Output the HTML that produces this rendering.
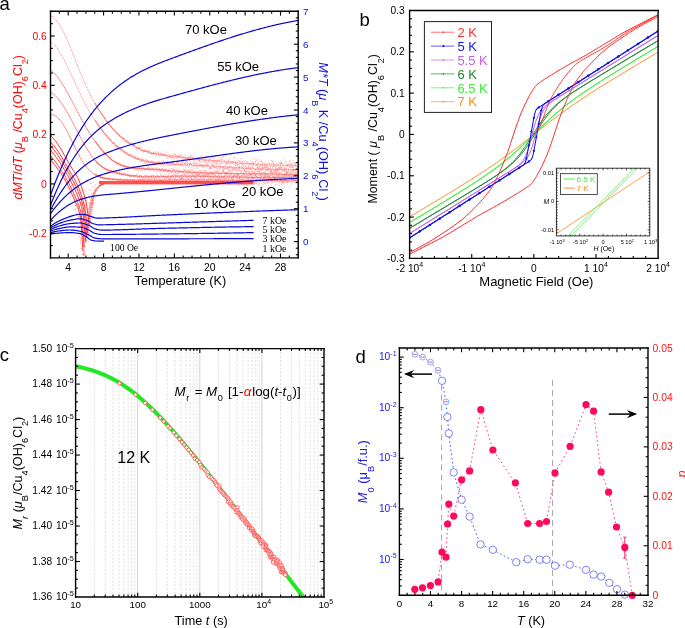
<!DOCTYPE html><html><head><meta charset="utf-8"><style>html,body{margin:0;padding:0;background:#fff;overflow:hidden}svg{display:block}</style></head><body>
<svg style="will-change:transform" width="685" height="628" viewBox="0 0 685 628">
<rect width="685" height="628" fill="#fff"/>
<defs><clipPath id="ca"><rect x="50.5" y="11.3" width="247.7" height="246.55"/></clipPath></defs>
<g clip-path="url(#ca)">
<path d="M50.5 15.89 L51.1 16.05 L51.7 16.27 L52.3 16.56 L52.9 16.91 L53.5 17.33 L54.1 17.8 L54.7 18.34 L55.3 18.93 L55.9 19.57 L56.5 20.27 L57.1 21.02 L57.7 21.83 L58.3 22.68 L58.9 23.58 L59.5 24.52 L60.1 25.51 L60.7 26.53 L61.3 27.6 L61.9 28.71 L62.5 29.86 L63.1 31.04 L63.7 32.25 L64.3 33.49 L64.9 34.77 L65.5 36.07 L66.1 37.4 L66.7 38.76 L67.3 40.14 L67.9 41.54 L68.5 42.96 L69.1 44.41 L69.7 45.86 L70.3 47.34 L70.9 48.82 L71.5 50.32 L72.1 51.83 L72.7 53.34 L73.3 54.87 L73.9 56.4 L74.5 57.93 L75.1 59.46 L75.7 60.99 L76.3 62.53 L76.9 64.06 L77.5 65.58 L78.1 67.1 L78.7 68.61 L79.3 70.1 L79.9 71.59 L80.5 73.07 L81.1 74.53 L81.7 75.97 L82.3 77.39 L82.9 78.8 L83.5 80.19 L84.1 81.56 L84.7 82.91 L85.3 84.25 L85.9 85.57 L86.5 86.87 L87.1 88.16 L87.7 89.43 L88.3 90.68 L88.9 91.91 L89.5 93.13 L90.1 94.34 L90.7 95.52 L91.3 96.69 L91.9 97.85 L92.5 98.98 L93.1 100.11 L93.7 101.21 L94.3 102.3 L94.9 103.38 L95.5 104.44 L96.1 105.49 L96.7 106.52 L97.3 107.53 L97.9 108.53 L98.5 109.52 L99.1 110.49 L99.7 111.45 L100.3 112.39 L100.9 113.32 L101.5 114.23 L102.1 115.13 L102.7 116.02 L103.3 116.89 L103.9 117.75 L104.5 118.6 L105.1 119.43 L105.7 120.25 L106.3 121.06 L106.9 121.85 L107.5 122.63 L108.1 123.4 L108.7 124.15 L109.3 124.9 L109.9 125.63 L110.5 126.34 L111.1 127.05 L111.7 127.74 L112.3 128.43 L112.9 129.1 L113.5 129.76 L114.1 130.4 L114.7 131.04 L115.3 131.67 L115.9 132.28 L116.5 132.88 L117.1 133.47 L117.7 134.05 L118.3 134.62 L118.9 135.18 L119.5 135.73 L120.1 136.27 L120.7 136.8 L121.3 137.32 L121.9 137.83 L122.5 138.32 L123.1 138.81 L123.7 139.29 L124.3 139.76 L124.9 140.22 L125.5 140.67 L126.1 141.11 L126.7 141.54 L127.3 141.97 L127.9 142.38 L128.5 142.79 L129.1 143.18 L129.7 143.57 L130.3 143.95 L130.9 144.32 L131.5 144.68 L132.1 145.04 L132.7 145.39 L133.3 145.72 L133.9 146.06 L134.5 146.38 L135.1 146.69 L135.7 147 L136.3 147.3 L136.9 147.6 L137.5 147.88 L138.1 148.16 L138.7 148.44 L139.3 148.7 L139.9 148.96 L140.5 149.21 L141.1 149.46 L141.7 149.7 L142.3 149.94 L142.9 150.16 L143.5 150.38 L144.1 150.6 L144.7 150.81 L145.3 151.02 L145.9 151.21 L146.5 151.41 L147.1 151.6 L147.7 151.78 L148.3 151.96 L148.9 152.13 L149.5 152.3 L150.1 152.46 L150.7 152.62 L151.3 152.77 L151.9 152.92 L152.5 153.07 L153.1 153.21 L153.7 153.35 L154.3 153.48 L154.9 153.61 L155.5 153.74 L156.1 153.86 L156.7 153.98 L157.3 154.09 L157.9 154.2 L158.5 154.31 L159.1 154.42 L159.7 154.52 L160.3 154.62 L160.9 154.72 L161.5 154.81 L162.1 154.9 L162.7 154.99 L163.3 155.08 L163.9 155.17 L164.5 155.25 L165.1 155.33 L165.7 155.41 L166.3 155.49 L166.9 155.56 L167.5 155.64 L168.1 155.71 L168.7 155.78 L169.3 155.85 L169.9 155.92 L170.5 155.99 L171.1 156.06 L171.7 156.13 L172.3 156.19 L172.9 156.26 L173.5 156.33 L174.1 156.39 L174.7 156.46 L175.3 156.52 L175.9 156.59 L176.5 156.65 L177.1 156.72 L177.7 156.78 L178.3 156.85 L178.9 156.91 L179.5 156.98 L180.1 157.05 L180.7 157.11 L181.3 157.18 L181.9 157.24 L182.5 157.31 L183.1 157.37 L183.7 157.44 L184.3 157.5 L184.9 157.57 L185.5 157.63 L186.1 157.7 L186.7 157.76 L187.3 157.83 L187.9 157.89 L188.5 157.96 L189.1 158.02 L189.7 158.09 L190.3 158.15 L190.9 158.21 L191.5 158.28 L192.1 158.34 L192.7 158.41 L193.3 158.47 L193.9 158.54 L194.5 158.6 L195.1 158.66 L195.7 158.73 L196.3 158.79 L196.9 158.85 L197.5 158.92 L198.1 158.98 L198.7 159.04 L199.3 159.11 L199.9 159.17 L200.5 159.23 L201.1 159.3 L201.7 159.36 L202.3 159.42 L202.9 159.48 L203.5 159.54 L204.1 159.61 L204.7 159.67 L205.3 159.73 L205.9 159.79 L206.5 159.85 L207.1 159.91 L207.7 159.97 L208.3 160.04 L208.9 160.1 L209.5 160.16 L210.1 160.22 L210.7 160.28 L211.3 160.34 L211.9 160.4 L212.5 160.46 L213.1 160.52 L213.7 160.58 L214.3 160.63 L214.9 160.69 L215.5 160.75 L216.1 160.81 L216.7 160.87 L217.3 160.93 L217.9 160.99 L218.5 161.04 L219.1 161.1 L219.7 161.16 L220.3 161.21 L220.9 161.27 L221.5 161.33 L222.1 161.38 L222.7 161.44 L223.3 161.5 L223.9 161.55 L224.5 161.61 L225.1 161.66 L225.7 161.72 L226.3 161.77 L226.9 161.83 L227.5 161.88 L228.1 161.93 L228.7 161.99 L229.3 162.04 L229.9 162.09 L230.5 162.15 L231.1 162.2 L231.7 162.25 L232.3 162.3 L232.9 162.35 L233.5 162.41 L234.1 162.46 L234.7 162.51 L235.3 162.56 L235.9 162.61 L236.5 162.66 L237.1 162.71 L237.7 162.76 L238.3 162.81 L238.9 162.85 L239.5 162.9 L240.1 162.95 L240.7 163 L241.3 163.05 L241.9 163.09 L242.5 163.14 L243.1 163.19 L243.7 163.23 L244.3 163.28 L244.9 163.32 L245.5 163.37 L246.1 163.41 L246.7 163.46 L247.3 163.5 L247.9 163.54 L248.5 163.59 L249.1 163.63 L249.7 163.67 L250.3 163.71 L250.9 163.76 L251.5 163.8 L252.1 163.84 L252.7 163.88 L253.3 163.92 L253.9 163.96 L254.5 164 L255.1 164.04 L255.7 164.07 L256.3 164.11 L256.9 164.15 L257.5 164.19 L258.1 164.22 L258.7 164.26 L259.3 164.3 L259.9 164.33 L260.5 164.37 L261.1 164.4 L261.7 164.44 L262.3 164.47 L262.9 164.51 L263.5 164.54 L264.1 164.57 L264.7 164.6 L265.3 164.64 L265.9 164.67 L266.5 164.7 L267.1 164.73 L267.7 164.76 L268.3 164.79 L268.9 164.82 L269.5 164.85 L270.1 164.87 L270.7 164.9 L271.3 164.93 L271.9 164.95 L272.5 164.98 L273.1 165.01 L273.7 165.03 L274.3 165.06 L274.9 165.08 L275.5 165.1 L276.1 165.13 L276.7 165.15 L277.3 165.17 L277.9 165.19 L278.5 165.22 L279.1 165.24 L279.7 165.26 L280.3 165.28 L280.9 165.3 L281.5 165.31 L282.1 165.33 L282.7 165.35 L283.3 165.37 L283.9 165.38 L284.5 165.4 L285.1 165.41 L285.7 165.43 L286.3 165.44 L286.9 165.46 L287.5 165.47 L288.1 165.48 L288.7 165.5 L289.3 165.51 L289.9 165.52 L290.5 165.53 L291.1 165.54 L291.7 165.55 L292.3 165.56 L292.9 165.56 L293.5 165.57 L294.1 165.58 L294.7 165.59 L295.3 165.59 L295.9 165.6 L296.5 165.6 L297.1 165.6 L297.7 165.61 L298.3 165.61" fill="none" stroke="#ff2a2a" stroke-width="0.8" stroke-dasharray="0.9 0.9" opacity="0.8"/>
<path d="M50.5 41.33 L51.1 41.77 L51.7 42.25 L52.3 42.78 L52.9 43.35 L53.5 43.96 L54.1 44.6 L54.7 45.28 L55.3 46 L55.9 46.76 L56.5 47.55 L57.1 48.37 L57.7 49.22 L58.3 50.1 L58.9 51.02 L59.5 51.96 L60.1 52.93 L60.7 53.93 L61.3 54.95 L61.9 55.99 L62.5 57.06 L63.1 58.15 L63.7 59.26 L64.3 60.39 L64.9 61.54 L65.5 62.71 L66.1 63.89 L66.7 65.09 L67.3 66.3 L67.9 67.53 L68.5 68.77 L69.1 70.02 L69.7 71.27 L70.3 72.54 L70.9 73.82 L71.5 75.1 L72.1 76.38 L72.7 77.67 L73.3 78.97 L73.9 80.26 L74.5 81.56 L75.1 82.86 L75.7 84.15 L76.3 85.44 L76.9 86.73 L77.5 88.02 L78.1 89.3 L78.7 90.57 L79.3 91.83 L79.9 93.09 L80.5 94.33 L81.1 95.57 L81.7 96.79 L82.3 98 L82.9 99.19 L83.5 100.38 L84.1 101.55 L84.7 102.7 L85.3 103.85 L85.9 104.98 L86.5 106.09 L87.1 107.2 L87.7 108.29 L88.3 109.37 L88.9 110.43 L89.5 111.49 L90.1 112.53 L90.7 113.56 L91.3 114.57 L91.9 115.57 L92.5 116.56 L93.1 117.54 L93.7 118.51 L94.3 119.46 L94.9 120.4 L95.5 121.33 L96.1 122.24 L96.7 123.15 L97.3 124.04 L97.9 124.92 L98.5 125.78 L99.1 126.64 L99.7 127.48 L100.3 128.31 L100.9 129.13 L101.5 129.94 L102.1 130.73 L102.7 131.51 L103.3 132.29 L103.9 133.04 L104.5 133.79 L105.1 134.53 L105.7 135.25 L106.3 135.96 L106.9 136.66 L107.5 137.35 L108.1 138.03 L108.7 138.7 L109.3 139.35 L109.9 139.99 L110.5 140.63 L111.1 141.25 L111.7 141.86 L112.3 142.45 L112.9 143.04 L113.5 143.62 L114.1 144.18 L114.7 144.73 L115.3 145.28 L115.9 145.81 L116.5 146.33 L117.1 146.84 L117.7 147.34 L118.3 147.83 L118.9 148.31 L119.5 148.78 L120.1 149.24 L120.7 149.69 L121.3 150.13 L121.9 150.56 L122.5 150.98 L123.1 151.39 L123.7 151.8 L124.3 152.19 L124.9 152.57 L125.5 152.95 L126.1 153.32 L126.7 153.67 L127.3 154.02 L127.9 154.37 L128.5 154.7 L129.1 155.02 L129.7 155.34 L130.3 155.65 L130.9 155.95 L131.5 156.24 L132.1 156.52 L132.7 156.8 L133.3 157.07 L133.9 157.33 L134.5 157.59 L135.1 157.84 L135.7 158.08 L136.3 158.31 L136.9 158.54 L137.5 158.76 L138.1 158.98 L138.7 159.18 L139.3 159.38 L139.9 159.58 L140.5 159.77 L141.1 159.95 L141.7 160.13 L142.3 160.3 L142.9 160.47 L143.5 160.63 L144.1 160.78 L144.7 160.93 L145.3 161.07 L145.9 161.21 L146.5 161.35 L147.1 161.48 L147.7 161.6 L148.3 161.72 L148.9 161.84 L149.5 161.95 L150.1 162.05 L150.7 162.16 L151.3 162.25 L151.9 162.35 L152.5 162.44 L153.1 162.53 L153.7 162.61 L154.3 162.69 L154.9 162.76 L155.5 162.84 L156.1 162.91 L156.7 162.97 L157.3 163.04 L157.9 163.1 L158.5 163.16 L159.1 163.21 L159.7 163.26 L160.3 163.32 L160.9 163.36 L161.5 163.41 L162.1 163.45 L162.7 163.5 L163.3 163.54 L163.9 163.57 L164.5 163.61 L165.1 163.65 L165.7 163.68 L166.3 163.71 L166.9 163.74 L167.5 163.77 L168.1 163.8 L168.7 163.83 L169.3 163.86 L169.9 163.89 L170.5 163.91 L171.1 163.94 L171.7 163.97 L172.3 163.99 L172.9 164.02 L173.5 164.05 L174.1 164.07 L174.7 164.1 L175.3 164.13 L175.9 164.15 L176.5 164.18 L177.1 164.21 L177.7 164.24 L178.3 164.27 L178.9 164.3 L179.5 164.33 L180.1 164.36 L180.7 164.39 L181.3 164.42 L181.9 164.45 L182.5 164.48 L183.1 164.51 L183.7 164.55 L184.3 164.58 L184.9 164.61 L185.5 164.64 L186.1 164.68 L186.7 164.71 L187.3 164.75 L187.9 164.78 L188.5 164.82 L189.1 164.85 L189.7 164.89 L190.3 164.92 L190.9 164.96 L191.5 164.99 L192.1 165.03 L192.7 165.07 L193.3 165.1 L193.9 165.14 L194.5 165.18 L195.1 165.22 L195.7 165.25 L196.3 165.29 L196.9 165.33 L197.5 165.37 L198.1 165.41 L198.7 165.45 L199.3 165.49 L199.9 165.53 L200.5 165.56 L201.1 165.6 L201.7 165.64 L202.3 165.68 L202.9 165.72 L203.5 165.76 L204.1 165.8 L204.7 165.84 L205.3 165.88 L205.9 165.92 L206.5 165.97 L207.1 166.01 L207.7 166.05 L208.3 166.09 L208.9 166.13 L209.5 166.17 L210.1 166.21 L210.7 166.25 L211.3 166.29 L211.9 166.33 L212.5 166.38 L213.1 166.42 L213.7 166.46 L214.3 166.5 L214.9 166.54 L215.5 166.58 L216.1 166.62 L216.7 166.66 L217.3 166.71 L217.9 166.75 L218.5 166.79 L219.1 166.83 L219.7 166.87 L220.3 166.91 L220.9 166.95 L221.5 166.99 L222.1 167.03 L222.7 167.07 L223.3 167.12 L223.9 167.16 L224.5 167.2 L225.1 167.24 L225.7 167.28 L226.3 167.32 L226.9 167.36 L227.5 167.4 L228.1 167.44 L228.7 167.48 L229.3 167.52 L229.9 167.56 L230.5 167.6 L231.1 167.63 L231.7 167.67 L232.3 167.71 L232.9 167.75 L233.5 167.79 L234.1 167.83 L234.7 167.87 L235.3 167.9 L235.9 167.94 L236.5 167.98 L237.1 168.02 L237.7 168.05 L238.3 168.09 L238.9 168.12 L239.5 168.16 L240.1 168.2 L240.7 168.23 L241.3 168.27 L241.9 168.3 L242.5 168.34 L243.1 168.37 L243.7 168.41 L244.3 168.44 L244.9 168.47 L245.5 168.51 L246.1 168.54 L246.7 168.57 L247.3 168.6 L247.9 168.64 L248.5 168.67 L249.1 168.7 L249.7 168.73 L250.3 168.76 L250.9 168.79 L251.5 168.82 L252.1 168.85 L252.7 168.88 L253.3 168.91 L253.9 168.93 L254.5 168.96 L255.1 168.99 L255.7 169.01 L256.3 169.04 L256.9 169.07 L257.5 169.09 L258.1 169.12 L258.7 169.14 L259.3 169.17 L259.9 169.19 L260.5 169.21 L261.1 169.24 L261.7 169.26 L262.3 169.28 L262.9 169.3 L263.5 169.32 L264.1 169.34 L264.7 169.36 L265.3 169.38 L265.9 169.4 L266.5 169.42 L267.1 169.43 L267.7 169.45 L268.3 169.47 L268.9 169.48 L269.5 169.5 L270.1 169.51 L270.7 169.52 L271.3 169.54 L271.9 169.55 L272.5 169.56 L273.1 169.57 L273.7 169.59 L274.3 169.6 L274.9 169.61 L275.5 169.61 L276.1 169.62 L276.7 169.63 L277.3 169.64 L277.9 169.64 L278.5 169.65 L279.1 169.65 L279.7 169.66 L280.3 169.66 L280.9 169.66 L281.5 169.67 L282.1 169.67 L282.7 169.67 L283.3 169.67 L283.9 169.67 L284.5 169.67 L285.1 169.66 L285.7 169.66 L286.3 169.66 L286.9 169.65 L287.5 169.65 L288.1 169.64 L288.7 169.64 L289.3 169.63 L289.9 169.62 L290.5 169.61 L291.1 169.6 L291.7 169.59 L292.3 169.58 L292.9 169.57 L293.5 169.55 L294.1 169.54 L294.7 169.52 L295.3 169.51 L295.9 169.49 L296.5 169.47 L297.1 169.45 L297.7 169.44 L298.3 169.42" fill="none" stroke="#ff2a2a" stroke-width="0.8" stroke-dasharray="0.9 0.9" opacity="0.8"/>
<path d="M50.5 69.84 L51.1 70.28 L51.7 70.75 L52.3 71.26 L52.9 71.81 L53.5 72.38 L54.1 72.99 L54.7 73.63 L55.3 74.3 L55.9 74.99 L56.5 75.72 L57.1 76.47 L57.7 77.25 L58.3 78.05 L58.9 78.88 L59.5 79.73 L60.1 80.61 L60.7 81.5 L61.3 82.42 L61.9 83.36 L62.5 84.31 L63.1 85.28 L63.7 86.27 L64.3 87.28 L64.9 88.3 L65.5 89.33 L66.1 90.38 L66.7 91.44 L67.3 92.51 L67.9 93.59 L68.5 94.68 L69.1 95.78 L69.7 96.89 L70.3 98.01 L70.9 99.13 L71.5 100.26 L72.1 101.39 L72.7 102.53 L73.3 103.67 L73.9 104.81 L74.5 105.96 L75.1 107.1 L75.7 108.25 L76.3 109.39 L76.9 110.53 L77.5 111.67 L78.1 112.81 L78.7 113.94 L79.3 115.07 L79.9 116.19 L80.5 117.3 L81.1 118.41 L81.7 119.51 L82.3 120.6 L82.9 121.68 L83.5 122.75 L84.1 123.81 L84.7 124.86 L85.3 125.9 L85.9 126.93 L86.5 127.95 L87.1 128.96 L87.7 129.97 L88.3 130.96 L88.9 131.94 L89.5 132.91 L90.1 133.86 L90.7 134.81 L91.3 135.75 L91.9 136.67 L92.5 137.58 L93.1 138.48 L93.7 139.37 L94.3 140.25 L94.9 141.12 L95.5 141.97 L96.1 142.81 L96.7 143.64 L97.3 144.46 L97.9 145.26 L98.5 146.05 L99.1 146.82 L99.7 147.59 L100.3 148.34 L100.9 149.07 L101.5 149.8 L102.1 150.51 L102.7 151.2 L103.3 151.88 L103.9 152.55 L104.5 153.2 L105.1 153.84 L105.7 154.46 L106.3 155.07 L106.9 155.66 L107.5 156.24 L108.1 156.8 L108.7 157.35 L109.3 157.88 L109.9 158.4 L110.5 158.9 L111.1 159.38 L111.7 159.85 L112.3 160.3 L112.9 160.74 L113.5 161.16 L114.1 161.56 L114.7 161.95 L115.3 162.32 L115.9 162.68 L116.5 163.02 L117.1 163.35 L117.7 163.66 L118.3 163.96 L118.9 164.25 L119.5 164.52 L120.1 164.78 L120.7 165.03 L121.3 165.27 L121.9 165.5 L122.5 165.71 L123.1 165.91 L123.7 166.11 L124.3 166.29 L124.9 166.46 L125.5 166.62 L126.1 166.78 L126.7 166.92 L127.3 167.06 L127.9 167.18 L128.5 167.3 L129.1 167.42 L129.7 167.52 L130.3 167.62 L130.9 167.71 L131.5 167.8 L132.1 167.88 L132.7 167.95 L133.3 168.02 L133.9 168.08 L134.5 168.14 L135.1 168.2 L135.7 168.25 L136.3 168.3 L136.9 168.34 L137.5 168.39 L138.1 168.43 L138.7 168.46 L139.3 168.5 L139.9 168.53 L140.5 168.57 L141.1 168.6 L141.7 168.63 L142.3 168.66 L142.9 168.69 L143.5 168.73 L144.1 168.76 L144.7 168.79 L145.3 168.83 L145.9 168.86 L146.5 168.9 L147.1 168.94 L147.7 168.98 L148.3 169.02 L148.9 169.06 L149.5 169.1 L150.1 169.14 L150.7 169.19 L151.3 169.23 L151.9 169.27 L152.5 169.32 L153.1 169.36 L153.7 169.41 L154.3 169.46 L154.9 169.5 L155.5 169.55 L156.1 169.6 L156.7 169.65 L157.3 169.7 L157.9 169.74 L158.5 169.79 L159.1 169.84 L159.7 169.89 L160.3 169.94 L160.9 169.99 L161.5 170.04 L162.1 170.09 L162.7 170.14 L163.3 170.2 L163.9 170.25 L164.5 170.3 L165.1 170.35 L165.7 170.4 L166.3 170.45 L166.9 170.5 L167.5 170.55 L168.1 170.6 L168.7 170.65 L169.3 170.7 L169.9 170.75 L170.5 170.8 L171.1 170.84 L171.7 170.89 L172.3 170.94 L172.9 170.99 L173.5 171.03 L174.1 171.08 L174.7 171.13 L175.3 171.17 L175.9 171.22 L176.5 171.26 L177.1 171.3 L177.7 171.35 L178.3 171.39 L178.9 171.43 L179.5 171.47 L180.1 171.51 L180.7 171.55 L181.3 171.59 L181.9 171.63 L182.5 171.67 L183.1 171.71 L183.7 171.75 L184.3 171.78 L184.9 171.82 L185.5 171.86 L186.1 171.89 L186.7 171.93 L187.3 171.96 L187.9 172 L188.5 172.03 L189.1 172.06 L189.7 172.1 L190.3 172.13 L190.9 172.16 L191.5 172.19 L192.1 172.22 L192.7 172.25 L193.3 172.28 L193.9 172.31 L194.5 172.34 L195.1 172.37 L195.7 172.4 L196.3 172.43 L196.9 172.46 L197.5 172.48 L198.1 172.51 L198.7 172.54 L199.3 172.56 L199.9 172.59 L200.5 172.61 L201.1 172.64 L201.7 172.66 L202.3 172.69 L202.9 172.71 L203.5 172.73 L204.1 172.76 L204.7 172.78 L205.3 172.8 L205.9 172.82 L206.5 172.84 L207.1 172.87 L207.7 172.89 L208.3 172.91 L208.9 172.93 L209.5 172.95 L210.1 172.97 L210.7 172.99 L211.3 173 L211.9 173.02 L212.5 173.04 L213.1 173.06 L213.7 173.08 L214.3 173.09 L214.9 173.11 L215.5 173.13 L216.1 173.14 L216.7 173.16 L217.3 173.18 L217.9 173.19 L218.5 173.21 L219.1 173.22 L219.7 173.24 L220.3 173.25 L220.9 173.27 L221.5 173.28 L222.1 173.3 L222.7 173.31 L223.3 173.32 L223.9 173.34 L224.5 173.35 L225.1 173.36 L225.7 173.38 L226.3 173.39 L226.9 173.4 L227.5 173.41 L228.1 173.42 L228.7 173.44 L229.3 173.45 L229.9 173.46 L230.5 173.47 L231.1 173.48 L231.7 173.49 L232.3 173.5 L232.9 173.51 L233.5 173.52 L234.1 173.53 L234.7 173.54 L235.3 173.55 L235.9 173.56 L236.5 173.57 L237.1 173.58 L237.7 173.59 L238.3 173.6 L238.9 173.61 L239.5 173.62 L240.1 173.63 L240.7 173.64 L241.3 173.65 L241.9 173.66 L242.5 173.67 L243.1 173.67 L243.7 173.68 L244.3 173.69 L244.9 173.7 L245.5 173.71 L246.1 173.72 L246.7 173.72 L247.3 173.73 L247.9 173.74 L248.5 173.75 L249.1 173.76 L249.7 173.76 L250.3 173.77 L250.9 173.78 L251.5 173.79 L252.1 173.8 L252.7 173.8 L253.3 173.81 L253.9 173.82 L254.5 173.83 L255.1 173.84 L255.7 173.84 L256.3 173.85 L256.9 173.86 L257.5 173.87 L258.1 173.88 L258.7 173.88 L259.3 173.89 L259.9 173.9 L260.5 173.91 L261.1 173.92 L261.7 173.92 L262.3 173.93 L262.9 173.94 L263.5 173.95 L264.1 173.96 L264.7 173.97 L265.3 173.97 L265.9 173.98 L266.5 173.99 L267.1 174 L267.7 174.01 L268.3 174.02 L268.9 174.03 L269.5 174.04 L270.1 174.05 L270.7 174.06 L271.3 174.07 L271.9 174.08 L272.5 174.09 L273.1 174.1 L273.7 174.11 L274.3 174.12 L274.9 174.13 L275.5 174.14 L276.1 174.15 L276.7 174.16 L277.3 174.17 L277.9 174.18 L278.5 174.19 L279.1 174.2 L279.7 174.22 L280.3 174.23 L280.9 174.24 L281.5 174.25 L282.1 174.27 L282.7 174.28 L283.3 174.29 L283.9 174.3 L284.5 174.32 L285.1 174.33 L285.7 174.35 L286.3 174.36 L286.9 174.37 L287.5 174.39 L288.1 174.4 L288.7 174.42 L289.3 174.43 L289.9 174.45 L290.5 174.46 L291.1 174.48 L291.7 174.5 L292.3 174.51 L292.9 174.53 L293.5 174.55 L294.1 174.57 L294.7 174.58 L295.3 174.6 L295.9 174.62 L296.5 174.64 L297.1 174.66 L297.7 174.68 L298.3 174.7" fill="none" stroke="#ff2a2a" stroke-width="0.8" stroke-dasharray="1.6 0.4" opacity="0.9"/>
<path d="M50.5 92.25 L51.1 92.55 L51.7 92.89 L52.3 93.27 L52.9 93.68 L53.5 94.14 L54.1 94.62 L54.7 95.15 L55.3 95.71 L55.9 96.3 L56.5 96.93 L57.1 97.58 L57.7 98.27 L58.3 98.98 L58.9 99.73 L59.5 100.5 L60.1 101.3 L60.7 102.12 L61.3 102.97 L61.9 103.85 L62.5 104.74 L63.1 105.66 L63.7 106.59 L64.3 107.55 L64.9 108.53 L65.5 109.52 L66.1 110.53 L66.7 111.56 L67.3 112.6 L67.9 113.65 L68.5 114.72 L69.1 115.8 L69.7 116.89 L70.3 117.99 L70.9 119.1 L71.5 120.22 L72.1 121.35 L72.7 122.48 L73.3 123.62 L73.9 124.76 L74.5 125.9 L75.1 127.05 L75.7 128.2 L76.3 129.34 L76.9 130.49 L77.5 131.64 L78.1 132.78 L78.7 133.92 L79.3 135.06 L79.9 136.19 L80.5 137.32 L81.1 138.44 L81.7 139.54 L82.3 140.65 L82.9 141.74 L83.5 142.82 L84.1 143.88 L84.7 144.94 L85.3 145.98 L85.9 147.01 L86.5 148.03 L87.1 149.03 L87.7 150.01 L88.3 150.98 L88.9 151.93 L89.5 152.86 L90.1 153.77 L90.7 154.67 L91.3 155.54 L91.9 156.39 L92.5 157.22 L93.1 158.02 L93.7 158.8 L94.3 159.56 L94.9 160.29 L95.5 161 L96.1 161.68 L96.7 162.33 L97.3 162.95 L97.9 163.55 L98.5 164.11 L99.1 164.65 L99.7 165.17 L100.3 165.66 L100.9 166.12 L101.5 166.57 L102.1 166.99 L102.7 167.39 L103.3 167.77 L103.9 168.13 L104.5 168.47 L105.1 168.8 L105.7 169.11 L106.3 169.4 L106.9 169.68 L107.5 169.95 L108.1 170.2 L108.7 170.44 L109.3 170.67 L109.9 170.89 L110.5 171.1 L111.1 171.31 L111.7 171.51 L112.3 171.7 L112.9 171.88 L113.5 172.07 L114.1 172.24 L114.7 172.42 L115.3 172.59 L115.9 172.75 L116.5 172.91 L117.1 173.07 L117.7 173.22 L118.3 173.37 L118.9 173.51 L119.5 173.65 L120.1 173.79 L120.7 173.92 L121.3 174.05 L121.9 174.18 L122.5 174.3 L123.1 174.42 L123.7 174.53 L124.3 174.64 L124.9 174.75 L125.5 174.85 L126.1 174.95 L126.7 175.05 L127.3 175.14 L127.9 175.23 L128.5 175.32 L129.1 175.4 L129.7 175.48 L130.3 175.56 L130.9 175.63 L131.5 175.71 L132.1 175.77 L132.7 175.84 L133.3 175.9 L133.9 175.96 L134.5 176.02 L135.1 176.08 L135.7 176.13 L136.3 176.18 L136.9 176.22 L137.5 176.27 L138.1 176.31 L138.7 176.35 L139.3 176.39 L139.9 176.42 L140.5 176.46 L141.1 176.49 L141.7 176.52 L142.3 176.54 L142.9 176.57 L143.5 176.59 L144.1 176.61 L144.7 176.63 L145.3 176.65 L145.9 176.66 L146.5 176.68 L147.1 176.69 L147.7 176.7 L148.3 176.71 L148.9 176.71 L149.5 176.72 L150.1 176.72 L150.7 176.73 L151.3 176.73 L151.9 176.73 L152.5 176.73 L153.1 176.72 L153.7 176.72 L154.3 176.72 L154.9 176.71 L155.5 176.71 L156.1 176.7 L156.7 176.69 L157.3 176.68 L157.9 176.67 L158.5 176.66 L159.1 176.65 L159.7 176.64 L160.3 176.62 L160.9 176.61 L161.5 176.6 L162.1 176.58 L162.7 176.57 L163.3 176.55 L163.9 176.54 L164.5 176.52 L165.1 176.51 L165.7 176.49 L166.3 176.48 L166.9 176.46 L167.5 176.44 L168.1 176.43 L168.7 176.41 L169.3 176.4 L169.9 176.38 L170.5 176.37 L171.1 176.35 L171.7 176.34 L172.3 176.32 L172.9 176.31 L173.5 176.3 L174.1 176.29 L174.7 176.27 L175.3 176.26 L175.9 176.25 L176.5 176.24 L177.1 176.23 L177.7 176.22 L178.3 176.22 L178.9 176.21 L179.5 176.2 L180.1 176.19 L180.7 176.19 L181.3 176.18 L181.9 176.18 L182.5 176.18 L183.1 176.17 L183.7 176.17 L184.3 176.17 L184.9 176.16 L185.5 176.16 L186.1 176.16 L186.7 176.16 L187.3 176.16 L187.9 176.16 L188.5 176.17 L189.1 176.17 L189.7 176.17 L190.3 176.17 L190.9 176.17 L191.5 176.18 L192.1 176.18 L192.7 176.19 L193.3 176.19 L193.9 176.2 L194.5 176.2 L195.1 176.21 L195.7 176.22 L196.3 176.22 L196.9 176.23 L197.5 176.24 L198.1 176.25 L198.7 176.25 L199.3 176.26 L199.9 176.27 L200.5 176.28 L201.1 176.29 L201.7 176.3 L202.3 176.31 L202.9 176.32 L203.5 176.34 L204.1 176.35 L204.7 176.36 L205.3 176.37 L205.9 176.38 L206.5 176.4 L207.1 176.41 L207.7 176.42 L208.3 176.43 L208.9 176.45 L209.5 176.46 L210.1 176.48 L210.7 176.49 L211.3 176.5 L211.9 176.52 L212.5 176.53 L213.1 176.55 L213.7 176.56 L214.3 176.58 L214.9 176.59 L215.5 176.61 L216.1 176.63 L216.7 176.64 L217.3 176.66 L217.9 176.67 L218.5 176.69 L219.1 176.71 L219.7 176.72 L220.3 176.74 L220.9 176.76 L221.5 176.77 L222.1 176.79 L222.7 176.81 L223.3 176.82 L223.9 176.84 L224.5 176.86 L225.1 176.88 L225.7 176.89 L226.3 176.91 L226.9 176.93 L227.5 176.94 L228.1 176.96 L228.7 176.98 L229.3 177 L229.9 177.01 L230.5 177.03 L231.1 177.05 L231.7 177.06 L232.3 177.08 L232.9 177.1 L233.5 177.11 L234.1 177.13 L234.7 177.15 L235.3 177.16 L235.9 177.18 L236.5 177.2 L237.1 177.21 L237.7 177.23 L238.3 177.24 L238.9 177.26 L239.5 177.28 L240.1 177.29 L240.7 177.31 L241.3 177.32 L241.9 177.34 L242.5 177.35 L243.1 177.37 L243.7 177.38 L244.3 177.4 L244.9 177.41 L245.5 177.42 L246.1 177.44 L246.7 177.45 L247.3 177.46 L247.9 177.48 L248.5 177.49 L249.1 177.5 L249.7 177.51 L250.3 177.52 L250.9 177.54 L251.5 177.55 L252.1 177.56 L252.7 177.57 L253.3 177.58 L253.9 177.59 L254.5 177.6 L255.1 177.61 L255.7 177.62 L256.3 177.62 L256.9 177.63 L257.5 177.64 L258.1 177.65 L258.7 177.65 L259.3 177.66 L259.9 177.67 L260.5 177.67 L261.1 177.68 L261.7 177.68 L262.3 177.69 L262.9 177.69 L263.5 177.7 L264.1 177.7 L264.7 177.7 L265.3 177.7 L265.9 177.71 L266.5 177.71 L267.1 177.71 L267.7 177.71 L268.3 177.71 L268.9 177.71 L269.5 177.71 L270.1 177.7 L270.7 177.7 L271.3 177.7 L271.9 177.7 L272.5 177.69 L273.1 177.69 L273.7 177.68 L274.3 177.68 L274.9 177.67 L275.5 177.66 L276.1 177.66 L276.7 177.65 L277.3 177.64 L277.9 177.63 L278.5 177.62 L279.1 177.61 L279.7 177.6 L280.3 177.59 L280.9 177.57 L281.5 177.56 L282.1 177.55 L282.7 177.53 L283.3 177.52 L283.9 177.5 L284.5 177.48 L285.1 177.47 L285.7 177.45 L286.3 177.43 L286.9 177.41 L287.5 177.39 L288.1 177.37 L288.7 177.35 L289.3 177.32 L289.9 177.3 L290.5 177.28 L291.1 177.25 L291.7 177.23 L292.3 177.2 L292.9 177.17 L293.5 177.14 L294.1 177.11 L294.7 177.08 L295.3 177.05 L295.9 177.02 L296.5 176.99 L297.1 176.96 L297.7 176.92 L298.3 176.89" fill="none" stroke="#ff2a2a" stroke-width="0.8" stroke-dasharray="1.6 0.4" opacity="0.9"/>
<path d="M50.5 114.83 L51.1 114.74 L51.7 114.71 L52.3 114.75 L52.9 114.85 L53.5 115 L54.1 115.21 L54.7 115.48 L55.3 115.81 L55.9 116.19 L56.5 116.62 L57.1 117.1 L57.7 117.63 L58.3 118.21 L58.9 118.83 L59.5 119.51 L60.1 120.22 L60.7 120.98 L61.3 121.78 L61.9 122.61 L62.5 123.49 L63.1 124.4 L63.7 125.35 L64.3 126.34 L64.9 127.35 L65.5 128.4 L66.1 129.48 L66.7 130.58 L67.3 131.71 L67.9 132.87 L68.5 134.04 L69.1 135.24 L69.7 136.45 L70.3 137.67 L70.9 138.91 L71.5 140.15 L72.1 141.4 L72.7 142.65 L73.3 143.9 L73.9 145.16 L74.5 146.41 L75.1 147.65 L75.7 148.88 L76.3 150.1 L76.9 151.31 L77.5 152.5 L78.1 153.68 L78.7 154.83 L79.3 155.96 L79.9 157.06 L80.5 158.13 L81.1 159.18 L81.7 160.19 L82.3 161.16 L82.9 162.1 L83.5 163 L84.1 163.87 L84.7 164.71 L85.3 165.52 L85.9 166.29 L86.5 167.04 L87.1 167.75 L87.7 168.44 L88.3 169.09 L88.9 169.72 L89.5 170.32 L90.1 170.89 L90.7 171.44 L91.3 171.96 L91.9 172.45 L92.5 172.93 L93.1 173.38 L93.7 173.8 L94.3 174.2 L94.9 174.59 L95.5 174.95 L96.1 175.29 L96.7 175.61 L97.3 175.91 L97.9 176.2 L98.5 176.46 L99.1 176.71 L99.7 176.95 L100.3 177.17 L100.9 177.37 L101.5 177.56 L102.1 177.73 L102.7 177.9 L103.3 178.05 L103.9 178.18 L104.5 178.31 L105.1 178.43 L105.7 178.54 L106.3 178.64 L106.9 178.73 L107.5 178.81 L108.1 178.89 L108.7 178.96 L109.3 179.02 L109.9 179.08 L110.5 179.14 L111.1 179.19 L111.7 179.24 L112.3 179.28 L112.9 179.33 L113.5 179.37 L114.1 179.42 L114.7 179.46 L115.3 179.5 L115.9 179.54 L116.5 179.57 L117.1 179.61 L117.7 179.65 L118.3 179.68 L118.9 179.71 L119.5 179.75 L120.1 179.78 L120.7 179.81 L121.3 179.84 L121.9 179.87 L122.5 179.89 L123.1 179.92 L123.7 179.94 L124.3 179.97 L124.9 179.99 L125.5 180.01 L126.1 180.04 L126.7 180.06 L127.3 180.08 L127.9 180.1 L128.5 180.11 L129.1 180.13 L129.7 180.15 L130.3 180.16 L130.9 180.18 L131.5 180.19 L132.1 180.21 L132.7 180.22 L133.3 180.23 L133.9 180.24 L134.5 180.25 L135.1 180.26 L135.7 180.27 L136.3 180.28 L136.9 180.29 L137.5 180.29 L138.1 180.3 L138.7 180.31 L139.3 180.31 L139.9 180.32 L140.5 180.32 L141.1 180.32 L141.7 180.33 L142.3 180.33 L142.9 180.33 L143.5 180.33 L144.1 180.33 L144.7 180.33 L145.3 180.33 L145.9 180.33 L146.5 180.33 L147.1 180.33 L147.7 180.33 L148.3 180.33 L148.9 180.32 L149.5 180.32 L150.1 180.32 L150.7 180.32 L151.3 180.31 L151.9 180.31 L152.5 180.3 L153.1 180.3 L153.7 180.29 L154.3 180.29 L154.9 180.28 L155.5 180.28 L156.1 180.27 L156.7 180.27 L157.3 180.26 L157.9 180.25 L158.5 180.25 L159.1 180.24 L159.7 180.24 L160.3 180.23 L160.9 180.22 L161.5 180.22 L162.1 180.21 L162.7 180.2 L163.3 180.19 L163.9 180.19 L164.5 180.18 L165.1 180.17 L165.7 180.17 L166.3 180.16 L166.9 180.15 L167.5 180.15 L168.1 180.14 L168.7 180.13 L169.3 180.13 L169.9 180.12 L170.5 180.11 L171.1 180.11 L171.7 180.1 L172.3 180.1 L172.9 180.09 L173.5 180.09 L174.1 180.08 L174.7 180.08 L175.3 180.07 L175.9 180.07 L176.5 180.06 L177.1 180.06 L177.7 180.06 L178.3 180.05 L178.9 180.05 L179.5 180.05 L180.1 180.04 L180.7 180.04 L181.3 180.04 L181.9 180.04 L182.5 180.04 L183.1 180.04 L183.7 180.03 L184.3 180.03 L184.9 180.03 L185.5 180.03 L186.1 180.03 L186.7 180.03 L187.3 180.03 L187.9 180.03 L188.5 180.03 L189.1 180.03 L189.7 180.03 L190.3 180.03 L190.9 180.04 L191.5 180.04 L192.1 180.04 L192.7 180.04 L193.3 180.04 L193.9 180.04 L194.5 180.05 L195.1 180.05 L195.7 180.05 L196.3 180.05 L196.9 180.06 L197.5 180.06 L198.1 180.06 L198.7 180.07 L199.3 180.07 L199.9 180.07 L200.5 180.08 L201.1 180.08 L201.7 180.09 L202.3 180.09 L202.9 180.09 L203.5 180.1 L204.1 180.1 L204.7 180.11 L205.3 180.11 L205.9 180.12 L206.5 180.12 L207.1 180.13 L207.7 180.13 L208.3 180.14 L208.9 180.14 L209.5 180.15 L210.1 180.15 L210.7 180.16 L211.3 180.16 L211.9 180.17 L212.5 180.18 L213.1 180.18 L213.7 180.19 L214.3 180.19 L214.9 180.2 L215.5 180.21 L216.1 180.21 L216.7 180.22 L217.3 180.22 L217.9 180.23 L218.5 180.24 L219.1 180.24 L219.7 180.25 L220.3 180.26 L220.9 180.26 L221.5 180.27 L222.1 180.28 L222.7 180.28 L223.3 180.29 L223.9 180.29 L224.5 180.3 L225.1 180.31 L225.7 180.31 L226.3 180.32 L226.9 180.33 L227.5 180.33 L228.1 180.34 L228.7 180.35 L229.3 180.35 L229.9 180.36 L230.5 180.37 L231.1 180.37 L231.7 180.38 L232.3 180.39 L232.9 180.39 L233.5 180.4 L234.1 180.41 L234.7 180.41 L235.3 180.42 L235.9 180.42 L236.5 180.43 L237.1 180.44 L237.7 180.44 L238.3 180.45 L238.9 180.46 L239.5 180.46 L240.1 180.47 L240.7 180.47 L241.3 180.48 L241.9 180.48 L242.5 180.49 L243.1 180.49 L243.7 180.5 L244.3 180.51 L244.9 180.51 L245.5 180.52 L246.1 180.52 L246.7 180.53 L247.3 180.53 L247.9 180.54 L248.5 180.54 L249.1 180.54 L249.7 180.55 L250.3 180.55 L250.9 180.56 L251.5 180.56 L252.1 180.56 L252.7 180.57 L253.3 180.57 L253.9 180.58 L254.5 180.58 L255.1 180.58 L255.7 180.59 L256.3 180.59 L256.9 180.59 L257.5 180.59 L258.1 180.6 L258.7 180.6 L259.3 180.6 L259.9 180.6 L260.5 180.6 L261.1 180.61 L261.7 180.61 L262.3 180.61 L262.9 180.61 L263.5 180.61 L264.1 180.61 L264.7 180.61 L265.3 180.61 L265.9 180.61 L266.5 180.61 L267.1 180.61 L267.7 180.61 L268.3 180.61 L268.9 180.61 L269.5 180.61 L270.1 180.61 L270.7 180.61 L271.3 180.6 L271.9 180.6 L272.5 180.6 L273.1 180.6 L273.7 180.59 L274.3 180.59 L274.9 180.59 L275.5 180.58 L276.1 180.58 L276.7 180.58 L277.3 180.57 L277.9 180.57 L278.5 180.56 L279.1 180.56 L279.7 180.55 L280.3 180.55 L280.9 180.54 L281.5 180.54 L282.1 180.53 L282.7 180.52 L283.3 180.52 L283.9 180.51 L284.5 180.5 L285.1 180.49 L285.7 180.49 L286.3 180.48 L286.9 180.47 L287.5 180.46 L288.1 180.45 L288.7 180.44 L289.3 180.43 L289.9 180.42 L290.5 180.41 L291.1 180.4 L291.7 180.39 L292.3 180.38 L292.9 180.36 L293.5 180.35 L294.1 180.34 L294.7 180.33 L295.3 180.31 L295.9 180.3 L296.5 180.29 L297.1 180.27 L297.7 180.26 L298.3 180.24" fill="none" stroke="#ff2a2a" stroke-width="0.8" stroke-dasharray="1.6 0.4" opacity="0.9"/>
<path d="M95.09 103.48h0.8M94.74 103.71h0.8M95.28 104.25h0.8M95.55 104.46h0.8M95.84 105.8h0.8M95.85 105.56h0.8M96.42 105.93h0.8M96.48 106.69h0.8M97.25 106.86h0.8M97.14 106.84h0.8M97.97 108.37h0.8M97.62 108.27h0.8M98.19 109.28h0.8M98.49 109.31h0.8M98.93 110.25h0.8M98.77 110.44h0.8M99.14 110.87h0.8M99.22 110.94h0.8M99.84 111.71h0.8M100 111.55h0.8M100.68 112.45h0.8M100.62 112.77h0.8M101.07 113.56h0.8M101.28 113.96h0.8M101.89 114.35h0.8M101.37 114.12h0.8M101.94 114.73h0.8M102.14 115.48h0.8M102.86 116.5h0.8M102.74 116.14h0.8M103.37 117.03h0.8M103.31 116.61h0.8M104 117.27h0.8M104.07 117.42h0.8M104.09 117.87h0.8M104.47 118.47h0.8M105.09 118.46h0.8M104.77 118.24h0.8M105.16 119.49h0.8M105.43 120.27h0.8M105.74 120.75h0.8M106.16 120.82h0.8M106.48 121.59h0.8M106.77 121.6h0.8M107.13 122.49h0.8M107.33 122.32h0.8M107.52 123.16h0.8M107.6 122.1h0.8M108.47 122.99h0.8M107.99 124.18h0.8M108.59 124.35h0.8M108.74 124.48h0.8M109 124.62h0.8M109.25 124.72h0.8M110.12 125.19h0.8M109.96 125.97h0.8M110.51 125.62h0.8M110.13 126.17h0.8M111.17 127.5h0.8M111.13 126.42h0.8M111.26 127.16h0.8M111.58 127.8h0.8M111.88 128.3h0.8M111.85 128.21h0.8M112.3 128.68h0.8M112.39 128.89h0.8M112.87 129.73h0.8M113.37 129.64h0.8M113.55 129.77h0.8M113.61 129.8h0.8M114.46 130.4h0.8M114.55 130.75h0.8M114.55 130.59h0.8M114.56 131.27h0.8M115.55 131.5h0.8M115.15 132.04h0.8M115.92 133.51h0.8M115.69 132.46h0.8M116.47 132.72h0.8M116.74 132.8h0.8M116.86 133.9h0.8M116.92 132.77h0.8M117.57 134.36h0.8M117.72 134.7h0.8M118.29 134.25h0.8M118.39 134.77h0.8M118.84 135.54h0.8M118.79 134.17h0.8M119.11 135.56h0.8M118.92 136.12h0.8M119.61 136.4h0.8M119.87 136.04h0.8M120.56 137.04h0.8M120.59 136.28h0.8M120.68 137.45h0.8M120.69 136.78h0.8M121.47 137.53h0.8M121.64 137.77h0.8M122.04 138.23h0.8M122.13 137.3h0.8M122.75 139.07h0.8M122.67 138.77h0.8M122.86 138.77h0.8M123.22 138.09h0.8M123.88 138.67h0.8M123.54 140.16h0.8M124.28 138.43h0.8M123.95 140.51h0.8M124.94 140.32h0.8M124.88 140.32h0.8M125.54 141.2h0.8M125.34 141.42h0.8M125.58 140.42h0.8M125.51 141.54h0.8M126.37 142.21h0.8M126.61 141.12h0.8M127.1 140.48h0.8M126.73 142.22h0.8M127.29 142.06h0.8M127.5 142.62h0.8M127.78 142.41h0.8M128.25 143.14h0.8M128.6 142.37h0.8M128.79 143.41h0.8M129.1 141.85h0.8M129.12 143.91h0.8M129.61 143.41h0.8M129.46 143.52h0.8M130 145.13h0.8M130.18 143.92h0.8M130.65 144.09h0.8M130.76 143.35h0.8M131.06 143.4h0.8M131.34 144.14h0.8M132.01 144.9h0.8M131.85 145.47h0.8M132.65 144.08h0.8M132.37 144.75h0.8M132.96 144.87h0.8M133.07 144.97h0.8M133.49 144.97h0.8M133.76 146.1h0.8M134.32 145.66h0.8M133.91 144.69h0.8M134.8 144.76h0.8M134.38 145.78h0.8M134.89 147.31h0.8M134.99 147.29h0.8M135.87 148.02h0.8M135.94 147.51h0.8M136.35 147.97h0.8M136.04 148.29h0.8M136.63 149.06h0.8M137.07 146.18h0.8M137.64 147.08h0.8M137.55 148.35h0.8M137.91 148.52h0.8M137.8 148.79h0.8M138.58 148.56h0.8M138.16 148.98h0.8M138.71 147.75h0.8M138.9 148.28h0.8M139.29 148.12h0.8M139.84 148.13h0.8M139.86 149.57h0.8M139.96 146.92h0.8M140.51 150.67h0.8M140.43 149.63h0.8M141.39 147.88h0.8M141.06 150.37h0.8M141.79 150.84h0.8M141.87 151.25h0.8M142.41 150.18h0.8M142.26 150.09h0.8M142.93 151.96h0.8M143.03 151.03h0.8M143.14 151.82h0.8M143.62 151.2h0.8M143.98 149.79h0.8M144.21 150.77h0.8M144.52 150.69h0.8M144.34 151.2h0.8M144.78 151.34h0.8M144.87 151.26h0.8M145.76 150.83h0.8M145.47 151.82h0.8M146.06 150.73h0.8M145.86 151.29h0.8M146.84 151.47h0.8M146.73 151.63h0.8M147.51 152.03h0.8M147.01 152.61h0.8M147.8 152.22h0.8M148 150.92h0.8M148.46 151.11h0.8M148.64 152.66h0.8M149.02 151.16h0.8M148.98 153.61h0.8M149.18 151.56h0.8M149.23 152.77h0.8M149.85 153.84h0.8M149.8 153.11h0.8M150.77 154.16h0.8M150.65 153.51h0.8M150.98 152.58h0.8M151.08 153.43h0.8M151.51 153.44h0.8M151.93 153.74h0.8M152.05 154.21h0.8M152.48 152.79h0.8M152.45 152.79h0.8M152.68 153.99h0.8M153.12 152.1h0.8M153.3 153.44h0.8M153.6 154.16h0.8M153.79 153.41h0.8M154.28 153.71h0.8M154.24 153.56h0.8M155.1 152.55h0.8M155.04 152.98h0.8M155.43 153.29h0.8M155.4 151.68h0.8M156.18 154.43h0.8M156.14 153.79h0.8M156.84 155.85h0.8M156.68 154.49h0.8M156.93 153.87h0.8M157.16 152.17h0.8M157.88 152.17h0.8M157.9 154.11h0.8M158.36 152.34h0.8M158.37 153.14h0.8M158.58 154.4h0.8M158.72 154.63h0.8M159.39 156.07h0.8M159.43 155.71h0.8M159.89 153.41h0.8M159.6 153.39h0.8M160.45 155.18h0.8M160.47 152.92h0.8M161.14 154.51h0.8M160.85 154.39h0.8M161.69 155.59h0.8M161.37 155.21h0.8M162.1 154.71h0.8M162.03 151.89h0.8M162.81 153.31h0.8M162.72 155.21h0.8M162.99 154.78h0.8M163.05 154.71h0.8M163.79 155.1h0.8M163.46 154.18h0.8M164.4 156.06h0.8M164.42 155.56h0.8M164.86 154.87h0.8M164.83 154.45h0.8M165.64 154.8h0.8M165.22 155.49h0.8M165.66 158.13h0.8M165.93 155.07h0.8M166.47 156.81h0.8M166.36 152.75h0.8M166.88 156.29h0.8M167.1 158.32h0.8M167.87 156.55h0.8M167.38 156.77h0.8M168.38 156.32h0.8M168.27 154.44h0.8M168.69 156.08h0.8M168.41 158.31h0.8M169.22 157.24h0.8M169.13 155.88h0.8M169.69 156.61h0.8M170 156.77h0.8M170.55 158h0.8M170.12 156h0.8M171.14 157.76h0.8M170.77 155.18h0.8M171.75 155.25h0.8M171.5 156.98h0.8M171.87 155.32h0.8M171.73 157.16h0.8M172.42 158.11h0.8M172.81 157.63h0.8M173.11 156.29h0.8M172.91 157.26h0.8M173.88 154.14h0.8M173.84 158.59h0.8M174.46 154.5h0.8M174.23 154.35h0.8M174.89 156.39h0.8M174.72 156.06h0.8M175.17 156.55h0.8M175.03 154.68h0.8M175.83 157.18h0.8M175.76 156.28h0.8M176.69 156.02h0.8M176.26 158.67h0.8M176.98 156.09h0.8M176.89 155.79h0.8M177.32 157.15h0.8M177.74 157.44h0.8M178.29 155.9h0.8M178.35 156.84h0.8M178.42 156.19h0.8M178.35 157.11h0.8M178.99 156.62h0.8M179.01 157.43h0.8M179.85 154.47h0.8M179.65 155.82h0.8M180.18 155.66h0.8M180.15 157.91h0.8M181.08 158.13h0.8M180.58 157.54h0.8M181.57 155.27h0.8M181.18 157.14h0.8M181.84 157.11h0.8M181.87 158.26h0.8M182.67 159.86h0.8M182.16 156.54h0.8M183.24 159.49h0.8M182.98 157.8h0.8M183.48 157.4h0.8M183.81 157.41h0.8M184.38 158.73h0.8M183.95 155.04h0.8M184.66 158.17h0.8M184.76 158.05h0.8M185.29 159.7h0.8M185.36 156.79h0.8M185.47 155.93h0.8M185.92 158.13h0.8M186.39 158.07h0.8M186.18 160.89h0.8M186.93 158.53h0.8M186.97 158.56h0.8M187.41 158.26h0.8M187.45 158.19h0.8M188.01 157.11h0.8M187.66 158.56h0.8M188.78 157.44h0.8M188.59 159.48h0.8M188.89 159.25h0.8M188.9 156.91h0.8M189.48 160.29h0.8M189.31 157.51h0.8M190.1 155.93h0.8M190 158.16h0.8M190.54 156.52h0.8M190.42 155.27h0.8M191.36 157.44h0.8M191.07 159.57h0.8M191.8 159.02h0.8M191.62 155.97h0.8M192.54 159.64h0.8M192.19 158.13h0.8M192.78 158.88h0.8M193.17 160.94h0.8M193.28 157.51h0.8M193.4 158.51h0.8M193.79 156.66h0.8M193.94 155.35h0.8M194.34 159.56h0.8M194.28 162.63h0.8M195.34 160.09h0.8M195.33 159.23h0.8M195.91 158.14h0.8M195.55 153.4h0.8M196.35 160.21h0.8M195.92 162.12h0.8M196.67 158.06h0.8M196.65 157.53h0.8M197.17 158.95h0.8M197.21 159h0.8M198.13 159.73h0.8M197.67 158.73h0.8M198.59 157.19h0.8M198.36 161.31h0.8M198.87 160.78h0.8M199.2 159.62h0.8M199.74 159.66h0.8M199.22 160.55h0.8M200.21 156.71h0.8M199.77 160.74h0.8M200.85 159.81h0.8M200.45 159.37h0.8M201.05 159.24h0.8M201.01 155.85h0.8M201.56 161.53h0.8M201.83 158.77h0.8M201.95 158.88h0.8M202.4 160.61h0.8M203.07 161.48h0.8M202.51 158.31h0.8M203.62 159.72h0.8M203.62 161.39h0.8M203.86 158.64h0.8M203.9 160.41h0.8M204.63 160.59h0.8M204.59 159.18h0.8M205.06 160.96h0.8M204.9 157.13h0.8M205.72 159.08h0.8M205.3 161.19h0.8M205.95 160.72h0.8M205.84 162.47h0.8M206.55 161.96h0.8M206.94 160.32h0.8M207.06 163.66h0.8M206.95 156.56h0.8M207.88 161.62h0.8M207.72 161.12h0.8M208.37 160.21h0.8M208.4 161.8h0.8M208.95 160.05h0.8M208.62 156.77h0.8M209.44 160.92h0.8M209.32 158.94h0.8M209.8 160.12h0.8M209.8 159.05h0.8M210.55 162.32h0.8M210.4 163.22h0.8M211.05 155.98h0.8M210.89 163.62h0.8M211.89 161.28h0.8M211.36 157.99h0.8M212.35 157.21h0.8M212.4 160.94h0.8M212.47 161.9h0.8M212.51 160.85h0.8M213.51 162.84h0.8M213.17 160.14h0.8M213.66 161.88h0.8M213.97 159.14h0.8M214.41 161.44h0.8M214.42 160.36h0.8M214.68 161.04h0.8M214.72 162.38h0.8M215.54 160.67h0.8M215.27 163.18h0.8M216.11 162.41h0.8M215.81 160.92h0.8M216.73 160.39h0.8M216.58 161.99h0.8M217.04 161.68h0.8M217.13 161.23h0.8M217.45 160.45h0.8M217.77 160.35h0.8M218.08 159.75h0.8M218.47 161.82h0.8M218.66 160.16h0.8M218.7 163.27h0.8M219.22 165.23h0.8M219.12 156.42h0.8M219.55 161h0.8M220.09 159.93h0.8M220.34 158.16h0.8M220.63 162.82h0.8M220.66 160.19h0.8M220.98 161.55h0.8M221.25 158.71h0.8M221.57 158.14h0.8M221.84 159.84h0.8M221.92 163h0.8M222.37 157.15h0.8M222.59 160.86h0.8M222.97 163.16h0.8M222.93 156.81h0.8M223.69 166.4h0.8M223.43 159.71h0.8M224.49 163.28h0.8M224.32 160.73h0.8M224.97 162.15h0.8M224.63 160.62h0.8M225.55 158.6h0.8M225.16 163.79h0.8M225.91 162.12h0.8M225.83 163.65h0.8M226.58 162.83h0.8M226.69 162.81h0.8M227.15 164.26h0.8M226.72 162.48h0.8M227.61 162.4h0.8M227.58 161.05h0.8M228.05 160.76h0.8M228.15 160.73h0.8M228.62 159.4h0.8M228.61 163.28h0.8M229.19 164.75h0.8M229.04 162.43h0.8M229.72 162.37h0.8M229.56 158.64h0.8M230.08 161.19h0.8M230.26 162.29h0.8M230.86 163.99h0.8M230.57 163.35h0.8M231.54 161.68h0.8M231.57 161.6h0.8M231.95 161.6h0.8M231.88 162.22h0.8M232.71 163.36h0.8M232.8 161.99h0.8M232.87 161.95h0.8M233.34 158.66h0.8M233.85 157.32h0.8M233.4 162.67h0.8M233.89 163.59h0.8M234.06 157.88h0.8M234.94 162.55h0.8M234.56 161.3h0.8M235.25 163.01h0.8M235.5 161.5h0.8M235.8 163.02h0.8M235.69 164.16h0.8M236.15 163.92h0.8M236.61 162.95h0.8M236.7 160.8h0.8M237.07 158.7h0.8M237.53 164.66h0.8M237.37 164.43h0.8M238.05 164.64h0.8M238.23 160.87h0.8M238.63 168.06h0.8M238.49 166.87h0.8M239.39 163.36h0.8M239.15 161.29h0.8M239.62 160.62h0.8M239.46 165.68h0.8M240.39 162.93h0.8M240.05 162.29h0.8M240.8 159.07h0.8M240.85 158.3h0.8M241.02 163h0.8M241.09 163.16h0.8M241.86 161.39h0.8M242.09 161.57h0.8M242.49 164.17h0.8M242.11 164.27h0.8M242.71 165.19h0.8M242.86 163.21h0.8M243.55 163.68h0.8M243.32 166.04h0.8M243.83 161.5h0.8M244.31 161.53h0.8M244.36 163.35h0.8M244.68 164.54h0.8M245.09 165.98h0.8M245.01 160.58h0.8M245.74 166.53h0.8M245.61 163.61h0.8M246.51 161.97h0.8M246.39 161.53h0.8M246.53 163.51h0.8M246.82 168.24h0.8M247.09 162.15h0.8M247.52 164.41h0.8M248.16 166.35h0.8M247.69 163.76h0.8M248.45 164.53h0.8M248.53 166.48h0.8M248.89 164.16h0.8M248.88 162.34h0.8M249.72 168.15h0.8M249.68 165.07h0.8M250.25 168.04h0.8M250.08 163.87h0.8M250.49 163.61h0.8M250.41 161.26h0.8M251.1 163.85h0.8M251.35 164.41h0.8M251.88 162.33h0.8M251.61 159.68h0.8M252.47 161.55h0.8M252.31 163.04h0.8M253.13 163.57h0.8M252.68 167.15h0.8M253.26 164.22h0.8M253.24 163.65h0.8M254.1 163.75h0.8M253.85 158.43h0.8M254.34 165.5h0.8M254.74 162.59h0.8M255.15 161.61h0.8M255.34 161.43h0.8M255.72 159.71h0.8M255.81 164.92h0.8M256.19 160.65h0.8M256.03 165.54h0.8M256.45 164.91h0.8M256.95 167.31h0.8M257.01 164.51h0.8M257.51 164.6h0.8M257.52 163.48h0.8M257.52 165.28h0.8M258.47 163.06h0.8M258.49 161.11h0.8M258.82 167.17h0.8M259.09 165.54h0.8M259.19 166.42h0.8M259.67 159.78h0.8M259.76 169.25h0.8M259.82 161.41h0.8M260.76 164.85h0.8M260.74 164.78h0.8M261.18 161.43h0.8M260.97 161.07h0.8M261.8 165.32h0.8M261.47 165.07h0.8M261.91 163.4h0.8M262.05 166.76h0.8M262.67 163.72h0.8M262.64 168.25h0.8M263.51 167.32h0.8M263.37 163.88h0.8M263.81 167.02h0.8M264.01 165.04h0.8M264.42 162.41h0.8M264.23 167.71h0.8M265.14 165.31h0.8M264.75 163.8h0.8M265.66 166.29h0.8M265.79 164.66h0.8M266.04 167.53h0.8M266.23 164.75h0.8M266.51 165.85h0.8M266.8 167.34h0.8M267.02 164.34h0.8M266.98 170.65h0.8M267.47 163.85h0.8M267.78 161.99h0.8M268.37 168.61h0.8M268.42 166.92h0.8M268.74 163.19h0.8M268.74 163.13h0.8M269.58 165.66h0.8M269.07 164.16h0.8M270.14 165.4h0.8M269.9 166.75h0.8M270.29 161.1h0.8M270.43 168.48h0.8M271.15 160.77h0.8M271.09 164.08h0.8M271.34 163.63h0.8M271.76 166.77h0.8M271.9 162.77h0.8M272.06 161.41h0.8M272.43 165.48h0.8M272.63 161.68h0.8M273.01 166.42h0.8M273.08 163.77h0.8M273.54 163.6h0.8M273.54 160.32h0.8M274.31 165.09h0.8M274.1 167.34h0.8M275.14 164.29h0.8M274.99 166.55h0.8M275.16 170.4h0.8M275.33 169.05h0.8M276.09 169.7h0.8M275.91 164.66h0.8M276.26 166.37h0.8M276.32 168.63h0.8M276.99 164.64h0.8M277.22 165.6h0.8M277.68 164.11h0.8M277.58 162.3h0.8M278.09 167.44h0.8M278.29 167.97h0.8M278.74 167.55h0.8M278.85 163.7h0.8M279.38 163.57h0.8M279.48 166.14h0.8M280.01 165.88h0.8M279.91 161.21h0.8M280.24 163.45h0.8M280.43 163.02h0.8M281.07 167.55h0.8M281.03 166.89h0.8M281.4 163.93h0.8M281.42 163.85h0.8M282.11 163.35h0.8M282.26 163.44h0.8M282.72 166.94h0.8M282.48 168.9h0.8M282.82 158.11h0.8M283.13 165.82h0.8M283.91 167.87h0.8M283.66 169.35h0.8M284.22 168.23h0.8M284.33 167.48h0.8M284.95 161.56h0.8M284.76 165.11h0.8M285.13 159.85h0.8M285.41 168.94h0.8M285.62 161.84h0.8M286.14 168.31h0.8M286.26 164.87h0.8M286.34 166.18h0.8M286.9 168.29h0.8M287.07 165.7h0.8M287.33 164.18h0.8M287.64 167.19h0.8M287.88 168.61h0.8M288.23 164.24h0.8M288.38 164.02h0.8M288.77 166.69h0.8M289.13 166.94h0.8M289.19 161.86h0.8M289.61 166.59h0.8M289.78 172.56h0.8M290.23 167.66h0.8M290.13 160.89h0.8M291 164.16h0.8M290.71 165.1h0.8M291.28 166.84h0.8M291.2 163.77h0.8M291.6 163.95h0.8M292.03 166.35h0.8M292.33 165.15h0.8M292.44 167.62h0.8M293.1 161.96h0.8M292.92 167.3h0.8M293.28 170.56h0.8M293.75 163.18h0.8M293.88 169.68h0.8M294.3 162.82h0.8M294.36 165.26h0.8M294.92 165.22h0.8M294.96 164.39h0.8M294.99 163.8h0.8M295.66 166.1h0.8M295.54 170.49h0.8M296.1 169.76h0.8M296.53 162.74h0.8M296.95 161.73h0.8M297.09 162.46h0.8M297.22 166.9h0.8M297.52 160.29h0.8M297.91 160.97h0.8M298.18 164.7h0.8M94.84 120.33h0.8M94.78 120.48h0.8M95.53 121.3h0.8M95.34 121.41h0.8M96.12 121.89h0.8M96.32 122.26h0.8M96.63 123.65h0.8M96.69 123.1h0.8M97.12 123.6h0.8M97.15 123.39h0.8M97.83 124.81h0.8M97.83 124.67h0.8M98.41 125.9h0.8M98.56 125.57h0.8M98.86 125.87h0.8M98.84 127.03h0.8M99.53 127.12h0.8M99.48 127.01h0.8M99.87 127.51h0.8M99.93 128.34h0.8M100.33 128.07h0.8M100.46 128.5h0.8M101.25 128.98h0.8M100.93 129.52h0.8M101.6 130.22h0.8M101.46 129.78h0.8M102.24 129.91h0.8M102.33 130.76h0.8M102.58 131.37h0.8M102.75 131.77h0.8M102.97 131.82h0.8M103.38 131.77h0.8M103.53 133.25h0.8M103.68 132.63h0.8M104.6 133.84h0.8M104.42 133.62h0.8M105.15 133.93h0.8M104.97 133.75h0.8M105.57 134.56h0.8M105.51 134.6h0.8M106.1 135.5h0.8M105.97 135.37h0.8M106.36 136.27h0.8M106.27 136.08h0.8M107.19 137.03h0.8M107.02 136.04h0.8M107.69 137.83h0.8M107.5 136.89h0.8M108.09 138.01h0.8M108.16 138.55h0.8M108.48 138.15h0.8M108.79 138h0.8M109.49 139.56h0.8M109.35 139.4h0.8M109.56 140.35h0.8M109.78 139.71h0.8M110.69 139.66h0.8M110.39 139.96h0.8M111.04 140.92h0.8M110.78 141.2h0.8M111.2 141.7h0.8M111.61 141.72h0.8M111.8 143.06h0.8M112.27 143.03h0.8M112.73 142.81h0.8M112.45 142.81h0.8M112.88 143.25h0.8M113.31 142.98h0.8M113.84 143.59h0.8M113.45 142.89h0.8M114.23 143.79h0.8M114.51 143.77h0.8M114.93 144.79h0.8M114.51 146.1h0.8M115.54 146.04h0.8M115.1 145.39h0.8M115.7 145.5h0.8M116.12 146.57h0.8M116.37 146.11h0.8M116.49 146.3h0.8M116.79 146.03h0.8M117.18 147.05h0.8M117.63 146.72h0.8M117.5 147.79h0.8M118.37 146.96h0.8M118.27 148.29h0.8M118.39 147.7h0.8M118.93 147.93h0.8M119.1 148.25h0.8M119.26 147.56h0.8M119.81 150.01h0.8M119.64 148.82h0.8M120.23 148.33h0.8M120.41 149.9h0.8M121.03 148.83h0.8M120.72 149.08h0.8M121.35 150.65h0.8M121.45 150.21h0.8M121.68 151.09h0.8M122.15 149.48h0.8M122.54 151.43h0.8M122.36 149.88h0.8M123.16 152.01h0.8M123.3 150.48h0.8M123.63 151.58h0.8M123.78 151.94h0.8M124.41 152.41h0.8M123.99 153.07h0.8M124.68 151.72h0.8M124.52 151.87h0.8M125.42 152.76h0.8M125.23 153.84h0.8M125.96 154.12h0.8M125.64 153.74h0.8M126.58 152.26h0.8M126.36 152.81h0.8M126.71 152.93h0.8M126.72 153.92h0.8M127.37 154.54h0.8M127.49 155.04h0.8M127.79 153.77h0.8M127.73 154.88h0.8M128.31 155.37h0.8M128.63 154.71h0.8M129.16 155.11h0.8M129.01 154.64h0.8M129.37 155.17h0.8M129.94 155.3h0.8M130.24 156.13h0.8M130.06 155h0.8M131.02 156.01h0.8M130.91 155.15h0.8M131.15 156.91h0.8M131.02 154.49h0.8M131.6 156.54h0.8M131.58 156.84h0.8M132.37 155.3h0.8M132.67 156.15h0.8M133.01 157.14h0.8M132.89 156.77h0.8M133.35 158.52h0.8M133.54 158.43h0.8M134.15 156.22h0.8M133.99 155.96h0.8M134.88 157.21h0.8M134.9 157.77h0.8M135 157.9h0.8M135.06 158.07h0.8M135.9 159.44h0.8M135.43 157.13h0.8M136.34 158.57h0.8M136.54 157.11h0.8M136.95 158.91h0.8M137.06 158.65h0.8M137.4 158.41h0.8M137.5 158.11h0.8M137.75 159.46h0.8M137.67 159.34h0.8M138.29 158.61h0.8M138.24 159.15h0.8M139.13 159.23h0.8M138.82 159.17h0.8M139.38 161.28h0.8M139.81 159.88h0.8M139.88 160.8h0.8M140.07 158.36h0.8M140.86 161.38h0.8M140.73 160.9h0.8M141.39 159.25h0.8M141.19 160.21h0.8M141.58 159.82h0.8M141.48 159.81h0.8M142.09 160.06h0.8M142.52 159.25h0.8M142.64 160.36h0.8M142.71 161.33h0.8M143.2 161.02h0.8M143.39 159.94h0.8M143.72 159.96h0.8M144.24 162.46h0.8M144.6 162.63h0.8M144.33 161.53h0.8M144.9 160.29h0.8M144.87 161.12h0.8M145.9 159.34h0.8M145.86 163.21h0.8M146.39 161.88h0.8M145.88 161.7h0.8M146.99 161.28h0.8M146.41 160.64h0.8M147.03 161.8h0.8M146.95 160.73h0.8M147.61 162.18h0.8M147.76 160.64h0.8M148.39 162.29h0.8M148.13 161.39h0.8M149.03 162.52h0.8M148.72 163.29h0.8M149.52 162.29h0.8M149.45 162.13h0.8M150.07 161.94h0.8M150.12 162.67h0.8M150.37 162.61h0.8M150.29 160.96h0.8M151.23 162.12h0.8M150.83 161.24h0.8M151.86 162.64h0.8M151.87 161.5h0.8M152.45 162.22h0.8M152.19 162.4h0.8M152.56 163.01h0.8M152.95 161.92h0.8M153.22 162.16h0.8M153.36 162.99h0.8M153.82 163.84h0.8M153.86 162.66h0.8M154.59 163.86h0.8M154.62 163.8h0.8M154.88 162.08h0.8M155.1 164.21h0.8M155.77 164.76h0.8M155.5 163.62h0.8M156.07 161.64h0.8M155.76 162.8h0.8M156.41 163.68h0.8M156.36 162.81h0.8M156.87 163.02h0.8M156.91 164.94h0.8M157.41 162.86h0.8M157.76 162.42h0.8M158.37 161.99h0.8M158.01 162.54h0.8M158.53 164.34h0.8M158.57 161.95h0.8M159.22 161.97h0.8M159.12 163.28h0.8M159.96 162.8h0.8M160.12 163.61h0.8M160.6 164.18h0.8M160.25 164.46h0.8M160.93 164.55h0.8M160.95 161.08h0.8M161.49 164.13h0.8M161.81 162.28h0.8M161.94 163.62h0.8M162 162.46h0.8M162.83 160.6h0.8M162.9 164.73h0.8M162.93 164.39h0.8M163.21 161.53h0.8M163.6 166.11h0.8M163.7 162.88h0.8M164.32 162.87h0.8M164.04 162.8h0.8M164.56 162.39h0.8M164.63 164.18h0.8M165.66 165.62h0.8M165.48 163.29h0.8M166.18 164.57h0.8M165.67 161.45h0.8M166.61 163.15h0.8M166.36 163.01h0.8M167.12 161.18h0.8M166.9 163.05h0.8M167.87 162.53h0.8M167.47 163.62h0.8M167.92 163.22h0.8M168.21 165.42h0.8M168.56 165.21h0.8M168.68 163.44h0.8M169.02 163.19h0.8M169.03 163.71h0.8M169.67 163.55h0.8M169.65 165.07h0.8M170.55 165.21h0.8M170.42 164.71h0.8M170.72 162.33h0.8M171.03 163.18h0.8M171.52 162.45h0.8M171.43 164.33h0.8M171.83 163.64h0.8M172.01 164.84h0.8M172.26 162.78h0.8M172.46 165.11h0.8M173.13 164.63h0.8M173.09 163.32h0.8M173.53 163.24h0.8M173.81 167.69h0.8M174.42 164.33h0.8M174.16 164.47h0.8M174.71 165.27h0.8M174.89 164.58h0.8M175.58 164.83h0.8M175.44 164.7h0.8M175.76 164.81h0.8M175.96 165.11h0.8M176.59 162.3h0.8M176.41 162.5h0.8M177.11 164.05h0.8M176.94 162.06h0.8M177.75 164.68h0.8M177.28 162.22h0.8M178.21 164.34h0.8M178.1 164.17h0.8M178.64 160.89h0.8M178.55 164.33h0.8M179.21 164.88h0.8M179.08 161.67h0.8M179.83 162.92h0.8M179.58 164.77h0.8M180.18 163.04h0.8M180.14 165.45h0.8M180.8 165h0.8M180.77 161.83h0.8M181.14 164.88h0.8M181.4 165.48h0.8M182.15 163.94h0.8M181.79 164.16h0.8M182.73 165.93h0.8M182.27 162.3h0.8M182.71 161.8h0.8M182.73 165.86h0.8M183.8 163.04h0.8M183.71 163.89h0.8M184.11 159.73h0.8M184.11 163.37h0.8M184.56 164.05h0.8M184.71 163.32h0.8M185.31 162.6h0.8M185.22 167.38h0.8M185.69 165.77h0.8M185.79 165.46h0.8M186.58 162.07h0.8M186.29 163.38h0.8M187.15 162.86h0.8M186.76 165.46h0.8M187.2 162.16h0.8M187.29 164.25h0.8M187.96 167.46h0.8M187.72 164.42h0.8M188.69 166.57h0.8M188.79 163.45h0.8M188.84 166.01h0.8M188.92 163.86h0.8M189.41 163.15h0.8M189.41 164.75h0.8M190.06 163.54h0.8M190.45 163.45h0.8M190.65 164.66h0.8M190.87 164.62h0.8M190.95 164.18h0.8M191.13 167.11h0.8M191.9 166.1h0.8M191.62 163.35h0.8M192.21 163.14h0.8M192.44 165.07h0.8M192.94 160.02h0.8M192.85 164.07h0.8M193.61 165.75h0.8M193.21 165.73h0.8M194.01 165.9h0.8M194.19 165.7h0.8M194.29 163.08h0.8M194.26 163.38h0.8M195.23 165.39h0.8M195.01 163.87h0.8M195.41 165.84h0.8M195.89 166.31h0.8M196.17 164.04h0.8M196.13 164.58h0.8M196.8 168.41h0.8M197.03 166.43h0.8M197.15 163.33h0.8M197.03 166.16h0.8M197.74 168.19h0.8M198.09 164.09h0.8M198.46 165.97h0.8M198.68 164.2h0.8M198.8 161.59h0.8M198.88 165.57h0.8M199.39 165.28h0.8M199.73 164.39h0.8M199.9 162.71h0.8M199.85 165.81h0.8M200.88 164.92h0.8M200.47 166.37h0.8M201.17 164.87h0.8M201.08 165.31h0.8M201.47 165.15h0.8M201.9 165.98h0.8M202.06 164.95h0.8M202.12 166.66h0.8M202.9 165.75h0.8M202.7 166.15h0.8M203.11 167.19h0.8M203.21 167.89h0.8M203.87 166.23h0.8M204.1 165.05h0.8M204.36 166.16h0.8M204.58 164.91h0.8M204.82 162.86h0.8M205.27 168.8h0.8M205.52 164.7h0.8M205.33 165.86h0.8M206.34 165.59h0.8M206.15 164.68h0.8M206.71 165.12h0.8M206.48 166.91h0.8M207.21 166.62h0.8M207.23 165.39h0.8M207.68 165.68h0.8M207.84 168.95h0.8M208.23 164.75h0.8M208.05 165.48h0.8M208.74 167.61h0.8M208.95 169.13h0.8M209.32 167.88h0.8M209.4 167.56h0.8M209.84 166.01h0.8M209.79 166.81h0.8M210.37 168.17h0.8M210.44 168.2h0.8M211.28 168.81h0.8M211.27 164.64h0.8M211.32 167.26h0.8M211.71 167.35h0.8M212.1 165.51h0.8M212.25 164.95h0.8M212.91 165.97h0.8M212.61 165.12h0.8M213.02 165.65h0.8M213.5 165.61h0.8M213.52 166.18h0.8M213.52 163.67h0.8M214.23 167.13h0.8M214.28 167.51h0.8M214.98 168.04h0.8M214.71 166.92h0.8M215.58 167.83h0.8M215.3 164.6h0.8M215.91 164.1h0.8M215.7 167.71h0.8M216.42 168.24h0.8M216.28 163.94h0.8M216.83 168.21h0.8M216.95 164.71h0.8M217.48 169.21h0.8M217.9 168.81h0.8M218.32 166.77h0.8M218.14 165.99h0.8M218.62 166.75h0.8M218.5 163.34h0.8M219.56 168.68h0.8M219.41 166.2h0.8M219.93 166.63h0.8M219.82 163.39h0.8M220.36 169.64h0.8M220.41 167.88h0.8M221.11 167.84h0.8M220.68 166.53h0.8M221.36 166h0.8M221.53 163.74h0.8M222.08 169.67h0.8M221.9 166.52h0.8M222.55 168.73h0.8M222.42 167.72h0.8M223.27 166.72h0.8M223.25 168.06h0.8M223.71 167.25h0.8M223.67 168.56h0.8M224.13 168.82h0.8M224.48 166.48h0.8M224.7 168.77h0.8M224.99 169.14h0.8M225.15 164.14h0.8M225.45 166.28h0.8M226.06 165.54h0.8M226.1 166.04h0.8M226.37 168.54h0.8M226.27 168.39h0.8M226.82 168.84h0.8M227.12 167.95h0.8M227.44 166.49h0.8M227.53 167.71h0.8M227.84 166.66h0.8M227.81 168.34h0.8M228.4 170.76h0.8M228.78 167.31h0.8M228.97 170.04h0.8M229.19 167.19h0.8M229.78 166.37h0.8M229.45 168.06h0.8M230.38 170.09h0.8M230.56 166.19h0.8M230.7 166.74h0.8M230.63 166.37h0.8M231.6 171.07h0.8M231.28 168.25h0.8M232.16 168.82h0.8M232.21 170.33h0.8M232.7 169.46h0.8M232.65 170.81h0.8M233.25 167.16h0.8M232.94 168.91h0.8M233.52 166.05h0.8M233.8 169.69h0.8M234.19 167.87h0.8M234.23 168.42h0.8M234.94 169.23h0.8M234.97 164.96h0.8M235.04 165.48h0.8M235.13 167.99h0.8M235.91 167.2h0.8M235.6 167.52h0.8M236.1 162.83h0.8M236.07 169.88h0.8M237.03 166.75h0.8M236.6 168.5h0.8M237.62 170.25h0.8M237.41 164.58h0.8M238.01 167.43h0.8M237.95 171.09h0.8M238.65 166.91h0.8M238.75 170.02h0.8M238.98 169.18h0.8M239.07 167.42h0.8M239.47 166.37h0.8M239.4 167.41h0.8M240.48 167.15h0.8M240.45 170.31h0.8M241.03 172.06h0.8M240.82 163.92h0.8M241.41 168.55h0.8M241.37 167.57h0.8M242.12 167.49h0.8M241.84 170.97h0.8M242.31 167.24h0.8M242.63 166.88h0.8M243.06 169.74h0.8M242.92 168.61h0.8M243.42 171.13h0.8M243.55 170.02h0.8M244.09 166.12h0.8M243.99 169.76h0.8M244.83 169.49h0.8M244.63 169.36h0.8M245 171.8h0.8M244.91 171.31h0.8M245.69 166.88h0.8M245.73 168.2h0.8M246.02 168.97h0.8M246.26 171.39h0.8M246.74 167.81h0.8M246.54 168.1h0.8M247.38 164.5h0.8M247.48 170.25h0.8M248.19 168.68h0.8M248.03 167.54h0.8M248.39 172.03h0.8M248.25 171.18h0.8M249.16 171.48h0.8M248.78 167.98h0.8M249.39 168.85h0.8M249.47 167.96h0.8M249.93 171.76h0.8M249.98 169.04h0.8M250.88 168.15h0.8M250.72 166.48h0.8M251.45 170.83h0.8M251.42 166.71h0.8M251.65 170.68h0.8M251.91 172.1h0.8M252.07 167.06h0.8M252.22 165h0.8M252.98 168.44h0.8M252.58 163.34h0.8M253.43 168.07h0.8M253.58 168.27h0.8M254.06 172.91h0.8M253.8 172.35h0.8M254.7 169.84h0.8M254.55 171.31h0.8M254.82 169.35h0.8M255.23 169.3h0.8M255.47 170.18h0.8M255.71 171.72h0.8M256.38 168.08h0.8M256.17 169.92h0.8M256.97 167.48h0.8M256.41 165.11h0.8M257.25 168.35h0.8M257.47 170.2h0.8M257.61 169.3h0.8M257.99 168.5h0.8M258.34 168.12h0.8M258.14 167h0.8M259.12 170.48h0.8M258.97 167.19h0.8M259.28 171.06h0.8M259.69 170.14h0.8M259.8 168.59h0.8M259.92 168.82h0.8M260.48 166.15h0.8M260.46 169.84h0.8M261 172.38h0.8M260.81 169.35h0.8M261.38 162.44h0.8M261.44 171.03h0.8M262.06 168.36h0.8M262.2 167.59h0.8M262.77 169.06h0.8M263.02 172.42h0.8M263.34 169.95h0.8M263.46 169.28h0.8M263.93 172.25h0.8M263.93 166.32h0.8M264.58 168.06h0.8M264.62 170.85h0.8M264.83 172.79h0.8M265.11 167.98h0.8M265.58 169.19h0.8M265.41 166.47h0.8M265.79 167.02h0.8M265.95 168.62h0.8M266.59 166.15h0.8M266.52 176.02h0.8M267.06 169.51h0.8M266.93 171.24h0.8M267.67 174.46h0.8M267.67 169.68h0.8M268.05 167.55h0.8M267.99 168.58h0.8M268.94 168.8h0.8M268.83 171.51h0.8M269.6 171.6h0.8M269.4 168.62h0.8M269.95 170.89h0.8M270.19 170.26h0.8M270.41 166.82h0.8M270.67 172.92h0.8M271.24 172.18h0.8M270.87 170.73h0.8M271.35 169.52h0.8M271.41 170.09h0.8M272.04 169.05h0.8M271.92 167.85h0.8M272.74 165.51h0.8M272.47 166.5h0.8M273.26 168.91h0.8M272.95 163.05h0.8M273.65 171.49h0.8M273.53 164.72h0.8M274.53 170.8h0.8M274.38 172.54h0.8M274.75 171.18h0.8M275 168.78h0.8M275.51 168.05h0.8M275.3 167.49h0.8M275.68 172.12h0.8M276.03 170.57h0.8M276.56 168.09h0.8M276.35 172.24h0.8M277.31 169.21h0.8M277.09 169.73h0.8M277.67 170.52h0.8M277.73 169.57h0.8M277.94 169.09h0.8M277.94 170.66h0.8M278.89 169.77h0.8M278.65 168.52h0.8M279.28 166.25h0.8M279.34 168.81h0.8M279.94 167.76h0.8M279.65 168.25h0.8M280.52 168.58h0.8M280.24 165.3h0.8M280.87 170.7h0.8M280.77 162.44h0.8M281.23 163.41h0.8M281.16 168.74h0.8M282.16 165.82h0.8M281.92 170.26h0.8M282.7 171.59h0.8M282.3 169.54h0.8M282.84 171.09h0.8M283.1 169.92h0.8M283.91 168.07h0.8M283.57 169.09h0.8M284.34 170.66h0.8M284.45 171.03h0.8M284.92 170.01h0.8M284.6 170.22h0.8M285.38 172.83h0.8M285.21 169.31h0.8M285.74 170.6h0.8M286.09 166.8h0.8M286.14 173.11h0.8M286.49 172.43h0.8M286.69 165.2h0.8M286.99 172.81h0.8M287.77 164.47h0.8M287.58 172.94h0.8M287.91 169.98h0.8M288.01 171.71h0.8M288.76 169.85h0.8M288.69 171.48h0.8M288.98 166.97h0.8M289.19 178.09h0.8M289.92 172.67h0.8M289.56 174.22h0.8M290.12 169.66h0.8M290.15 164.46h0.8M290.6 163.78h0.8M290.91 170.14h0.8M291.4 167.09h0.8M291.58 167.83h0.8M291.82 171.03h0.8M292.07 175.2h0.8M292.67 170.74h0.8M292.75 168.23h0.8M292.77 169.38h0.8M293.28 170.16h0.8M293.34 175.74h0.8M293.69 169.92h0.8M294.21 170.94h0.8M293.85 170.53h0.8M294.78 166.14h0.8M294.88 174.89h0.8M295.04 170.24h0.8M295.38 169.42h0.8M295.75 169.2h0.8M295.59 168.76h0.8M296.01 168.26h0.8M296.59 170.05h0.8M296.62 167.08h0.8M296.84 174.83h0.8M297.21 171.44h0.8M297.51 171.73h0.8M297.95 172.24h0.8M297.72 173.2h0.8M95.25 141.05h0.8M94.91 141.54h0.8M95.78 142.21h0.8M95.69 142.81h0.8M95.96 142.78h0.8M95.84 143h0.8M96.59 143.92h0.8M96.68 143.67h0.8M97.31 144.29h0.8M97.29 144.35h0.8M97.86 144.69h0.8M98.04 144.96h0.8M98.24 146.12h0.8M98.19 145.45h0.8M98.78 145.8h0.8M98.78 146.89h0.8M99.7 147.07h0.8M99.1 147.3h0.8M99.8 147.37h0.8M100.02 147.47h0.8M100.32 148.42h0.8M100.27 148.74h0.8M101.3 149.56h0.8M100.78 148.8h0.8M101.69 149.82h0.8M101.63 149.65h0.8M101.85 150.21h0.8M102.3 151.37h0.8M102.76 151.44h0.8M103 150.88h0.8M103.4 151.87h0.8M103.18 152.31h0.8M103.82 152.36h0.8M103.87 152.1h0.8M104.43 152.9h0.8M104.38 152.76h0.8M104.76 153.71h0.8M105.15 154.12h0.8M105.46 153.62h0.8M105.44 154.3h0.8M106.26 154.8h0.8M106.02 154.97h0.8M106.74 154.85h0.8M106.39 155.25h0.8M107.08 156.2h0.8M107.18 156.5h0.8M107.87 156.78h0.8M107.38 155.63h0.8M108.39 156.33h0.8M107.97 157.42h0.8M108.51 157.57h0.8M108.66 157.65h0.8M109.27 158.05h0.8M109.05 157.4h0.8M109.97 157.2h0.8M109.82 159.25h0.8M110.56 158.05h0.8M110.19 158.92h0.8M110.96 159.08h0.8M110.79 158.88h0.8M111.43 159.42h0.8M111.21 159.99h0.8M111.78 160.3h0.8M111.86 160.68h0.8M112.49 160.45h0.8M112.45 160.16h0.8M113.23 161.02h0.8M113.37 160.74h0.8M113.88 161.44h0.8M113.77 161.77h0.8M114.22 161.56h0.8M114.17 161.76h0.8M114.74 161.92h0.8M114.89 161.61h0.8M115.28 162.52h0.8M115.4 161.92h0.8M116.18 162.97h0.8M116.03 162.53h0.8M116.35 162.46h0.8M116.19 163.54h0.8M117.02 163.31h0.8M117 162.79h0.8M117.27 164.31h0.8M117.61 163.07h0.8M118.3 163.28h0.8M118.05 164h0.8M118.61 163.01h0.8M118.64 164.32h0.8M119.3 163.36h0.8M119.34 164.31h0.8M119.86 164.5h0.8M119.78 164.73h0.8M120.07 164.98h0.8M120.13 163.91h0.8M120.61 166.03h0.8M120.6 165.58h0.8M121.13 165.32h0.8M121.51 164.56h0.8M121.68 165.35h0.8M122.06 164.86h0.8M122.8 165.03h0.8M122.69 166.1h0.8M122.95 166.13h0.8M123.06 165.65h0.8M123.46 167.89h0.8M123.46 166.14h0.8M124.37 166.06h0.8M124.18 166.68h0.8M124.43 165.76h0.8M124.58 166.36h0.8M125.46 167.31h0.8M125.1 165.72h0.8M125.82 166.76h0.8M125.72 166.9h0.8M126.4 166.11h0.8M126.27 167h0.8M127.15 167.11h0.8M126.93 166.56h0.8M127.47 167.63h0.8M127.4 167.27h0.8M127.86 166.67h0.8M128.18 166.97h0.8M128.73 167.04h0.8M128.61 168.34h0.8M129.07 165.9h0.8M129.33 167.86h0.8M129.73 168.2h0.8M129.38 167.77h0.8M130.26 167.78h0.8M130.01 167.4h0.8M130.93 168.48h0.8M130.75 167.27h0.8M131.18 167.28h0.8M131.13 166.83h0.8M132.1 168.06h0.8M131.67 167.5h0.8M132.57 168.17h0.8M132.67 168.11h0.8M132.8 167.06h0.8M133.19 168.53h0.8M133.23 167.87h0.8M133.62 167.65h0.8M133.93 169.46h0.8M133.89 168.47h0.8M134.64 167.58h0.8M134.39 167.83h0.8M135.35 168.77h0.8M134.94 167.85h0.8M135.63 168.9h0.8M135.42 166.21h0.8M136.08 167.49h0.8M136.28 169.05h0.8M136.94 169.06h0.8M136.76 168.82h0.8M137.55 168.21h0.8M137.12 168.03h0.8M138.16 170.75h0.8M137.92 167.19h0.8M138.6 168.26h0.8M138.45 169.16h0.8M138.99 168.8h0.8M139.22 168.33h0.8M139.3 167.68h0.8M139.33 167.93h0.8M140.31 168.31h0.8M139.94 170.26h0.8M140.71 168.76h0.8M140.93 168.48h0.8M141.29 167.48h0.8M140.93 170.27h0.8M141.6 168.17h0.8M141.9 169.43h0.8M142.18 169.31h0.8M142.04 170.01h0.8M142.88 168.33h0.8M143.02 168.55h0.8M143.12 167.93h0.8M143.41 168.18h0.8M143.73 169.78h0.8M144 169.47h0.8M144.6 168.27h0.8M144.3 169.46h0.8M144.95 169.83h0.8M145.26 170.66h0.8M145.39 169.56h0.8M145.36 168.12h0.8M146.15 169.21h0.8M146.17 168.57h0.8M146.5 169.67h0.8M146.72 169.6h0.8M147.07 168.08h0.8M147.19 168.91h0.8M147.64 169.12h0.8M148.02 169.45h0.8M148.06 167.07h0.8M148.62 169h0.8M148.94 167.41h0.8M149.01 169.18h0.8M149.24 169.3h0.8M149.31 170.65h0.8M150.01 170.07h0.8M149.88 169.32h0.8M150.6 169.49h0.8M150.39 168.92h0.8M151.23 167.82h0.8M150.84 168.26h0.8M151.94 169.29h0.8M151.37 170.57h0.8M152.39 168.19h0.8M152.11 168.28h0.8M153 169.74h0.8M152.46 168.32h0.8M153.24 170.33h0.8M153.05 169h0.8M153.96 169.47h0.8M153.64 171.05h0.8M154.22 169.15h0.8M154.23 169.92h0.8M155.25 168.16h0.8M155.12 171.93h0.8M155.67 168.36h0.8M155.74 169.7h0.8M155.87 169.61h0.8M156.13 168.13h0.8M156.36 170.67h0.8M156.73 168.14h0.8M157.43 169.32h0.8M157.25 170.19h0.8M157.9 169.71h0.8M157.96 169.16h0.8M158.45 171.22h0.8M158.43 168.79h0.8M159 168.86h0.8M158.97 169.21h0.8M159.63 170.49h0.8M159.37 169.21h0.8M160.18 170.41h0.8M160.07 169.73h0.8M160.29 169.93h0.8M160.27 172.03h0.8M161 169.23h0.8M161.24 170.21h0.8M161.49 169.36h0.8M161.72 168.46h0.8M162.37 170.55h0.8M162.3 168.48h0.8M162.74 169.74h0.8M162.85 170.4h0.8M163.4 169.38h0.8M163.38 171.46h0.8M163.46 171.54h0.8M163.52 170.27h0.8M164.36 170.73h0.8M164.27 169.19h0.8M164.76 169.92h0.8M165.06 171.01h0.8M165.15 169.67h0.8M165.26 169.72h0.8M166.05 170.04h0.8M166.13 169.23h0.8M166.22 171.75h0.8M166.69 171.68h0.8M167.32 170.89h0.8M166.97 171.36h0.8M167.67 170.96h0.8M167.84 173h0.8M168.42 169.5h0.8M168.15 171.46h0.8M168.9 171.42h0.8M168.5 170.59h0.8M169.06 170.66h0.8M169.52 170.69h0.8M169.65 168.63h0.8M169.71 171.36h0.8M170.57 172.02h0.8M170.36 171.7h0.8M171.14 168.82h0.8M171 172.79h0.8M171.42 172.4h0.8M171.72 171.66h0.8M172.08 169.74h0.8M171.93 172.3h0.8M172.79 169.11h0.8M172.55 170.7h0.8M172.83 168.76h0.8M173.3 173.59h0.8M173.62 170.39h0.8M173.8 169.58h0.8M174.35 172.67h0.8M173.92 169.8h0.8M175.02 170.82h0.8M174.98 171.74h0.8M175.35 172.22h0.8M175.03 172.51h0.8M175.93 169.55h0.8M175.72 172.55h0.8M176.43 171.34h0.8M176.35 170.18h0.8M177.13 173.16h0.8M177.06 171.04h0.8M177.63 168.88h0.8M177.61 173.62h0.8M178.1 171.24h0.8M178.25 172.14h0.8M178.38 171.74h0.8M178.61 170.23h0.8M179.29 172.02h0.8M178.95 170.9h0.8M179.58 171.32h0.8M179.63 171.9h0.8M180.06 174.89h0.8M180.14 170.81h0.8M180.69 172.4h0.8M180.76 171.25h0.8M181.29 172.42h0.8M181.28 172.26h0.8M181.72 172.68h0.8M182.15 171.39h0.8M182.53 169.18h0.8M182.62 172.47h0.8M183.15 171.39h0.8M182.98 172.43h0.8M183.7 169.81h0.8M183.42 170.99h0.8M184.12 169.75h0.8M183.97 174.14h0.8M184.81 171.06h0.8M184.37 171.01h0.8M185.11 172.68h0.8M185.46 170.23h0.8M185.49 171.77h0.8M185.78 172.92h0.8M186.25 171.95h0.8M186.48 169.76h0.8M186.94 172.87h0.8M187.13 172.72h0.8M187.56 170.5h0.8M187.34 170.33h0.8M187.86 174.21h0.8M187.89 171.13h0.8M188.31 172.49h0.8M188.72 170.77h0.8M189.15 170.33h0.8M189.29 171.71h0.8M189.34 172.98h0.8M189.55 173.08h0.8M190.25 169.24h0.8M190.2 172.08h0.8M190.56 170.56h0.8M190.91 173.25h0.8M191.04 172.86h0.8M191.35 169.42h0.8M192.04 172.25h0.8M192.04 170.45h0.8M192.44 172.11h0.8M192.58 169.46h0.8M193.02 173.86h0.8M192.97 173.99h0.8M193.51 172.2h0.8M193.64 172.85h0.8M193.83 172.17h0.8M193.76 173.36h0.8M194.73 170.49h0.8M194.47 168.64h0.8M195.3 172.19h0.8M195 171.81h0.8M195.43 174.57h0.8M195.52 172.44h0.8M196.23 173.99h0.8M196.38 173.03h0.8M196.52 175.28h0.8M196.58 173.17h0.8M197.2 171.49h0.8M197.34 171.44h0.8M197.68 173.06h0.8M198.05 175.23h0.8M198.12 173.23h0.8M198.57 170.69h0.8M198.9 174.4h0.8M198.69 172.88h0.8M199.55 170.82h0.8M199.44 170.71h0.8M199.89 170.47h0.8M200.27 172.43h0.8M200.88 175.52h0.8M200.5 172.54h0.8M201.14 173.26h0.8M200.93 172.59h0.8M201.83 170.31h0.8M201.67 173.36h0.8M202.19 172.11h0.8M202.12 173.57h0.8M202.81 173.62h0.8M202.76 175.21h0.8M203.17 173.55h0.8M203.21 175.15h0.8M204.18 170.36h0.8M204.05 171.8h0.8M204.58 176.3h0.8M204.58 171.58h0.8M204.71 173.83h0.8M205.22 173.22h0.8M205.41 172.4h0.8M205.46 170.49h0.8M206.39 174.06h0.8M205.98 174.86h0.8M206.56 173.86h0.8M206.89 173.14h0.8M206.96 173.5h0.8M206.96 171.11h0.8M207.73 174.56h0.8M208.04 175.31h0.8M208.29 175.49h0.8M208.49 171.31h0.8M208.89 173.49h0.8M208.85 173.52h0.8M209.11 173.28h0.8M209.65 174.21h0.8M210.24 171.93h0.8M209.91 168.92h0.8M210.69 172.79h0.8M210.7 171.28h0.8M210.88 173.18h0.8M211.1 173.21h0.8M211.8 172.84h0.8M211.77 173.18h0.8M212.38 172.52h0.8M212.17 173.15h0.8M212.77 174.45h0.8M212.93 173.72h0.8M213.07 170.54h0.8M213.1 173.31h0.8M213.56 174.53h0.8M213.85 172.1h0.8M214.32 173.93h0.8M214.4 173.95h0.8M214.86 171.27h0.8M214.64 170.99h0.8M215.43 173.03h0.8M215.39 172.54h0.8M215.84 171.81h0.8M216.09 170.61h0.8M216.34 172.43h0.8M216.8 171.24h0.8M216.94 172.64h0.8M217.39 172.79h0.8M217.82 173.43h0.8M217.84 175h0.8M217.92 171.19h0.8M217.96 170.95h0.8M218.47 176.5h0.8M218.48 172.72h0.8M219.13 173.48h0.8M219.4 177.5h0.8M220.1 175.64h0.8M219.71 172.12h0.8M220.55 173.46h0.8M220.16 173.55h0.8M220.76 176.17h0.8M221.13 172.77h0.8M221.26 174.45h0.8M221.67 175.2h0.8M221.75 176.53h0.8M222.26 170.61h0.8M222.6 170.01h0.8M222.67 172.1h0.8M222.9 170.5h0.8M222.88 171.41h0.8M223.64 171.81h0.8M223.4 172.89h0.8M224.45 173.33h0.8M224.44 172.92h0.8M224.89 172.41h0.8M224.62 173.61h0.8M225.64 172.53h0.8M225.38 173.77h0.8M226.04 172.86h0.8M226.11 174.07h0.8M226.37 173.91h0.8M226.33 172.66h0.8M227.06 173.49h0.8M227.29 172.3h0.8M227.29 173.44h0.8M227.32 173.18h0.8M228.11 172.49h0.8M228.07 170.94h0.8M228.74 171.17h0.8M228.9 174.93h0.8M229.45 173.06h0.8M229.4 169.93h0.8M229.86 173.35h0.8M229.96 172.97h0.8M230.11 169.76h0.8M230.57 175.19h0.8M230.7 170.55h0.8M230.73 174.6h0.8M231.16 172.46h0.8M231.37 174.94h0.8M232.21 176.41h0.8M232.11 173.15h0.8M232.65 176.88h0.8M232.36 167.95h0.8M232.76 173.52h0.8M232.89 175.61h0.8M233.5 176.99h0.8M233.76 170.52h0.8M234.33 174.21h0.8M234.17 169.3h0.8M234.59 176.58h0.8M234.78 175.89h0.8M235.53 171.84h0.8M235.05 175.45h0.8M235.82 170.63h0.8M236.06 172.99h0.8M236.46 169.74h0.8M236.63 176.09h0.8M236.77 174.8h0.8M237.14 174.35h0.8M237.58 175.2h0.8M237.74 173.73h0.8M238.11 174.6h0.8M238.11 175.61h0.8M238.4 173.52h0.8M238.4 170.09h0.8M238.93 176.8h0.8M238.96 174.17h0.8M239.7 176.59h0.8M239.74 172.95h0.8M240.08 170.96h0.8M239.94 171.75h0.8M240.67 173.97h0.8M240.54 173.79h0.8M241.58 175.54h0.8M241.41 175.27h0.8M241.66 173.12h0.8M241.61 177.29h0.8M242.51 172.94h0.8M242.37 175.75h0.8M243.21 173.54h0.8M242.86 172.72h0.8M243.7 173.95h0.8M243.34 173.21h0.8M244.15 176.09h0.8M243.92 170.59h0.8M244.84 175.11h0.8M244.39 173.78h0.8M245.25 172.13h0.8M244.96 171.25h0.8M245.99 174.33h0.8M245.63 174.49h0.8M246.08 172.07h0.8M245.99 171.38h0.8M246.58 178.03h0.8M247.08 174.13h0.8M247.13 171.41h0.8M247.52 176.41h0.8M247.91 173.72h0.8M247.67 175.86h0.8M248.32 173.79h0.8M248.38 177.72h0.8M248.82 173.9h0.8M248.83 172.17h0.8M249.63 172.16h0.8M249.53 175.19h0.8M250.2 174.27h0.8M250.3 173.24h0.8M250.61 173.83h0.8M250.42 174.33h0.8M250.96 170.32h0.8M250.97 174.67h0.8M251.59 172.4h0.8M251.71 173.97h0.8M252.22 174.43h0.8M252.28 174.38h0.8M252.59 176.49h0.8M252.68 172.68h0.8M253.62 173.71h0.8M253.68 170.86h0.8M254.22 174.52h0.8M253.96 172.96h0.8M254.72 173.92h0.8M254.33 175.24h0.8M255.3 175.41h0.8M255.03 174.74h0.8M255.57 173.74h0.8M255.49 172.94h0.8M256.07 174.8h0.8M255.92 177.15h0.8M256.51 176.52h0.8M256.41 173.59h0.8M256.96 172.25h0.8M257.23 171.55h0.8M257.64 173.7h0.8M257.8 170.96h0.8M258.14 171.17h0.8M258.53 171.78h0.8M259.11 177.55h0.8M258.82 172.58h0.8M259.29 175.12h0.8M259.51 173.03h0.8M259.83 174.7h0.8M259.72 173.33h0.8M260.36 172.69h0.8M260.7 174.4h0.8M261.04 169h0.8M261.21 171.08h0.8M261.49 179.75h0.8M261.64 174.39h0.8M262.2 168.08h0.8M262.5 173.5h0.8M262.95 172.72h0.8M262.57 172.77h0.8M263.14 176.62h0.8M263.58 173.94h0.8M263.76 172.87h0.8M263.95 176.19h0.8M264.2 176.3h0.8M264.6 174.3h0.8M264.8 177.31h0.8M264.92 173.97h0.8M265.28 170.4h0.8M265.34 172.51h0.8M265.84 178.52h0.8M265.83 178.28h0.8M266.83 170.77h0.8M266.33 173.54h0.8M267.2 174.15h0.8M267.12 175.49h0.8M267.8 169.64h0.8M267.92 176.82h0.8M268.52 175.92h0.8M268.19 173.49h0.8M268.56 179.27h0.8M268.51 175.79h0.8M269.63 173.53h0.8M269.57 176.04h0.8M270.11 171.34h0.8M270.08 175.53h0.8M270.22 172.33h0.8M270.3 171.57h0.8M271.18 172.23h0.8M271.24 171.25h0.8M271.3 175.68h0.8M271.79 173.68h0.8M272.22 172.63h0.8M271.95 173.39h0.8M272.66 174.29h0.8M272.76 176.51h0.8M273.27 177.85h0.8M273.18 175.97h0.8M273.46 171.95h0.8M273.74 170.06h0.8M274.39 172.35h0.8M274.11 170.49h0.8M274.69 178.49h0.8M274.81 172.96h0.8M275.35 175.83h0.8M275.68 173.68h0.8M276.09 175.67h0.8M275.87 173.04h0.8M276.28 171.86h0.8M276.33 170.37h0.8M276.77 174.61h0.8M276.83 176.16h0.8M277.35 171.91h0.8M277.65 175.69h0.8M278.06 177.4h0.8M278.27 172.97h0.8M278.69 172.69h0.8M278.41 174.82h0.8M279.17 173.51h0.8M279.53 172.81h0.8M279.89 174.75h0.8M279.88 169.23h0.8M280.17 172.3h0.8M280.51 167.62h0.8M281.09 173.6h0.8M280.96 176.18h0.8M281.5 177.43h0.8M281.27 169.86h0.8M282.14 177.55h0.8M281.86 174.57h0.8M282.35 174.51h0.8M282.67 174.39h0.8M282.96 176.22h0.8M283.23 174.33h0.8M283.42 174.83h0.8M283.91 174.26h0.8M284.1 175.81h0.8M284.21 174.02h0.8M284.74 173.13h0.8M284.61 176.86h0.8M285.1 175.4h0.8M285.05 174.72h0.8M285.71 171.36h0.8M286.03 171.4h0.8M286.4 174.03h0.8M286.21 171.89h0.8M286.68 177.53h0.8M286.74 172.86h0.8M287.63 173.44h0.8M287.34 171.86h0.8M287.81 175.84h0.8M288.1 169.68h0.8M288.78 175.97h0.8M288.77 178.44h0.8M289.25 174.57h0.8M289.19 175.64h0.8M289.75 175.61h0.8M289.46 175.83h0.8M290.11 173.09h0.8M290.2 172.92h0.8M290.52 170.11h0.8M290.93 173.55h0.8M291.43 174.91h0.8M291.46 176.76h0.8M291.72 169.98h0.8M291.79 170.53h0.8M292.24 173.38h0.8M292.29 172.66h0.8M293.13 175.24h0.8M293.28 169.32h0.8M293.44 175.22h0.8M293.68 172.22h0.8M293.85 178.2h0.8M293.83 175.89h0.8M294.91 172.97h0.8M294.88 174.44h0.8M294.97 172.77h0.8M295.2 175.05h0.8M295.88 171.94h0.8M295.77 174.25h0.8M296.04 174.85h0.8M296.23 173.3h0.8M296.95 172.48h0.8M296.68 174.87h0.8M297.53 173.31h0.8M297.56 177.63h0.8M298.21 172.52h0.8M298.21 176.94h0.8M94.97 160.31h0.8M95.08 160.32h0.8M95.84 161.04h0.8M95.8 161.14h0.8M96.17 161.91h0.8M95.98 161.92h0.8M96.81 162.73h0.8M96.61 162.48h0.8M96.96 163.11h0.8M97.48 163h0.8M97.91 163.63h0.8M97.53 163.48h0.8M98.1 164.02h0.8M98.32 164h0.8M98.65 164.52h0.8M99.01 164.27h0.8M99.17 164.67h0.8M99.25 165.04h0.8M99.81 165.52h0.8M100.09 165.35h0.8M100.48 166.33h0.8M100.77 165.4h0.8M101.03 166.03h0.8M101.18 166.08h0.8M101.42 166.62h0.8M101.87 166.47h0.8M102.05 167.49h0.8M102 167.4h0.8M102.99 167.38h0.8M102.49 167.77h0.8M103.05 167.92h0.8M103.4 167.5h0.8M103.75 167.95h0.8M103.99 168.26h0.8M104.06 168.69h0.8M104.51 168.03h0.8M105.17 168.08h0.8M104.8 168.21h0.8M105.31 169.38h0.8M105.37 168.42h0.8M105.93 169.01h0.8M105.77 169.51h0.8M106.5 169.64h0.8M106.63 170.35h0.8M106.95 170.27h0.8M107.35 169.34h0.8M107.79 170.42h0.8M107.8 168.86h0.8M108.29 170.36h0.8M108.13 169.95h0.8M108.77 170.58h0.8M108.65 170.27h0.8M109.51 170.84h0.8M109.51 170.32h0.8M110.11 171.04h0.8M110 170.71h0.8M110.13 170.79h0.8M110.62 170.5h0.8M110.85 170.79h0.8M111.12 171.11h0.8M111.33 171.62h0.8M111.4 170.55h0.8M111.95 171.62h0.8M111.77 171.83h0.8M112.34 171.89h0.8M112.34 171.47h0.8M113.13 171.94h0.8M113.09 171.65h0.8M113.59 172.51h0.8M113.78 171h0.8M114.49 172.72h0.8M114.39 171.95h0.8M114.84 172.07h0.8M114.56 173.37h0.8M115.36 171.8h0.8M115.34 172.11h0.8M116 171.85h0.8M115.72 173.28h0.8M116.73 172.58h0.8M116.57 173.27h0.8M116.72 173.86h0.8M117.05 173.86h0.8M117.51 172.42h0.8M117.31 173.53h0.8M118.27 172.34h0.8M118.01 173.17h0.8M118.83 173.61h0.8M118.48 174.34h0.8M119.16 174.86h0.8M119.13 172.43h0.8M119.57 173.39h0.8M119.63 172.47h0.8M120.11 173.4h0.8M120.33 174.64h0.8M120.64 173.11h0.8M121.12 173.95h0.8M121.58 174.81h0.8M121.21 174.07h0.8M122.11 174.81h0.8M122.17 173.79h0.8M122.32 173.43h0.8M122.21 175.32h0.8M123.29 173.12h0.8M123.32 174.39h0.8M123.64 173.1h0.8M123.39 174.42h0.8M124.1 173.86h0.8M124.21 173.8h0.8M124.65 174.68h0.8M124.71 175.21h0.8M124.95 174.54h0.8M125.15 174.86h0.8M125.64 174.68h0.8M125.65 173.87h0.8M126.41 174.59h0.8M126.59 174.95h0.8M127.03 175.33h0.8M127.05 175.9h0.8M127.31 174.92h0.8M127.65 174.16h0.8M128.27 175.44h0.8M127.97 175.15h0.8M128.73 175.54h0.8M128.66 175.46h0.8M129.18 175.87h0.8M129.4 175.99h0.8M129.5 174.87h0.8M129.47 176.48h0.8M130.27 175.92h0.8M130.08 176.15h0.8M130.5 175.87h0.8M130.57 176.03h0.8M131.11 175.35h0.8M131.29 176.45h0.8M131.84 173.96h0.8M132.12 176.45h0.8M132.46 175.34h0.8M132.19 175.89h0.8M133.07 176h0.8M133.23 176.11h0.8M133.46 175.36h0.8M133.41 176.32h0.8M133.84 175.71h0.8M134.27 175.29h0.8M134.81 175.95h0.8M134.74 175.99h0.8M135.4 175.43h0.8M135.09 176.93h0.8M135.73 175.54h0.8M135.8 176.39h0.8M136.04 176h0.8M136.17 174.3h0.8M136.85 177.04h0.8M136.91 175.11h0.8M137.38 175.24h0.8M137.29 177.85h0.8M138.14 176.46h0.8M138.08 176.66h0.8M138.44 177.03h0.8M138.45 176.45h0.8M138.91 175.25h0.8M139.02 177.67h0.8M139.54 177.45h0.8M139.45 175.9h0.8M140.27 175.58h0.8M139.96 177.17h0.8M140.57 175.9h0.8M140.9 177.06h0.8M141.1 175.84h0.8M141.39 176.33h0.8M141.46 177.21h0.8M141.57 177.61h0.8M142.09 177.98h0.8M142.14 177.1h0.8M142.99 177.19h0.8M142.98 176.8h0.8M143.43 178.36h0.8M143.65 175.47h0.8M143.91 178.28h0.8M143.77 177.67h0.8M144.43 176.6h0.8M144.26 174.89h0.8M145.11 177.67h0.8M145.34 175.58h0.8M145.37 176.95h0.8M145.31 176.73h0.8M145.92 176.34h0.8M145.95 175.44h0.8M146.8 177.2h0.8M146.98 177.81h0.8M147.21 175.06h0.8M147.18 178.64h0.8M148.08 176.69h0.8M148.1 177.37h0.8M148.16 176.55h0.8M148.14 176.15h0.8M148.64 175.81h0.8M148.92 177.95h0.8M149.41 176.62h0.8M149.62 176.5h0.8M150.23 175.8h0.8M150.06 176.25h0.8M150.82 176.23h0.8M150.77 177.55h0.8M150.89 177.79h0.8M150.91 176.1h0.8M151.35 175.62h0.8M151.83 177.72h0.8M151.9 176.99h0.8M152.38 175.58h0.8M152.79 175.47h0.8M152.89 177.48h0.8M153.57 174.61h0.8M153.56 178.09h0.8M153.78 176.07h0.8M153.71 176.14h0.8M154.57 178.19h0.8M154.59 175.7h0.8M154.84 178.26h0.8M155.1 176.62h0.8M155.3 176.6h0.8M155.71 178.1h0.8M156.3 175.88h0.8M155.8 176.76h0.8M156.39 178.27h0.8M156.76 175.95h0.8M157.2 174.65h0.8M157.11 175.67h0.8M157.87 177.08h0.8M157.46 176.49h0.8M158.47 176.58h0.8M158.22 177.18h0.8M158.94 176.53h0.8M158.89 175.84h0.8M159.48 177.67h0.8M159.18 177.36h0.8M159.82 176.14h0.8M160.15 175.91h0.8M160.41 180.19h0.8M160.49 175.29h0.8M160.97 177.27h0.8M161.22 174.89h0.8M161.53 174.4h0.8M161.32 178.16h0.8M162.21 176.58h0.8M161.83 175.96h0.8M162.79 177.96h0.8M162.43 176.47h0.8M163.05 175.84h0.8M163.39 175.73h0.8M163.5 177.8h0.8M163.96 176.81h0.8M164.28 176.76h0.8M164.28 176.34h0.8M164.76 176.15h0.8M165.11 174.7h0.8M165.59 176.75h0.8M165.17 177.07h0.8M165.85 177.02h0.8M165.75 177.74h0.8M166.67 177.67h0.8M166.35 175.91h0.8M167.29 177.16h0.8M167.12 176.02h0.8M167.68 178.43h0.8M167.62 176.08h0.8M167.91 177.21h0.8M168.4 175.41h0.8M168.85 177.03h0.8M168.54 174.72h0.8M169.53 174.22h0.8M169.5 176.91h0.8M169.83 177.36h0.8M169.74 177.94h0.8M170.33 176.7h0.8M170.35 176.94h0.8M170.93 176.23h0.8M171.06 177.52h0.8M171.68 175.73h0.8M171.37 175.96h0.8M171.78 179.72h0.8M172.05 175.46h0.8M172.58 177.52h0.8M172.44 176.06h0.8M172.87 177.14h0.8M172.97 176.46h0.8M173.92 175.18h0.8M173.76 175.12h0.8M174.28 174.28h0.8M174.23 178.63h0.8M174.67 177.5h0.8M174.81 174.83h0.8M175.15 175.21h0.8M175.58 179.47h0.8M175.88 176.42h0.8M175.67 176.32h0.8M176.6 175.6h0.8M176.5 176.21h0.8M177.25 175.04h0.8M177.06 173.51h0.8M177.23 176.21h0.8M177.46 176.15h0.8M178.09 177.34h0.8M177.76 176h0.8M178.65 173.75h0.8M178.79 177.65h0.8M178.96 177.1h0.8M179.35 176.28h0.8M179.56 178.69h0.8M179.93 178.05h0.8M180.53 175.01h0.8M180.19 176.08h0.8M181 176.02h0.8M181.09 175.71h0.8M181.21 177.91h0.8M181.14 177.62h0.8M182.17 174.86h0.8M182.2 177.69h0.8M182.54 178.09h0.8M182.25 176.1h0.8M182.92 175.91h0.8M183.24 174.45h0.8M183.34 176.15h0.8M183.34 176.94h0.8M183.9 174.04h0.8M184.1 174.85h0.8M184.6 174.56h0.8M184.68 175.36h0.8M185.15 176.65h0.8M185.04 176.21h0.8M185.94 176.21h0.8M185.59 175.11h0.8M186.23 177.52h0.8M186.2 177.05h0.8M186.95 176.26h0.8M187.05 175.15h0.8M187.65 174.54h0.8M187.46 176.66h0.8M187.7 176.39h0.8M187.85 176.66h0.8M188.45 177.94h0.8M188.39 177.28h0.8M188.9 172.75h0.8M188.84 175.91h0.8M189.85 175.73h0.8M189.72 177.39h0.8M189.88 175.37h0.8M189.92 176.55h0.8M190.49 177.4h0.8M190.78 174.43h0.8M191.15 177.83h0.8M191.01 176.81h0.8M191.81 176.07h0.8M191.6 173.81h0.8M192.45 175.41h0.8M192.1 174.79h0.8M192.73 176.29h0.8M192.84 176.12h0.8M193.56 176.4h0.8M193.75 176.81h0.8M194.1 175.59h0.8M193.83 177.23h0.8M194.51 174.31h0.8M194.34 177.57h0.8M195.39 177.95h0.8M195.35 177.03h0.8M195.64 177.69h0.8M195.47 177.29h0.8M196.39 175.35h0.8M196.08 174.63h0.8M196.73 178.84h0.8M196.53 175.07h0.8M197.41 175.42h0.8M197.42 176.32h0.8M197.58 172.45h0.8M197.98 174.22h0.8M198.29 176.49h0.8M198.13 175.52h0.8M198.86 174.05h0.8M199.07 174.99h0.8M199.37 174.58h0.8M199.79 178.14h0.8M199.8 176.15h0.8M200.19 176.33h0.8M200.39 177.79h0.8M200.82 174.57h0.8M201.08 176.13h0.8M201.25 175.51h0.8M201.61 176.78h0.8M201.92 176.31h0.8M202.5 177.74h0.8M202.42 176.28h0.8M203.08 177.76h0.8M202.89 174.69h0.8M203.17 178.34h0.8M203.36 175.65h0.8M203.82 174.85h0.8M203.91 176.5h0.8M204.32 175.35h0.8M204.45 175.74h0.8M205.1 174.63h0.8M204.81 176.32h0.8M205.71 175.06h0.8M205.67 176.11h0.8M205.95 176.78h0.8M206.36 174.4h0.8M206.52 174.77h0.8M206.59 176.29h0.8M207.19 175.61h0.8M207.34 173.39h0.8M207.66 176.85h0.8M207.63 178.24h0.8M208.44 174.62h0.8M208.12 178.65h0.8M208.94 176.75h0.8M208.96 179.44h0.8M209.26 174.71h0.8M209.14 174.47h0.8M210.23 176.19h0.8M209.96 176.81h0.8M210.68 174.31h0.8M210.34 172.52h0.8M211.23 176.06h0.8M211.19 177.21h0.8M211.46 174.84h0.8M211.59 176.64h0.8M212.36 175.64h0.8M212.37 172.9h0.8M212.59 174.83h0.8M212.98 177.23h0.8M213.12 176.97h0.8M213.5 177.5h0.8M214.01 177.53h0.8M214.03 175.29h0.8M214.51 175.53h0.8M214.27 177.1h0.8M214.86 179.43h0.8M214.84 179.23h0.8M215.16 175.47h0.8M215.38 175.83h0.8M215.92 176.43h0.8M216.16 176.81h0.8M216.62 175.27h0.8M216.36 179.01h0.8M217.17 179.36h0.8M216.98 177h0.8M217.9 177.77h0.8M217.49 180.09h0.8M218.09 174.62h0.8M217.92 175.45h0.8M218.81 175.49h0.8M218.76 179.06h0.8M219.19 177.63h0.8M219.25 177.6h0.8M219.62 174.11h0.8M220.14 179.76h0.8M220.25 176.96h0.8M220.45 180.41h0.8M221.13 176.38h0.8M221.14 177.12h0.8M221.49 176.38h0.8M221.79 180h0.8M221.89 178.53h0.8M222.12 177.41h0.8M222.63 177.44h0.8M222.53 173.22h0.8M223.01 177.09h0.8M223.3 175.97h0.8M223.45 171.24h0.8M223.68 179.03h0.8M224.01 176.88h0.8M224 176.97h0.8M224.8 175.48h0.8M224.67 178.37h0.8M225.64 176.19h0.8M225.15 174.66h0.8M225.82 174.64h0.8M226.12 176.75h0.8M226.36 177.92h0.8M226.35 180.77h0.8M226.87 175.04h0.8M226.75 175.27h0.8M227.32 178.75h0.8M227.64 176.42h0.8M228 175.25h0.8M228.31 176.61h0.8M228.92 175.89h0.8M228.57 178.72h0.8M229.3 176.03h0.8M229.3 177.67h0.8M229.59 175.09h0.8M229.92 177.68h0.8M230.22 173.39h0.8M230.44 178.02h0.8M231.13 178.43h0.8M230.96 177.29h0.8M231.38 176h0.8M231.22 174.95h0.8M232.07 178.42h0.8M231.81 179.64h0.8M232.57 176.41h0.8M232.3 176.22h0.8M233.08 175.34h0.8M232.83 177h0.8M233.38 174.31h0.8M233.49 177.41h0.8M234.22 176.02h0.8M234.32 174.82h0.8M234.67 175.84h0.8M234.9 176.52h0.8M235.17 174.02h0.8M235.22 175.76h0.8M235.89 180.95h0.8M235.56 176.45h0.8M236.61 176.78h0.8M236.63 176.84h0.8M237.11 176.98h0.8M236.71 175.58h0.8M237.16 178.41h0.8M237.68 174.99h0.8M238.11 173.57h0.8M238.02 178.69h0.8M238.79 178.17h0.8M238.45 176.17h0.8M238.84 179.15h0.8M238.84 177.58h0.8M239.45 176.52h0.8M239.53 176.52h0.8M240.44 176.44h0.8M240.42 181.99h0.8M240.93 179.6h0.8M240.62 177.16h0.8M241.44 180.81h0.8M241.14 175.58h0.8M241.88 181.43h0.8M241.92 179.99h0.8M242.52 178.12h0.8M242.38 176.44h0.8M242.77 177.9h0.8M243.22 175.04h0.8M243.7 176.68h0.8M243.35 180.89h0.8M243.88 176.65h0.8M243.88 175.34h0.8M244.61 179.4h0.8M244.6 176.81h0.8M245.3 181.02h0.8M245.38 178.02h0.8M245.61 176.49h0.8M245.84 178.61h0.8M246.26 176.21h0.8M246.04 175.56h0.8M246.8 179.63h0.8M246.97 176.23h0.8M247.26 178.61h0.8M247.54 180.82h0.8M247.98 178.96h0.8M247.89 178.47h0.8M248.28 175.39h0.8M248.41 179.54h0.8M248.85 181.5h0.8M249.2 177.55h0.8M249.63 174.63h0.8M249.33 176.53h0.8M250.32 177.84h0.8M250.27 175.68h0.8M250.61 175.72h0.8M250.75 173.8h0.8M250.96 178.94h0.8M251.15 177.11h0.8M251.58 176.26h0.8M251.97 177.47h0.8M252.11 176.57h0.8M252.35 178.4h0.8M252.87 178.53h0.8M252.81 179.98h0.8M253.11 173.21h0.8M253.66 177.48h0.8M254.11 177.79h0.8M253.99 178.2h0.8M254.67 176.03h0.8M254.38 177.22h0.8M255.09 177.37h0.8M255.14 175.96h0.8M255.34 175.78h0.8M255.69 179.53h0.8M256.18 177.14h0.8M256.29 176.37h0.8M256.92 181.22h0.8M256.43 180.28h0.8M257.1 177.65h0.8M257 178.62h0.8M257.68 175.86h0.8M257.78 177.76h0.8M258.48 174.78h0.8M258.12 180.65h0.8M258.8 177.71h0.8M258.66 177.96h0.8M259.75 176.32h0.8M259.28 173.76h0.8M259.95 181.57h0.8M260.26 178.58h0.8M260.29 176.06h0.8M260.82 178.97h0.8M261.06 175.11h0.8M261.26 177.48h0.8M261.46 179.01h0.8M261.59 175.3h0.8M262.3 179.6h0.8M262.24 176.13h0.8M262.6 174.62h0.8M262.78 178.45h0.8M263.22 178.35h0.8M263.53 176.95h0.8M263.93 178.09h0.8M263.93 177.64h0.8M264.18 179.22h0.8M264.28 175.41h0.8M264.77 176.79h0.8M265.04 173.86h0.8M265.21 175.72h0.8M265.46 174.71h0.8M265.95 176.2h0.8M265.83 180.66h0.8M266.77 176.73h0.8M266.48 175.93h0.8M266.92 173.4h0.8M267.29 176.43h0.8M267.42 183h0.8M267.83 180.12h0.8M268.19 176.65h0.8M268.25 178.86h0.8M268.81 176.61h0.8M268.68 178.36h0.8M269.31 180.11h0.8M269.19 177.2h0.8M269.99 179.87h0.8M270.1 177.27h0.8M270.32 174.4h0.8M270.22 180.33h0.8M271.22 180.36h0.8M270.82 178.42h0.8M271.42 173.7h0.8M271.34 179.27h0.8M272.36 175.04h0.8M272.34 177.37h0.8M272.6 177.94h0.8M272.37 180.95h0.8M273.08 172.36h0.8M273.25 179.63h0.8M274 177.45h0.8M273.52 176.79h0.8M274.01 176.38h0.8M274.23 181.54h0.8M274.56 179.71h0.8M274.64 179.75h0.8M275.15 177.85h0.8M275.22 178.71h0.8M276.14 176.26h0.8M275.9 177.5h0.8M276.7 177.63h0.8M276.23 179.58h0.8M277.32 177.59h0.8M276.99 176.47h0.8M277.36 173.38h0.8M277.34 174.64h0.8M278.28 176.42h0.8M278.02 174.36h0.8M278.66 175.93h0.8M278.57 177.65h0.8M279.11 175.7h0.8M279.34 176.47h0.8M279.8 181.67h0.8M279.64 180.02h0.8M280.35 179.95h0.8M280.48 179.67h0.8M281.14 175.65h0.8M280.76 179.52h0.8M281.74 183.14h0.8M281.72 176.89h0.8M282.07 177.33h0.8M281.82 182.44h0.8M282.74 181.4h0.8M282.58 177.48h0.8M282.91 182.22h0.8M282.96 180.08h0.8M283.63 176.19h0.8M283.78 176.33h0.8M283.96 180.76h0.8M284.19 179.74h0.8M284.48 175.04h0.8M284.56 174.15h0.8M285.25 180.07h0.8M285.22 176.79h0.8M285.94 175.96h0.8M285.79 173.24h0.8M286.21 174.46h0.8M286.67 176.04h0.8M287.25 182.03h0.8M286.93 176.37h0.8M287.65 178.47h0.8M287.63 175.67h0.8M288.28 182.18h0.8M287.91 175.41h0.8M288.49 178.08h0.8M288.52 174.31h0.8M289.36 178.93h0.8M289.25 172.27h0.8M289.74 178.08h0.8M289.53 178.72h0.8M290.04 176.62h0.8M290.38 178.39h0.8M290.7 178.15h0.8M291.01 182.59h0.8M291.29 176.53h0.8M291.06 179.32h0.8M291.61 174.71h0.8M292.12 178.29h0.8M292.73 177.13h0.8M292.29 177.25h0.8M292.76 177.16h0.8M293.13 177.79h0.8M293.4 174.24h0.8M293.42 175.5h0.8M294.39 179.79h0.8M294.33 176.61h0.8M294.36 180.98h0.8M294.78 180.96h0.8M295.23 178.66h0.8M295.39 172.99h0.8M295.61 179.03h0.8M295.69 179.95h0.8M296.34 178.61h0.8M296.47 181.18h0.8M297.1 174.29h0.8M297.04 174.18h0.8M297.66 174.61h0.8M297.32 175.9h0.8M298.07 178.98h0.8M298.21 178.46h0.8M95.26 174.38h0.8M95.17 174.3h0.8M95.71 174.66h0.8M95.44 175.09h0.8M96.29 175.61h0.8M95.95 175.55h0.8M96.43 175.33h0.8M96.43 175h0.8M97.47 175.59h0.8M97.5 175.88h0.8M97.83 175.63h0.8M97.55 176.31h0.8M98.05 176.56h0.8M98.27 176.34h0.8M98.8 176.95h0.8M99.12 176.65h0.8M99.57 176.33h0.8M99.45 177.13h0.8M99.94 177.06h0.8M99.89 177.29h0.8M100.39 177.01h0.8M100.56 176.95h0.8M100.95 177.63h0.8M100.76 177.41h0.8M101.55 177.68h0.8M101.8 177.65h0.8M102.35 177.47h0.8M102.2 176.94h0.8M102.63 177.85h0.8M102.56 177.87h0.8M103.28 177.94h0.8M103.18 177.95h0.8M103.56 177.81h0.8M103.94 178.18h0.8M104.12 178.43h0.8M104.41 177.82h0.8M105.06 179.13h0.8M104.63 177.62h0.8M105.32 178.89h0.8M105.7 178.11h0.8M105.85 178.96h0.8M106.05 177.88h0.8M106.71 178.44h0.8M106.62 178.9h0.8M107.36 178.52h0.8M107.14 179.18h0.8M107.95 179.27h0.8M107.37 178.56h0.8M108.34 178.4h0.8M108.48 179.03h0.8M108.83 178.63h0.8M108.77 178.63h0.8M109.01 178.74h0.8M109.19 178.04h0.8M110.02 179.18h0.8M109.57 178.97h0.8M110.24 178.66h0.8M110.33 178.5h0.8M110.97 179.28h0.8M111.01 179.86h0.8M111.77 178.95h0.8M111.67 179.75h0.8M112.06 179.59h0.8M111.98 179.16h0.8M112.4 178.83h0.8M112.64 180h0.8M112.86 179.51h0.8M113.01 178.26h0.8M113.5 178.27h0.8M113.9 179.44h0.8M114.51 178.94h0.8M113.99 179.79h0.8M114.58 179.33h0.8M114.68 179.72h0.8M115.12 179.3h0.8M115.53 178.87h0.8M116.09 179.25h0.8M116.09 179.52h0.8M116.64 179.82h0.8M116.29 180.76h0.8M117.2 180.65h0.8M116.76 179.61h0.8M117.63 179.73h0.8M117.75 178.73h0.8M118.3 180.14h0.8M118.35 179.62h0.8M118.76 179.38h0.8M118.86 180.46h0.8M119.05 179.33h0.8M119.23 179.55h0.8M119.98 180.49h0.8M119.6 180.59h0.8M120.07 179.51h0.8M120.47 178.99h0.8M120.61 179.87h0.8M120.72 179.33h0.8M121.59 179.93h0.8M121.2 179.2h0.8M122.18 180.29h0.8M121.75 180.2h0.8M122.25 180.78h0.8M122.6 180.33h0.8M123.15 180.31h0.8M123.27 180.14h0.8M123.32 179.38h0.8M123.5 180.3h0.8M124.28 180.02h0.8M124.32 181.04h0.8M124.48 179.04h0.8M124.63 179.79h0.8M125.39 179.87h0.8M125.08 180.5h0.8M126.02 179.79h0.8M125.88 180.49h0.8M126.6 179.42h0.8M126.61 180.12h0.8M127.12 179.27h0.8M126.75 180.33h0.8M127.45 180.07h0.8M127.61 180.39h0.8M128.29 180.49h0.8M127.99 180.69h0.8M128.79 179.17h0.8M128.48 180.98h0.8M129.24 180.82h0.8M129.35 180.81h0.8M129.66 179.83h0.8M129.52 179.65h0.8M130.45 179.43h0.8M130.44 180.42h0.8M131.03 180.89h0.8M130.53 179.82h0.8M131.52 181.08h0.8M131.25 179.71h0.8M132.06 180.36h0.8M132.04 180.19h0.8M132.23 179.26h0.8M132.55 181.17h0.8M132.77 179.49h0.8M133.13 180.37h0.8M133.79 180.2h0.8M133.33 179.92h0.8M134.1 179.7h0.8M134.28 180.79h0.8M134.52 181.25h0.8M134.36 179.89h0.8M135.2 181.09h0.8M135.12 180.65h0.8M135.61 181.06h0.8M135.65 180.18h0.8M136.3 181.14h0.8M136.28 181.89h0.8M136.69 179.76h0.8M136.8 180.55h0.8M137.39 178.23h0.8M137.17 181.02h0.8M137.81 180.74h0.8M138.07 180.45h0.8M138.62 180.75h0.8M138.41 179.93h0.8M138.73 179.34h0.8M138.74 180.08h0.8M139.48 179.7h0.8M139.8 179.23h0.8M139.84 180.61h0.8M140.13 179.69h0.8M140.38 179.99h0.8M140.64 179.83h0.8M141.28 181.66h0.8M141.07 180.61h0.8M141.56 179.75h0.8M141.56 180.53h0.8M142.43 180.7h0.8M142.21 179.47h0.8M142.94 180.73h0.8M142.79 179.25h0.8M143.68 179.81h0.8M143.5 180.12h0.8M143.71 179.12h0.8M143.85 180.08h0.8M144.21 180.54h0.8M144.47 182.01h0.8M145.18 181.38h0.8M144.93 179.2h0.8M145.48 180.49h0.8M145.73 181.72h0.8M146.19 179.44h0.8M146.34 181.56h0.8M146.99 181.21h0.8M146.41 180.25h0.8M147.28 180.49h0.8M147.18 180.17h0.8M147.62 180.43h0.8M147.97 179.53h0.8M148.34 178.85h0.8M148.07 179.84h0.8M148.88 180.41h0.8M148.6 179.67h0.8M149.61 180.24h0.8M149.53 181.72h0.8M150.1 178.87h0.8M149.82 180.86h0.8M150.69 179.06h0.8M150.37 180.03h0.8M150.86 179.98h0.8M151.01 181.13h0.8M151.45 180.15h0.8M151.79 179.04h0.8M151.99 181.52h0.8M151.96 181.4h0.8M152.61 180.29h0.8M152.98 181.49h0.8M153.45 181.05h0.8M153.42 179.99h0.8M154.12 179.58h0.8M154.12 180.01h0.8M154.29 181.19h0.8M154.22 180.36h0.8M154.66 178.32h0.8M155.15 181.2h0.8M155.74 180.22h0.8M155.36 180.44h0.8M155.97 180.39h0.8M155.82 180.77h0.8M156.65 180.6h0.8M156.57 180.98h0.8M157.31 179.83h0.8M157.28 181.46h0.8M157.87 178.95h0.8M157.74 182.21h0.8M158.03 179.32h0.8M158.48 180.4h0.8M159.06 179.87h0.8M159.03 179.94h0.8M159.19 181.87h0.8M159.37 180.59h0.8M159.9 180.74h0.8M160 179.37h0.8M160.41 180.77h0.8M160.74 181.65h0.8M160.72 180.88h0.8M160.86 181.81h0.8M161.57 180.68h0.8M161.35 180.64h0.8M162.17 180.35h0.8M162.32 179.73h0.8M162.81 180.75h0.8M162.63 180.76h0.8M163.14 181.12h0.8M163.47 179.77h0.8M163.98 178.55h0.8M163.57 182.63h0.8M164.07 177.59h0.8M164.51 179.42h0.8M164.91 180.46h0.8M164.61 178.3h0.8M165.57 180.69h0.8M165.53 180.03h0.8M165.9 179.44h0.8M166.1 181.77h0.8M166.43 182.77h0.8M166.68 180.89h0.8M166.93 178.04h0.8M167.08 180.53h0.8M167.35 181.49h0.8M167.82 180.36h0.8M168.43 179.59h0.8M168.42 179.02h0.8M168.82 180.61h0.8M168.84 180h0.8M169.5 179.96h0.8M169.21 179.99h0.8M169.67 178.29h0.8M169.52 178.87h0.8M170.07 180.97h0.8M170.13 179.67h0.8M170.73 182.11h0.8M170.69 180.04h0.8M171.5 181.56h0.8M171.23 179.02h0.8M171.7 177.54h0.8M171.95 181.65h0.8M172.31 184.16h0.8M172.82 181.62h0.8M172.83 181.19h0.8M173.22 178.39h0.8M173.44 178.62h0.8M173.66 180.15h0.8M174.43 180.3h0.8M174.15 179.44h0.8M174.73 179.98h0.8M174.84 181.01h0.8M175.31 177.64h0.8M175.31 178.93h0.8M175.56 180.96h0.8M175.75 180.01h0.8M176.35 179.81h0.8M176.12 180.68h0.8M177.18 181.38h0.8M177.07 179.35h0.8M177.38 179.78h0.8M177.64 177.87h0.8M178.11 180.51h0.8M178.22 181.66h0.8M178.79 180.65h0.8M178.78 181.11h0.8M178.98 180.71h0.8M178.91 179.96h0.8M179.79 179.68h0.8M179.87 177.87h0.8M180.5 178.33h0.8M180.34 179.87h0.8M180.8 179.04h0.8M180.95 178.55h0.8M181.31 179.4h0.8M181.3 179.73h0.8M181.82 178.44h0.8M181.83 180.76h0.8M182.73 178.85h0.8M182.2 180.62h0.8M182.94 182.23h0.8M182.97 180.27h0.8M183.39 178.92h0.8M183.26 179.31h0.8M183.97 182.35h0.8M184.08 177.69h0.8M184.89 179.82h0.8M184.85 180.47h0.8M185.32 180.09h0.8M185.38 181.11h0.8M185.59 178.66h0.8M185.93 180.3h0.8M186.07 181.87h0.8M186.36 177.91h0.8M186.83 182.29h0.8M186.64 179.82h0.8M187.14 182.2h0.8M187.59 180.9h0.8M188.18 179.21h0.8M188.21 178.62h0.8M188.55 179.54h0.8M188.45 179.59h0.8M189.19 180.04h0.8M188.82 183.38h0.8M189.64 180.21h0.8M189.49 181.36h0.8M189.96 177.53h0.8M190.28 181.03h0.8M190.97 178.31h0.8M190.6 183.15h0.8M191.2 179.47h0.8M191.32 179.59h0.8M191.52 179.15h0.8M191.57 178.99h0.8M192.23 179.19h0.8M192.42 179.7h0.8M192.75 181.51h0.8M192.95 178.98h0.8M193.24 179.62h0.8M193.31 182.65h0.8M193.8 176.96h0.8M193.82 181.3h0.8M194.45 180.76h0.8M194.49 180.83h0.8M195.09 180.14h0.8M195.04 178.49h0.8M195.61 180.56h0.8M195.9 176.76h0.8M196.22 180.04h0.8M196.31 184.33h0.8M196.53 179.15h0.8M196.98 180.9h0.8M197.28 178.52h0.8M197.32 181.93h0.8M197.75 180.33h0.8M197.96 181.01h0.8M198.53 179.96h0.8M198.36 180.04h0.8M198.78 181.19h0.8M199.14 180.59h0.8M199.35 178.72h0.8M199.37 179.63h0.8M200.22 179.8h0.8M200.22 181.52h0.8M200.69 179.01h0.8M200.37 176.91h0.8M201 181.01h0.8M201.17 180.35h0.8M201.66 181.03h0.8M201.55 178.15h0.8M202.15 182.8h0.8M201.98 179.78h0.8M203.01 181.34h0.8M202.57 179.95h0.8M203.58 179.21h0.8M203.23 178.83h0.8M204.08 180.99h0.8M204.19 180.75h0.8M204.32 178.54h0.8M204.31 178.14h0.8M204.73 184.23h0.8M205.07 182.61h0.8M205.51 179.48h0.8M205.81 180.98h0.8M206.18 180.13h0.8M206.19 181.13h0.8M206.87 179.06h0.8M206.42 180.05h0.8M207.21 180.71h0.8M207.19 181.25h0.8M207.99 177.55h0.8M207.73 179.23h0.8M208.01 183.25h0.8M208.19 180.98h0.8M209.02 181.59h0.8M208.63 181.96h0.8M209.51 179.22h0.8M209.17 183.38h0.8M209.9 178.96h0.8M209.74 177.32h0.8M210.28 179.33h0.8M210.3 178.88h0.8M210.98 179.42h0.8M211.08 180.68h0.8M211.78 178.48h0.8M211.35 179.59h0.8M212.37 178.21h0.8M212.4 183.76h0.8M212.87 180.39h0.8M212.74 178h0.8M213.01 181.19h0.8M213.48 181.1h0.8M213.82 179.39h0.8M213.56 181.83h0.8M214.53 179.32h0.8M214.58 177.13h0.8M215.06 179.79h0.8M215.02 181.12h0.8M215.24 179.06h0.8M215.65 181.4h0.8M215.9 177.01h0.8M215.89 181.02h0.8M216.78 177.22h0.8M216.46 179.97h0.8M217.32 179.58h0.8M217.26 178.48h0.8M217.51 178.6h0.8M217.88 179.64h0.8M217.95 180.73h0.8M218.02 178.75h0.8M218.94 180.75h0.8M218.77 180.12h0.8M219.25 178.07h0.8M219.33 179.48h0.8M219.61 183.78h0.8M219.63 182.49h0.8M220.58 179.01h0.8M220.52 177.9h0.8M220.66 180.82h0.8M220.79 180.01h0.8M221.52 180.46h0.8M221.66 179.2h0.8M222.29 181.56h0.8M222.2 182.2h0.8M222.47 178.55h0.8M222.88 181.57h0.8M223.03 180.87h0.8M223.29 177.48h0.8M223.62 176.89h0.8M223.93 180.58h0.8M224.29 179.46h0.8M224.43 178.38h0.8M224.5 175.5h0.8M225.04 179.42h0.8M225.56 179.81h0.8M225.14 178.13h0.8M226.09 178.71h0.8M225.82 182.93h0.8M226.18 183.13h0.8M226.22 180.22h0.8M226.89 182.58h0.8M226.86 181.5h0.8M227.8 179.59h0.8M227.75 180.59h0.8M227.99 178.35h0.8M228.16 179.57h0.8M228.92 177.28h0.8M228.79 184.76h0.8M228.97 180.71h0.8M229.11 179.66h0.8M230.04 181.82h0.8M229.95 181.84h0.8M230.13 181.73h0.8M230.01 180h0.8M230.87 180.27h0.8M230.73 181.05h0.8M231.46 179.19h0.8M231.28 178.09h0.8M232.08 180.09h0.8M231.93 177.32h0.8M232.22 178.77h0.8M232.48 180.76h0.8M233.27 179.42h0.8M233.28 179.53h0.8M233.59 182.67h0.8M233.41 177.42h0.8M234.44 179.96h0.8M233.92 183.72h0.8M234.61 182.33h0.8M234.76 180.49h0.8M235.15 183.44h0.8M235.5 182.99h0.8M235.61 179.58h0.8M236.08 181.97h0.8M236.09 177.15h0.8M236.38 178.36h0.8M237.16 179.8h0.8M236.66 174.49h0.8M237.47 175.11h0.8M237.72 185.9h0.8M238.27 180.44h0.8M237.86 180.92h0.8M238.6 178.61h0.8M238.81 179.71h0.8M238.95 184.54h0.8M239.29 179.04h0.8M239.92 182.64h0.8M239.5 180.72h0.8M240.04 178.59h0.8M240.33 182.54h0.8M241 179.93h0.8M240.49 179.69h0.8M241.09 179.83h0.8M241.05 178.61h0.8M241.83 184.33h0.8M242.03 180.43h0.8M242.42 185.31h0.8M242.26 179.56h0.8M243.09 174.44h0.8M243.05 179.79h0.8M243.54 181.72h0.8M243.71 178.65h0.8M243.76 181.85h0.8M244.07 184.59h0.8M244.85 179.42h0.8M244.56 179.95h0.8M245.2 181.41h0.8M245.11 182.58h0.8M245.83 181.48h0.8M245.48 180.54h0.8M246.47 180.39h0.8M246.48 184.52h0.8M246.95 180.63h0.8M246.86 180.73h0.8M247.31 180.25h0.8M247.19 180.85h0.8M247.73 175.22h0.8M247.65 177.26h0.8M248.28 180.18h0.8M248.41 179.54h0.8M248.89 182.52h0.8M248.99 180.37h0.8M249.67 181.74h0.8M249.44 182.49h0.8M249.86 180.96h0.8M250.18 179.17h0.8M250.41 175.72h0.8M250.8 182.03h0.8M250.98 179.51h0.8M251.27 178.65h0.8M251.73 180.7h0.8M251.86 178h0.8M252.11 178.72h0.8M252.28 179.05h0.8M253.15 175.94h0.8M252.88 179.07h0.8M253.48 179.8h0.8M253.54 182.01h0.8M254.25 180.62h0.8M253.88 184.1h0.8M254.59 182.87h0.8M254.72 179.65h0.8M255.34 181.2h0.8M254.79 182.62h0.8M255.75 179.67h0.8M255.68 183.06h0.8M255.85 183.72h0.8M255.89 179.11h0.8M256.42 183.01h0.8M256.72 181.16h0.8M257.46 179.53h0.8M257.2 179.43h0.8M257.87 182.74h0.8M257.83 180.04h0.8M258.05 180.26h0.8M258.2 184.69h0.8M258.9 178.5h0.8M258.62 185.02h0.8M259.64 179.61h0.8M259.22 183.7h0.8M260.01 181.04h0.8M259.95 178.27h0.8M260.8 173.86h0.8M260.8 183.35h0.8M260.88 180.27h0.8M260.82 176.9h0.8M261.73 182.35h0.8M261.54 177.47h0.8M262.22 180.03h0.8M261.91 186h0.8M262.49 179.4h0.8M263.04 182.5h0.8M263 184.26h0.8M263.25 178.06h0.8M264.04 183.6h0.8M264.02 183.13h0.8M264.11 180.93h0.8M264.16 179.42h0.8M264.96 183.13h0.8M264.79 176.77h0.8M265.39 181.38h0.8M265.2 179.64h0.8M266.21 183.14h0.8M266.23 180.34h0.8M266.76 174.27h0.8M266.86 177.07h0.8M267.3 181.61h0.8M266.99 180.38h0.8M267.99 179.59h0.8M267.44 182.63h0.8M268.55 179.42h0.8M268.25 181.13h0.8M268.96 179.71h0.8M268.7 177.72h0.8M269.47 177.07h0.8M269.58 182.75h0.8M270.04 178.83h0.8M269.94 185.15h0.8M270.2 177.88h0.8M270.21 182.38h0.8M270.73 180.12h0.8M271.13 181.8h0.8M271.37 180.19h0.8M271.68 177.13h0.8M271.94 182.22h0.8M272.14 177.47h0.8M272.44 179.01h0.8M272.87 181.84h0.8M273 176.6h0.8M273.06 176.22h0.8M273.63 179.7h0.8M273.77 180.54h0.8M274.35 175h0.8M274.38 181.23h0.8M274.77 176.71h0.8M274.55 178.29h0.8M275.18 185.13h0.8M275.17 180.03h0.8M275.73 181.24h0.8M275.66 184.31h0.8M276.36 180.29h0.8M276.43 180.59h0.8M276.91 180.63h0.8M276.9 180.75h0.8M277.52 179.36h0.8M277.49 182.98h0.8M278.29 185.52h0.8M278.15 181.16h0.8M278.94 182.47h0.8M278.67 180.6h0.8M279.48 181.91h0.8M279.02 185.24h0.8M279.57 177.17h0.8M279.69 180.53h0.8M280.43 177.63h0.8M280.42 177.87h0.8M280.61 179.82h0.8M281.1 181.24h0.8M281.2 184.35h0.8M281.61 176.2h0.8M281.82 181.69h0.8M282.22 182.7h0.8M282.48 182.65h0.8M282.81 175.94h0.8M283.2 180.3h0.8M282.94 184.01h0.8M283.83 179.6h0.8M283.46 181.35h0.8M284.28 181.93h0.8M284.28 182.15h0.8M284.9 175.27h0.8M284.58 179.68h0.8M285.15 178.88h0.8M285.09 180.13h0.8M286.08 182.72h0.8M285.94 181.66h0.8M286.45 182.11h0.8M286.42 181.48h0.8M286.99 181.66h0.8M287.01 180.67h0.8M287.34 184.58h0.8M287.55 182.74h0.8M288.32 177.99h0.8M287.99 179.99h0.8M288.8 177.4h0.8M288.89 182.03h0.8M289.28 180.85h0.8M289.23 177.03h0.8M289.86 187.53h0.8M289.53 178.56h0.8M290.09 177.7h0.8M290.42 179.17h0.8M290.79 181.19h0.8M290.76 184.71h0.8M291.64 179.19h0.8M291.65 176.08h0.8M292 181.06h0.8M291.9 178.3h0.8M292.36 183.21h0.8M292.17 179.26h0.8M292.88 176.96h0.8M292.76 181.01h0.8M293.35 179.28h0.8M293.52 180.46h0.8M294.12 178.42h0.8M294.03 183.05h0.8M294.69 180.69h0.8M294.93 180.73h0.8M295.09 179.8h0.8M295.35 182.91h0.8M295.45 175.24h0.8M295.53 180.52h0.8M296.24 181.04h0.8M296.23 182.92h0.8M296.9 183.28h0.8M297.13 179.62h0.8M297.6 177.84h0.8M297.3 177.27h0.8M297.97 187.29h0.8M298 181.87h0.8" stroke="#ff5050" stroke-width="0.8" opacity="0.6" fill="none"/>
<path d="M50.5 135 L51.41 136.11 L52.63 137.57 L54.1 139.33 L55.72 141.37 L57.42 143.64 L59.1 146.1 L60.85 148.92 L62.74 152.17 L64.71 155.64 L66.67 159.17 L68.56 162.55 L70.3 165.6 L71.89 168.23 L73.4 170.57 L74.83 172.77 L76.2 174.97 L77.52 177.33 L78.8 180 L80.07 183.07 L81.32 186.44 L82.52 189.96 L83.64 193.5 L84.65 196.89 L85.5 200 L86.18 202.88 L86.71 205.67 L87.12 208.31 L87.45 210.78 L87.73 213.02 L88 215 L88.24 216.66 L88.4 218.04 L88.53 219.19 L88.62 220.19 L88.7 221.1 L88.8 222 L88.9 222.92 L88.98 223.81 L89.06 224.62 L89.13 225.3 L89.21 225.77 L89.3 226" fill="none" stroke="#ff2a2a" stroke-width="1" opacity="0.95"/>
<path d="M89.3 226 L89.4 225.97 L89.5 225.74 L89.6 225.31 L89.71 224.7 L89.85 223.93 L90 223 L90.18 221.87 L90.37 220.52 L90.59 219 L90.81 217.37 L91.05 215.69 L91.3 214 L91.56 212.26 L91.83 210.41 L92.11 208.5 L92.4 206.59 L92.69 204.74 L93 203 L93.31 201.34 L93.63 199.72 L93.95 198.16 L94.29 196.67 L94.63 195.27 L95 194 L95.39 192.85 L95.8 191.81 L96.22 190.87 L96.65 190.01 L97.08 189.23 L97.5 188.5 L97.9 187.85 L98.28 187.29 L98.66 186.8 L99.06 186.37 L99.5 185.97 L100 185.6 L100.57 185.26 L101.19 184.97 L101.84 184.71 L102.54 184.49 L103.26 184.29" fill="none" stroke="#ff2a2a" stroke-width="0.8" stroke-dasharray="0.9 0.9" opacity="0.75"/>
<path d="M50.5 141.7 L51.35 142.75 L52.5 144.13 L53.87 145.8 L55.38 147.72 L56.96 149.83 L58.53 152.09 L60.13 154.61 L61.85 157.44 L63.64 160.47 L65.44 163.57 L67.19 166.64 L68.85 169.54 L70.43 172.25 L71.98 174.86 L73.48 177.43 L74.93 180.02 L76.32 182.68 L77.62 185.47 L78.87 188.44 L80.07 191.56 L81.21 194.76 L82.26 197.96 L83.19 201.1 L84 204.1 L84.64 207.06 L85.14 210.03 L85.53 212.94 L85.84 215.71 L86.11 218.25 L86.36 220.47 L86.58 222.34 L86.74 223.92 L86.85 225.27 L86.94 226.45 L87.01 227.53 L87.1 228.56 L87.2 229.58 L87.27 230.54 L87.34 231.39 L87.41 232.09 L87.48 232.59 L87.58 232.84" fill="none" stroke="#ff2a2a" stroke-width="1" opacity="0.95"/>
<path d="M87.58 232.84 L87.68 232.84 L87.79 232.63 L87.91 232.22 L88.04 231.61 L88.19 230.82 L88.36 229.84 L88.55 228.62 L88.76 227.16 L88.99 225.51 L89.23 223.73 L89.48 221.88 L89.74 220.02 L90.01 218.08 L90.29 216.02 L90.57 213.88 L90.87 211.74 L91.18 209.64 L91.5 207.65 L91.82 205.73 L92.15 203.83 L92.49 201.98 L92.84 200.2 L93.2 198.54 L93.58 197.01 L93.98 195.62 L94.39 194.36 L94.82 193.2 L95.26 192.15 L95.7 191.17 L96.13 190.28 L96.55 189.48 L96.96 188.78 L97.37 188.18 L97.8 187.63 L98.26 187.14 L98.77 186.67 L99.33 186.23 L99.93 185.84 L100.57 185.5 L101.24 185.2 L101.92 184.93 L102.63 184.67 L103.05 184.46 L103.11 184.28 L103.2 184.13 L103.68 184.01" fill="none" stroke="#ff2a2a" stroke-width="0.8" stroke-dasharray="0.9 0.9" opacity="0.75"/>
<path d="M50.5 145.6 L51.31 146.61 L52.42 147.95 L53.73 149.57 L55.19 151.42 L56.7 153.43 L58.19 155.58 L59.71 157.91 L61.34 160.51 L63.02 163.27 L64.72 166.14 L66.4 169.02 L68.01 171.83 L69.58 174.59 L71.15 177.36 L72.7 180.14 L74.2 182.95 L75.62 185.78 L76.94 188.65 L78.17 191.57 L79.35 194.55 L80.45 197.55 L81.45 200.56 L82.35 203.54 L83.12 206.49 L83.74 209.49 L84.23 212.57 L84.6 215.64 L84.9 218.58 L85.16 221.29 L85.4 223.65 L85.62 225.65 L85.77 227.35 L85.88 228.81 L85.96 230.1 L86.03 231.27 L86.12 232.38 L86.2 233.46 L86.27 234.45 L86.34 235.33 L86.4 236.05 L86.48 236.56 L86.57 236.82 L86.68 236.83" fill="none" stroke="#ff2a2a" stroke-width="1" opacity="0.95"/>
<path d="M86.68 236.83 L86.8 236.64 L86.93 236.24 L87.07 235.63 L87.23 234.82 L87.4 233.82 L87.6 232.56 L87.82 231.03 L88.06 229.3 L88.31 227.43 L88.57 225.48 L88.83 223.52 L89.11 221.47 L89.39 219.28 L89.68 217.02 L89.99 214.73 L90.3 212.49 L90.62 210.36 L90.95 208.28 L91.29 206.22 L91.64 204.2 L91.99 202.26 L92.36 200.43 L92.75 198.76 L93.15 197.24 L93.57 195.84 L94.01 194.56 L94.45 193.39 L94.89 192.31 L95.34 191.31 L95.77 190.42 L96.19 189.65 L96.62 188.98 L97.06 188.37 L97.54 187.82 L98.05 187.29 L98.61 186.79 L99.21 186.35 L99.83 185.96 L100.48 185.61 L101.15 185.3 L101.84 185.01 L102.22 184.76 L102.23 184.56 L102.26 184.39 L102.7 184.25 L103.95 184.11" fill="none" stroke="#ff2a2a" stroke-width="0.8" stroke-dasharray="0.9 0.9" opacity="0.75"/>
<path d="M50.5 150 L51.27 150.97 L52.32 152.27 L53.58 153.82 L54.96 155.59 L56.4 157.5 L57.81 159.51 L59.24 161.65 L60.76 163.97 L62.32 166.44 L63.91 169.03 L65.5 171.7 L67.06 174.42 L68.62 177.23 L70.22 180.18 L71.82 183.2 L73.37 186.26 L74.83 189.29 L76.17 192.24 L77.39 195.11 L78.53 197.92 L79.58 200.7 L80.54 203.49 L81.39 206.31 L82.13 209.18 L82.73 212.23 L83.2 215.44 L83.56 218.68 L83.85 221.82 L84.09 224.72 L84.33 227.24 L84.53 229.37 L84.67 231.21 L84.78 232.81 L84.85 234.22 L84.92 235.5 L85 236.69 L85.09 237.83 L85.15 238.87 L85.21 239.78 L85.27 240.51 L85.35 241.03 L85.44 241.31 L85.56 241.34" fill="none" stroke="#ff2a2a" stroke-width="1" opacity="0.95"/>
<path d="M85.56 241.34 L85.68 241.16 L85.82 240.77 L85.97 240.17 L86.14 239.35 L86.33 238.31 L86.54 236.99 L86.76 235.39 L87.01 233.58 L87.27 231.61 L87.54 229.55 L87.81 227.47 L88.09 225.3 L88.38 222.97 L88.68 220.55 L88.99 218.11 L89.3 215.71 L89.63 213.41 L89.97 211.16 L90.32 208.92 L90.67 206.71 L91.04 204.58 L91.42 202.58 L91.82 200.73 L92.23 199.06 L92.65 197.52 L93.09 196.1 L93.53 194.79 L93.99 193.59 L94.44 192.48 L94.89 191.49 L95.33 190.63 L95.77 189.88 L96.24 189.21 L96.72 188.58 L97.24 187.99 L97.8 187.43 L98.38 186.93 L98.99 186.48 L99.62 186.08 L100.27 185.72 L100.94 185.39 L101.28 185.1 L101.23 184.87 L101.2 184.69 L101.59 184.52 L102.83 184.36" fill="none" stroke="#ff2a2a" stroke-width="0.8" stroke-dasharray="0.9 0.9" opacity="0.75"/>
<path d="M50.5 155.6 L51.22 156.52 L52.21 157.75 L53.39 159.23 L54.68 160.9 L56.02 162.68 L57.33 164.51 L58.65 166.4 L60.02 168.38 L61.43 170.47 L62.88 172.71 L64.36 175.12 L65.84 177.71 L67.39 180.59 L69.03 183.76 L70.69 187.1 L72.31 190.47 L73.83 193.75 L75.18 196.82 L76.39 199.6 L77.49 202.2 L78.48 204.71 L79.38 207.22 L80.18 209.82 L80.88 212.61 L81.45 215.72 L81.89 219.09 L82.23 222.55 L82.5 225.94 L82.73 229.09 L82.96 231.82 L83.15 234.12 L83.28 236.13 L83.38 237.9 L83.45 239.46 L83.51 240.87 L83.59 242.18 L83.66 243.4 L83.72 244.49 L83.77 245.44 L83.83 246.19 L83.9 246.73 L84 247.02 L84.12 247.07" fill="none" stroke="#ff2a2a" stroke-width="1" opacity="0.95"/>
<path d="M84.12 247.07 L84.26 246.92 L84.41 246.54 L84.57 245.94 L84.76 245.1 L84.96 244.02 L85.18 242.64 L85.42 240.95 L85.67 239.02 L85.94 236.93 L86.22 234.73 L86.51 232.5 L86.8 230.16 L87.09 227.66 L87.4 225.05 L87.71 222.41 L88.04 219.8 L88.38 217.29 L88.72 214.83 L89.08 212.35 L89.45 209.9 L89.83 207.53 L90.22 205.3 L90.63 203.25 L91.05 201.38 L91.48 199.65 L91.92 198.05 L92.37 196.57 L92.83 195.21 L93.3 193.97 L93.76 192.85 L94.23 191.88 L94.7 191.03 L95.18 190.27 L95.69 189.56 L96.22 188.88 L96.77 188.24 L97.34 187.66 L97.93 187.14 L98.54 186.67 L99.16 186.25 L99.8 185.87 L100.09 185.54 L99.96 185.28 L99.85 185.06 L100.19 184.87 L101.41 184.69 L103.96 184.49" fill="none" stroke="#ff2a2a" stroke-width="0.8" stroke-dasharray="0.9 0.9" opacity="0.75"/>
<path d="M50.5 159.5 L51.19 160.38 L52.13 161.57 L53.25 163 L54.48 164.59 L55.75 166.28 L57 168 L58.23 169.7 L59.5 171.44 L60.81 173.28 L62.17 175.28 L63.56 177.5 L65 180 L66.54 182.93 L68.2 186.26 L69.91 189.81 L71.57 193.41 L73.13 196.86 L74.5 200 L75.69 202.73 L76.76 205.19 L77.72 207.5 L78.57 209.81 L79.33 212.27 L80 215 L80.55 218.15 L80.98 221.63 L81.31 225.25 L81.57 228.81 L81.79 232.13 L82 235 L82.18 237.42 L82.31 239.56 L82.4 241.44 L82.47 243.11 L82.53 244.62 L82.6 246 L82.67 247.27 L82.73 248.41 L82.77 249.38 L82.83 250.15 L82.9 250.7 L83 251 L83.13 251.07" fill="none" stroke="#ff2a2a" stroke-width="1" opacity="0.95"/>
<path d="M83.13 251.07 L83.27 250.93 L83.42 250.56 L83.6 249.96 L83.79 249.11 L84 248 L84.23 246.57 L84.48 244.81 L84.74 242.81 L85.02 240.63 L85.31 238.34 L85.6 236 L85.89 233.55 L86.2 230.93 L86.51 228.19 L86.83 225.41 L87.16 222.66 L87.5 220 L87.86 217.38 L88.22 214.74 L88.6 212.12 L88.99 209.59 L89.39 207.2 L89.8 205 L90.22 202.99 L90.66 201.13 L91.11 199.41 L91.56 197.81 L92.03 196.35 L92.5 195 L92.98 193.8 L93.46 192.75 L93.95 191.83 L94.45 191 L94.97 190.24 L95.5 189.5 L96.05 188.8 L96.61 188.17 L97.19 187.6 L97.78 187.09 L98.38 186.62 L99 186.2 L99.26 185.84 L99.07 185.56 L98.91 185.32 L99.2 185.11 L100.42 184.91 L103 184.7" fill="none" stroke="#ff2a2a" stroke-width="0.8" stroke-dasharray="0.9 0.9" opacity="0.75"/>
<path d="M85.72 228.09h0.9M86.18 240.84h0.9M86.67 236.75h0.9M80.69 184.15h0.9M83.46 251.81h0.9M81.26 248.67h0.9M78 216.71h0.9M83.65 222.24h0.9M72.89 182.97h0.9M91.89 202.68h0.9M79.9 238.66h0.9M80.11 240.99h0.9M77.76 227.69h0.9M93.02 182.13h0.9M74.9 197.5h0.9M83.75 254.7h0.9M92.82 203.41h0.9M85.25 221.9h0.9M93.38 197.15h0.9M87.72 233.11h0.9M82.02 248.14h0.9M75.37 208.73h0.9M70.17 192.78h0.9M84.57 204.3h0.9M87.03 182.25h0.9M78.2 207h0.9M82.72 242.57h0.9M81.84 205.37h0.9M78.14 234.15h0.9M82.03 254.16h0.9M85.86 237.48h0.9M90.48 183.34h0.9M83.93 209.1h0.9M67.59 182.67h0.9M94.05 195.39h0.9M88.71 196.54h0.9M84.53 250.79h0.9M79.2 207.48h0.9M86.86 220.83h0.9M89.08 190h0.9M85.53 240.99h0.9M95.35 184.71h0.9M77.37 188.75h0.9M88.12 227.2h0.9M91.37 207.16h0.9M79.68 222.34h0.9M75.12 205.44h0.9M71.66 187.79h0.9M88.06 233h0.9M69.95 193.95h0.9M83.11 255.02h0.9M77.26 212.04h0.9M87.05 225.95h0.9M81.02 215.72h0.9M94.45 186.12h0.9M81.57 184.42h0.9M80.56 244.04h0.9M87.03 236.14h0.9M86.25 228.65h0.9M80.14 189.89h0.9M91.44 193.04h0.9M81.16 203.82h0.9M83.55 255.95h0.9M82.94 254.22h0.9M86.34 218.12h0.9M78.85 217.45h0.9M75.47 211.88h0.9M92.24 209.9h0.9M83.34 253.03h0.9M79.79 218.95h0.9M75.37 188.6h0.9M85.74 239.87h0.9M88.25 208.74h0.9M84.39 239.34h0.9M85.67 231.14h0.9M86.54 208.89h0.9M81.88 202.78h0.9M84.39 238.96h0.9M92.4 203.75h0.9M83.62 230.08h0.9M83.04 182.86h0.9M86.32 200.55h0.9M88.03 216.26h0.9M86.24 229.91h0.9M85.34 207.74h0.9M85.81 236.6h0.9M89.53 207.9h0.9M83.91 246.37h0.9M83.99 254.23h0.9M82.96 220.34h0.9M91.07 194.3h0.9M82.92 251.37h0.9M85.06 233.17h0.9M79.61 236.05h0.9M83.45 239.75h0.9M81.75 231.25h0.9M86.13 228.16h0.9M85.37 229.13h0.9M71.34 184.04h0.9M85.16 214.64h0.9M86.81 198.21h0.9M76.86 228.68h0.9M77.67 216.9h0.9M70.91 186.01h0.9M75.21 205.48h0.9M70.09 196.31h0.9M80.32 216.43h0.9M83.79 227.27h0.9M92.05 199.6h0.9M78.57 182.05h0.9M80.11 202.61h0.9M91.38 190.52h0.9M72.86 209.67h0.9M77.3 227.4h0.9M80.09 222.35h0.9M89.03 224.99h0.9M82.29 242.57h0.9M83.84 242.16h0.9M74.97 209.34h0.9M83.46 226.1h0.9M84.26 252.83h0.9M80.63 227.04h0.9M80.64 248.12h0.9M83.88 189.99h0.9M77.92 227.52h0.9M87.56 228.58h0.9M80.94 209.81h0.9M76.96 198.75h0.9M82.77 253.96h0.9M84.07 253.12h0.9M79.31 226.09h0.9M83.03 254.59h0.9M78.91 212.75h0.9M83.03 254.84h0.9M81.69 203.19h0.9M85.44 191.02h0.9M78.62 214.82h0.9M85.42 239.85h0.9M82.61 182.98h0.9M92.4 202.26h0.9M80.77 239.86h0.9M74.04 201.81h0.9M82.7 255.17h0.9M82.26 226.99h0.9M83.91 229.72h0.9M79.26 237.02h0.9M81.06 238.27h0.9M79.96 221.48h0.9M82.91 203.96h0.9M79.98 216.36h0.9M83.59 237.13h0.9M74.27 184.7h0.9M89.88 215.72h0.9M83.15 247.71h0.9M90.18 183.08h0.9M83.8 213.65h0.9M84.07 234.41h0.9M89.49 217.66h0.9M80.17 210.53h0.9M81.11 245.04h0.9M89.74 203.94h0.9M91.96 186.89h0.9M81.99 233.4h0.9M88.69 203.19h0.9M81.5 249.39h0.9M83.29 217.4h0.9M79.65 218.83h0.9M84.39 193.36h0.9M79.79 242.07h0.9M90.07 199.02h0.9" stroke="#ff4040" stroke-width="0.9" opacity="0.55" fill="none"/>
<rect x="99" y="181.0" width="154.5" height="3.4" fill="#ff3030" opacity="0.85"/>
<path d="M50.5 195.13 L51.3 192.93 L52.1 190.75 L52.9 188.6 L53.7 186.48 L54.5 184.39 L55.29 182.33 L56.09 180.29 L56.89 178.28 L57.69 176.29 L58.49 174.34 L59.29 172.41 L60.09 170.5 L60.89 168.62 L61.69 166.77 L62.49 164.94 L63.28 163.14 L64.08 161.36 L64.88 159.61 L65.68 157.88 L66.48 156.18 L67.28 154.5 L68.08 152.84 L68.88 151.21 L69.68 149.6 L70.48 148.01 L71.27 146.45 L72.07 144.91 L72.87 143.39 L73.67 141.89 L74.47 140.42 L75.27 138.97 L76.07 137.54 L76.87 136.13 L77.67 134.74 L78.47 133.37 L79.27 132.02 L80.06 130.69 L80.86 129.38 L81.66 128.09 L82.46 126.83 L83.26 125.58 L84.06 124.34 L84.86 123.13 L85.66 121.94 L86.46 120.76 L87.26 119.61 L88.05 118.47 L88.85 117.35 L89.65 116.24 L90.45 115.16 L91.25 114.09 L92.05 113.03 L92.85 112 L93.65 110.98 L94.45 109.97 L95.25 108.98 L96.04 108.01 L96.84 107.05 L97.64 106.11 L98.44 105.18 L99.24 104.26 L100.04 103.36 L100.84 102.48 L101.64 101.61 L102.44 100.75 L103.24 99.9 L104.04 99.07 L104.83 98.25 L105.63 97.44 L106.43 96.65 L107.23 95.87 L108.03 95.1 L108.83 94.34 L109.63 93.59 L110.43 92.86 L111.23 92.13 L112.03 91.42 L112.82 90.72 L113.62 90.02 L114.42 89.34 L115.22 88.67 L116.02 88 L116.82 87.35 L117.62 86.71 L118.42 86.07 L119.22 85.45 L120.02 84.83 L120.81 84.23 L121.61 83.63 L122.41 83.04 L123.21 82.46 L124.01 81.89 L124.81 81.33 L125.61 80.77 L126.41 80.22 L127.21 79.69 L128.01 79.16 L128.81 78.63 L129.6 78.12 L130.4 77.61 L131.2 77.11 L132 76.62 L132.8 76.13 L133.6 75.65 L134.4 75.18 L135.2 74.72 L136 74.26 L136.8 73.81 L137.59 73.36 L138.39 72.92 L139.19 72.49 L139.99 72.06 L140.79 71.64 L141.59 71.22 L142.39 70.81 L143.19 70.41 L143.99 70.01 L144.79 69.61 L145.58 69.23 L146.38 68.84 L147.18 68.46 L147.98 68.09 L148.78 67.72 L149.58 67.35 L150.38 66.99 L151.18 66.63 L151.98 66.28 L152.78 65.93 L153.58 65.58 L154.37 65.24 L155.17 64.9 L155.97 64.56 L156.77 64.23 L157.57 63.9 L158.37 63.57 L159.17 63.25 L159.97 62.93 L160.77 62.61 L161.57 62.29 L162.36 61.98 L163.16 61.67 L163.96 61.36 L164.76 61.05 L165.56 60.74 L166.36 60.44 L167.16 60.14 L167.96 59.83 L168.76 59.53 L169.56 59.23 L170.35 58.94 L171.15 58.64 L171.95 58.34 L172.75 58.04 L173.55 57.75 L174.35 57.45 L175.15 57.16 L175.95 56.86 L176.75 56.57 L177.55 56.27 L178.35 55.98 L179.14 55.68 L179.94 55.39 L180.74 55.09 L181.54 54.8 L182.34 54.5 L183.14 54.21 L183.94 53.92 L184.74 53.62 L185.54 53.33 L186.34 53.04 L187.13 52.75 L187.93 52.45 L188.73 52.16 L189.53 51.87 L190.33 51.58 L191.13 51.29 L191.93 51 L192.73 50.71 L193.53 50.42 L194.33 50.13 L195.12 49.84 L195.92 49.55 L196.72 49.26 L197.52 48.97 L198.32 48.69 L199.12 48.4 L199.92 48.11 L200.72 47.83 L201.52 47.54 L202.32 47.26 L203.12 46.97 L203.91 46.69 L204.71 46.41 L205.51 46.12 L206.31 45.84 L207.11 45.56 L207.91 45.28 L208.71 45 L209.51 44.72 L210.31 44.44 L211.11 44.16 L211.9 43.88 L212.7 43.61 L213.5 43.33 L214.3 43.05 L215.1 42.78 L215.9 42.5 L216.7 42.23 L217.5 41.96 L218.3 41.69 L219.1 41.42 L219.89 41.14 L220.69 40.87 L221.49 40.61 L222.29 40.34 L223.09 40.07 L223.89 39.8 L224.69 39.54 L225.49 39.27 L226.29 39.01 L227.09 38.75 L227.89 38.49 L228.68 38.22 L229.48 37.96 L230.28 37.71 L231.08 37.45 L231.88 37.19 L232.68 36.93 L233.48 36.68 L234.28 36.42 L235.08 36.17 L235.88 35.92 L236.67 35.67 L237.47 35.42 L238.27 35.17 L239.07 34.92 L239.87 34.67 L240.67 34.43 L241.47 34.18 L242.27 33.94 L243.07 33.7 L243.87 33.46 L244.66 33.22 L245.46 32.98 L246.26 32.74 L247.06 32.5 L247.86 32.27 L248.66 32.03 L249.46 31.8 L250.26 31.57 L251.06 31.34 L251.86 31.11 L252.66 30.88 L253.45 30.65 L254.25 30.43 L255.05 30.21 L255.85 29.98 L256.65 29.76 L257.45 29.54 L258.25 29.32 L259.05 29.11 L259.85 28.89 L260.65 28.68 L261.44 28.46 L262.24 28.25 L263.04 28.04 L263.84 27.83 L264.64 27.63 L265.44 27.42 L266.24 27.22 L267.04 27.02 L267.84 26.81 L268.64 26.61 L269.43 26.42 L270.23 26.22 L271.03 26.03 L271.83 25.83 L272.63 25.64 L273.43 25.45 L274.23 25.26 L275.03 25.08 L275.83 24.89 L276.63 24.71 L277.43 24.52 L278.22 24.34 L279.02 24.17 L279.82 23.99 L280.62 23.81 L281.42 23.64 L282.22 23.47 L283.02 23.3 L283.82 23.13 L284.62 22.97 L285.42 22.8 L286.21 22.64 L287.01 22.48 L287.81 22.32 L288.61 22.16 L289.41 22.01 L290.21 21.85 L291.01 21.7 L291.81 21.55 L292.61 21.4 L293.41 21.26 L294.2 21.11 L295 20.97 L295.8 20.83 L296.6 20.69 L297.4 20.56 L298.2 20.42" fill="none" stroke="#0a0ad2" stroke-width="1.2" />
<path d="M50.5 205.27 L51.3 203.21 L52.1 201.18 L52.9 199.19 L53.7 197.23 L54.5 195.3 L55.29 193.41 L56.09 191.54 L56.89 189.71 L57.69 187.92 L58.49 186.15 L59.29 184.41 L60.09 182.7 L60.89 181.03 L61.69 179.38 L62.49 177.76 L63.28 176.17 L64.08 174.61 L64.88 173.08 L65.68 171.58 L66.48 170.1 L67.28 168.65 L68.08 167.23 L68.88 165.83 L69.68 164.46 L70.48 163.12 L71.27 161.8 L72.07 160.51 L72.87 159.24 L73.67 158 L74.47 156.78 L75.27 155.58 L76.07 154.41 L76.87 153.26 L77.67 152.13 L78.47 151.02 L79.27 149.94 L80.06 148.88 L80.86 147.84 L81.66 146.82 L82.46 145.82 L83.26 144.84 L84.06 143.88 L84.86 142.94 L85.66 142.01 L86.46 141.11 L87.26 140.23 L88.05 139.36 L88.85 138.51 L89.65 137.68 L90.45 136.87 L91.25 136.07 L92.05 135.29 L92.85 134.52 L93.65 133.77 L94.45 133.03 L95.25 132.31 L96.04 131.61 L96.84 130.91 L97.64 130.23 L98.44 129.57 L99.24 128.92 L100.04 128.28 L100.84 127.65 L101.64 127.04 L102.44 126.43 L103.24 125.84 L104.04 125.26 L104.83 124.69 L105.63 124.12 L106.43 123.57 L107.23 123.03 L108.03 122.5 L108.83 121.97 L109.63 121.46 L110.43 120.95 L111.23 120.45 L112.03 119.96 L112.82 119.47 L113.62 118.99 L114.42 118.52 L115.22 118.05 L116.02 117.59 L116.82 117.14 L117.62 116.69 L118.42 116.25 L119.22 115.82 L120.02 115.39 L120.81 114.97 L121.61 114.55 L122.41 114.14 L123.21 113.73 L124.01 113.33 L124.81 112.94 L125.61 112.55 L126.41 112.16 L127.21 111.78 L128.01 111.41 L128.81 111.04 L129.6 110.68 L130.4 110.32 L131.2 109.96 L132 109.61 L132.8 109.27 L133.6 108.93 L134.4 108.59 L135.2 108.26 L136 107.93 L136.8 107.61 L137.59 107.29 L138.39 106.98 L139.19 106.67 L139.99 106.36 L140.79 106.05 L141.59 105.75 L142.39 105.46 L143.19 105.17 L143.99 104.88 L144.79 104.59 L145.58 104.31 L146.38 104.03 L147.18 103.75 L147.98 103.48 L148.78 103.21 L149.58 102.94 L150.38 102.67 L151.18 102.41 L151.98 102.15 L152.78 101.89 L153.58 101.64 L154.37 101.39 L155.17 101.14 L155.97 100.89 L156.77 100.64 L157.57 100.4 L158.37 100.15 L159.17 99.91 L159.97 99.67 L160.77 99.44 L161.57 99.2 L162.36 98.97 L163.16 98.73 L163.96 98.5 L164.76 98.27 L165.56 98.04 L166.36 97.81 L167.16 97.58 L167.96 97.36 L168.76 97.13 L169.56 96.91 L170.35 96.68 L171.15 96.46 L171.95 96.23 L172.75 96.01 L173.55 95.79 L174.35 95.56 L175.15 95.34 L175.95 95.12 L176.75 94.89 L177.55 94.67 L178.35 94.45 L179.14 94.23 L179.94 94 L180.74 93.78 L181.54 93.56 L182.34 93.34 L183.14 93.11 L183.94 92.89 L184.74 92.67 L185.54 92.45 L186.34 92.23 L187.13 92.01 L187.93 91.79 L188.73 91.56 L189.53 91.34 L190.33 91.12 L191.13 90.9 L191.93 90.68 L192.73 90.46 L193.53 90.24 L194.33 90.02 L195.12 89.81 L195.92 89.59 L196.72 89.37 L197.52 89.15 L198.32 88.93 L199.12 88.72 L199.92 88.5 L200.72 88.28 L201.52 88.07 L202.32 87.85 L203.12 87.63 L203.91 87.42 L204.71 87.2 L205.51 86.99 L206.31 86.78 L207.11 86.56 L207.91 86.35 L208.71 86.14 L209.51 85.93 L210.31 85.71 L211.11 85.5 L211.9 85.29 L212.7 85.08 L213.5 84.87 L214.3 84.66 L215.1 84.45 L215.9 84.25 L216.7 84.04 L217.5 83.83 L218.3 83.63 L219.1 83.42 L219.89 83.22 L220.69 83.01 L221.49 82.81 L222.29 82.6 L223.09 82.4 L223.89 82.2 L224.69 82 L225.49 81.8 L226.29 81.6 L227.09 81.4 L227.89 81.2 L228.68 81 L229.48 80.81 L230.28 80.61 L231.08 80.41 L231.88 80.22 L232.68 80.02 L233.48 79.83 L234.28 79.64 L235.08 79.45 L235.88 79.26 L236.67 79.07 L237.47 78.88 L238.27 78.69 L239.07 78.5 L239.87 78.31 L240.67 78.13 L241.47 77.94 L242.27 77.76 L243.07 77.57 L243.87 77.39 L244.66 77.21 L245.46 77.03 L246.26 76.85 L247.06 76.67 L247.86 76.49 L248.66 76.32 L249.46 76.14 L250.26 75.97 L251.06 75.79 L251.86 75.62 L252.66 75.45 L253.45 75.28 L254.25 75.11 L255.05 74.94 L255.85 74.77 L256.65 74.61 L257.45 74.44 L258.25 74.28 L259.05 74.11 L259.85 73.95 L260.65 73.79 L261.44 73.63 L262.24 73.47 L263.04 73.31 L263.84 73.16 L264.64 73 L265.44 72.85 L266.24 72.69 L267.04 72.54 L267.84 72.39 L268.64 72.24 L269.43 72.09 L270.23 71.95 L271.03 71.8 L271.83 71.66 L272.63 71.51 L273.43 71.37 L274.23 71.23 L275.03 71.09 L275.83 70.95 L276.63 70.82 L277.43 70.68 L278.22 70.55 L279.02 70.41 L279.82 70.28 L280.62 70.15 L281.42 70.02 L282.22 69.9 L283.02 69.77 L283.82 69.65 L284.62 69.52 L285.42 69.4 L286.21 69.28 L287.01 69.16 L287.81 69.05 L288.61 68.93 L289.41 68.82 L290.21 68.71 L291.01 68.59 L291.81 68.48 L292.61 68.38 L293.41 68.27 L294.2 68.16 L295 68.06 L295.8 67.96 L296.6 67.86 L297.4 67.76 L298.2 67.66" fill="none" stroke="#0a0ad2" stroke-width="1.2" />
<path d="M50.5 210.03 L51.3 208.51 L52.1 207.01 L52.9 205.55 L53.7 204.1 L54.5 202.69 L55.29 201.3 L56.09 199.93 L56.89 198.59 L57.69 197.28 L58.49 195.99 L59.29 194.72 L60.09 193.48 L60.89 192.26 L61.69 191.07 L62.49 189.9 L63.28 188.75 L64.08 187.63 L64.88 186.52 L65.68 185.44 L66.48 184.38 L67.28 183.35 L68.08 182.33 L68.88 181.34 L69.68 180.36 L70.48 179.41 L71.27 178.48 L72.07 177.57 L72.87 176.67 L73.67 175.8 L74.47 174.95 L75.27 174.11 L76.07 173.29 L76.87 172.49 L77.67 171.71 L78.47 170.95 L79.27 170.21 L80.06 169.48 L80.86 168.77 L81.66 168.07 L82.46 167.4 L83.26 166.73 L84.06 166.09 L84.86 165.46 L85.66 164.84 L86.46 164.24 L87.26 163.66 L88.05 163.09 L88.85 162.53 L89.65 161.98 L90.45 161.45 L91.25 160.93 L92.05 160.43 L92.85 159.93 L93.65 159.45 L94.45 158.98 L95.25 158.52 L96.04 158.07 L96.84 157.63 L97.64 157.2 L98.44 156.79 L99.24 156.38 L100.04 155.98 L100.84 155.58 L101.64 155.2 L102.44 154.83 L103.24 154.46 L104.04 154.1 L104.83 153.75 L105.63 153.4 L106.43 153.06 L107.23 152.73 L108.03 152.4 L108.83 152.08 L109.63 151.77 L110.43 151.45 L111.23 151.15 L112.03 150.84 L112.82 150.54 L113.62 150.25 L114.42 149.95 L115.22 149.67 L116.02 149.38 L116.82 149.1 L117.62 148.82 L118.42 148.54 L119.22 148.27 L120.02 148 L120.81 147.73 L121.61 147.47 L122.41 147.21 L123.21 146.95 L124.01 146.7 L124.81 146.45 L125.61 146.2 L126.41 145.95 L127.21 145.71 L128.01 145.47 L128.81 145.23 L129.6 145 L130.4 144.76 L131.2 144.53 L132 144.31 L132.8 144.08 L133.6 143.86 L134.4 143.64 L135.2 143.42 L136 143.21 L136.8 142.99 L137.59 142.78 L138.39 142.57 L139.19 142.36 L139.99 142.16 L140.79 141.96 L141.59 141.76 L142.39 141.56 L143.19 141.36 L143.99 141.17 L144.79 140.97 L145.58 140.78 L146.38 140.59 L147.18 140.4 L147.98 140.22 L148.78 140.03 L149.58 139.85 L150.38 139.67 L151.18 139.48 L151.98 139.31 L152.78 139.13 L153.58 138.95 L154.37 138.78 L155.17 138.6 L155.97 138.43 L156.77 138.26 L157.57 138.09 L158.37 137.92 L159.17 137.75 L159.97 137.58 L160.77 137.42 L161.57 137.25 L162.36 137.08 L163.16 136.92 L163.96 136.76 L164.76 136.59 L165.56 136.43 L166.36 136.27 L167.16 136.11 L167.96 135.95 L168.76 135.79 L169.56 135.63 L170.35 135.47 L171.15 135.31 L171.95 135.16 L172.75 135 L173.55 134.84 L174.35 134.68 L175.15 134.52 L175.95 134.37 L176.75 134.21 L177.55 134.05 L178.35 133.89 L179.14 133.74 L179.94 133.58 L180.74 133.42 L181.54 133.27 L182.34 133.11 L183.14 132.96 L183.94 132.8 L184.74 132.64 L185.54 132.49 L186.34 132.33 L187.13 132.18 L187.93 132.02 L188.73 131.87 L189.53 131.71 L190.33 131.56 L191.13 131.4 L191.93 131.25 L192.73 131.1 L193.53 130.94 L194.33 130.79 L195.12 130.63 L195.92 130.48 L196.72 130.33 L197.52 130.18 L198.32 130.02 L199.12 129.87 L199.92 129.72 L200.72 129.57 L201.52 129.42 L202.32 129.27 L203.12 129.12 L203.91 128.97 L204.71 128.82 L205.51 128.67 L206.31 128.52 L207.11 128.37 L207.91 128.22 L208.71 128.07 L209.51 127.92 L210.31 127.78 L211.11 127.63 L211.9 127.48 L212.7 127.33 L213.5 127.19 L214.3 127.04 L215.1 126.9 L215.9 126.75 L216.7 126.61 L217.5 126.46 L218.3 126.32 L219.1 126.17 L219.89 126.03 L220.69 125.89 L221.49 125.75 L222.29 125.6 L223.09 125.46 L223.89 125.32 L224.69 125.18 L225.49 125.04 L226.29 124.9 L227.09 124.76 L227.89 124.62 L228.68 124.48 L229.48 124.35 L230.28 124.21 L231.08 124.07 L231.88 123.93 L232.68 123.8 L233.48 123.66 L234.28 123.53 L235.08 123.39 L235.88 123.26 L236.67 123.12 L237.47 122.99 L238.27 122.86 L239.07 122.73 L239.87 122.6 L240.67 122.46 L241.47 122.33 L242.27 122.2 L243.07 122.07 L243.87 121.95 L244.66 121.82 L245.46 121.69 L246.26 121.56 L247.06 121.44 L247.86 121.31 L248.66 121.18 L249.46 121.06 L250.26 120.94 L251.06 120.81 L251.86 120.69 L252.66 120.57 L253.45 120.45 L254.25 120.32 L255.05 120.2 L255.85 120.08 L256.65 119.97 L257.45 119.85 L258.25 119.73 L259.05 119.61 L259.85 119.5 L260.65 119.38 L261.44 119.26 L262.24 119.15 L263.04 119.04 L263.84 118.92 L264.64 118.81 L265.44 118.7 L266.24 118.59 L267.04 118.48 L267.84 118.37 L268.64 118.26 L269.43 118.15 L270.23 118.04 L271.03 117.94 L271.83 117.83 L272.63 117.73 L273.43 117.62 L274.23 117.52 L275.03 117.41 L275.83 117.31 L276.63 117.21 L277.43 117.11 L278.22 117.01 L279.02 116.91 L279.82 116.81 L280.62 116.72 L281.42 116.62 L282.22 116.52 L283.02 116.43 L283.82 116.33 L284.62 116.24 L285.42 116.15 L286.21 116.06 L287.01 115.97 L287.81 115.88 L288.61 115.79 L289.41 115.7 L290.21 115.61 L291.01 115.53 L291.81 115.44 L292.61 115.36 L293.41 115.27 L294.2 115.19 L295 115.11 L295.8 115.03 L296.6 114.95 L297.4 114.87 L298.2 114.79" fill="none" stroke="#0a0ad2" stroke-width="1.2" />
<path d="M50.5 213.74 L51.3 212.64 L52.1 211.57 L52.9 210.51 L53.7 209.47 L54.5 208.46 L55.29 207.46 L56.09 206.48 L56.89 205.52 L57.69 204.58 L58.49 203.65 L59.29 202.75 L60.09 201.86 L60.89 200.99 L61.69 200.14 L62.49 199.3 L63.28 198.48 L64.08 197.68 L64.88 196.9 L65.68 196.13 L66.48 195.38 L67.28 194.64 L68.08 193.92 L68.88 193.21 L69.68 192.52 L70.48 191.85 L71.27 191.19 L72.07 190.54 L72.87 189.91 L73.67 189.29 L74.47 188.69 L75.27 188.1 L76.07 187.52 L76.87 186.96 L77.67 186.41 L78.47 185.87 L79.27 185.34 L80.06 184.83 L80.86 184.33 L81.66 183.84 L82.46 183.36 L83.26 182.9 L84.06 182.44 L84.86 182 L85.66 181.56 L86.46 181.14 L87.26 180.73 L88.05 180.33 L88.85 179.93 L89.65 179.55 L90.45 179.18 L91.25 178.81 L92.05 178.46 L92.85 178.11 L93.65 177.77 L94.45 177.44 L95.25 177.12 L96.04 176.81 L96.84 176.5 L97.64 176.2 L98.44 175.91 L99.24 175.63 L100.04 175.35 L100.84 175.08 L101.64 174.81 L102.44 174.55 L103.24 174.3 L104.04 174.05 L104.83 173.81 L105.63 173.57 L106.43 173.34 L107.23 173.11 L108.03 172.89 L108.83 172.67 L109.63 172.45 L110.43 172.24 L111.23 172.03 L112.03 171.83 L112.82 171.63 L113.62 171.43 L114.42 171.23 L115.22 171.04 L116.02 170.85 L116.82 170.66 L117.62 170.48 L118.42 170.3 L119.22 170.12 L120.02 169.94 L120.81 169.77 L121.61 169.6 L122.41 169.43 L123.21 169.26 L124.01 169.1 L124.81 168.94 L125.61 168.78 L126.41 168.62 L127.21 168.47 L128.01 168.31 L128.81 168.16 L129.6 168.01 L130.4 167.87 L131.2 167.72 L132 167.58 L132.8 167.44 L133.6 167.3 L134.4 167.16 L135.2 167.03 L136 166.89 L136.8 166.76 L137.59 166.63 L138.39 166.5 L139.19 166.37 L139.99 166.25 L140.79 166.12 L141.59 166 L142.39 165.88 L143.19 165.76 L143.99 165.64 L144.79 165.52 L145.58 165.41 L146.38 165.29 L147.18 165.18 L147.98 165.06 L148.78 164.95 L149.58 164.84 L150.38 164.73 L151.18 164.62 L151.98 164.51 L152.78 164.4 L153.58 164.29 L154.37 164.19 L155.17 164.08 L155.97 163.98 L156.77 163.87 L157.57 163.77 L158.37 163.66 L159.17 163.56 L159.97 163.46 L160.77 163.35 L161.57 163.25 L162.36 163.15 L163.16 163.05 L163.96 162.94 L164.76 162.84 L165.56 162.74 L166.36 162.64 L167.16 162.54 L167.96 162.44 L168.76 162.33 L169.56 162.23 L170.35 162.13 L171.15 162.03 L171.95 161.92 L172.75 161.82 L173.55 161.72 L174.35 161.61 L175.15 161.51 L175.95 161.4 L176.75 161.3 L177.55 161.19 L178.35 161.09 L179.14 160.98 L179.94 160.87 L180.74 160.77 L181.54 160.66 L182.34 160.55 L183.14 160.44 L183.94 160.33 L184.74 160.22 L185.54 160.11 L186.34 160 L187.13 159.89 L187.93 159.78 L188.73 159.67 L189.53 159.56 L190.33 159.45 L191.13 159.34 L191.93 159.22 L192.73 159.11 L193.53 159 L194.33 158.89 L195.12 158.77 L195.92 158.66 L196.72 158.55 L197.52 158.43 L198.32 158.32 L199.12 158.21 L199.92 158.09 L200.72 157.98 L201.52 157.87 L202.32 157.75 L203.12 157.64 L203.91 157.52 L204.71 157.41 L205.51 157.29 L206.31 157.18 L207.11 157.07 L207.91 156.95 L208.71 156.84 L209.51 156.72 L210.31 156.61 L211.11 156.49 L211.9 156.38 L212.7 156.27 L213.5 156.15 L214.3 156.04 L215.1 155.92 L215.9 155.81 L216.7 155.7 L217.5 155.58 L218.3 155.47 L219.1 155.36 L219.89 155.24 L220.69 155.13 L221.49 155.02 L222.29 154.9 L223.09 154.79 L223.89 154.68 L224.69 154.57 L225.49 154.46 L226.29 154.35 L227.09 154.23 L227.89 154.12 L228.68 154.01 L229.48 153.9 L230.28 153.79 L231.08 153.68 L231.88 153.57 L232.68 153.47 L233.48 153.36 L234.28 153.25 L235.08 153.14 L235.88 153.03 L236.67 152.93 L237.47 152.82 L238.27 152.72 L239.07 152.61 L239.87 152.51 L240.67 152.4 L241.47 152.3 L242.27 152.19 L243.07 152.09 L243.87 151.99 L244.66 151.89 L245.46 151.78 L246.26 151.68 L247.06 151.58 L247.86 151.48 L248.66 151.38 L249.46 151.29 L250.26 151.19 L251.06 151.09 L251.86 150.99 L252.66 150.9 L253.45 150.8 L254.25 150.71 L255.05 150.61 L255.85 150.52 L256.65 150.43 L257.45 150.34 L258.25 150.25 L259.05 150.16 L259.85 150.07 L260.65 149.98 L261.44 149.89 L262.24 149.8 L263.04 149.72 L263.84 149.63 L264.64 149.55 L265.44 149.46 L266.24 149.38 L267.04 149.3 L267.84 149.22 L268.64 149.13 L269.43 149.06 L270.23 148.98 L271.03 148.9 L271.83 148.82 L272.63 148.75 L273.43 148.67 L274.23 148.6 L275.03 148.53 L275.83 148.45 L276.63 148.38 L277.43 148.31 L278.22 148.24 L279.02 148.18 L279.82 148.11 L280.62 148.04 L281.42 147.98 L282.22 147.92 L283.02 147.85 L283.82 147.79 L284.62 147.73 L285.42 147.67 L286.21 147.62 L287.01 147.56 L287.81 147.5 L288.61 147.45 L289.41 147.4 L290.21 147.34 L291.01 147.29 L291.81 147.24 L292.61 147.2 L293.41 147.15 L294.2 147.1 L295 147.06 L295.8 147.02 L296.6 146.97 L297.4 146.93 L298.2 146.9" fill="none" stroke="#0a0ad2" stroke-width="1.2" />
<path d="M50.5 220.36 L51.3 219.47 L52.1 218.6 L52.9 217.76 L53.7 216.93 L54.5 216.12 L55.29 215.34 L56.09 214.57 L56.89 213.83 L57.69 213.1 L58.49 212.4 L59.29 211.71 L60.09 211.04 L60.89 210.39 L61.69 209.76 L62.49 209.15 L63.28 208.55 L64.08 207.98 L64.88 207.42 L65.68 206.87 L66.48 206.34 L67.28 205.83 L68.08 205.34 L68.88 204.86 L69.68 204.39 L70.48 203.94 L71.27 203.51 L72.07 203.09 L72.87 202.68 L73.67 202.29 L74.47 201.91 L75.27 201.55 L76.07 201.19 L76.87 200.85 L77.67 200.53 L78.47 200.21 L79.27 199.91 L80.06 199.62 L80.86 199.34 L81.66 199.07 L82.46 198.81 L83.26 198.56 L84.06 198.33 L84.86 198.1 L85.66 197.88 L86.46 197.67 L87.26 197.47 L88.05 197.28 L88.85 197.1 L89.65 196.92 L90.45 196.76 L91.25 196.6 L92.05 196.44 L92.85 196.3 L93.65 196.16 L94.45 196.03 L95.25 195.9 L96.04 195.78 L96.84 195.67 L97.64 195.56 L98.44 195.45 L99.24 195.35 L100.04 195.26 L100.84 195.17 L101.64 195.08 L102.44 194.99 L103.24 194.91 L104.04 194.83 L104.83 194.76 L105.63 194.68 L106.43 194.61 L107.23 194.54 L108.03 194.48 L108.83 194.41 L109.63 194.34 L110.43 194.28 L111.23 194.21 L112.03 194.15 L112.82 194.08 L113.62 194.01 L114.42 193.95 L115.22 193.88 L116.02 193.81 L116.82 193.75 L117.62 193.68 L118.42 193.61 L119.22 193.54 L120.02 193.47 L120.81 193.4 L121.61 193.33 L122.41 193.26 L123.21 193.19 L124.01 193.11 L124.81 193.04 L125.61 192.97 L126.41 192.9 L127.21 192.82 L128.01 192.75 L128.81 192.68 L129.6 192.6 L130.4 192.53 L131.2 192.45 L132 192.38 L132.8 192.3 L133.6 192.22 L134.4 192.15 L135.2 192.07 L136 191.99 L136.8 191.92 L137.59 191.84 L138.39 191.76 L139.19 191.68 L139.99 191.6 L140.79 191.52 L141.59 191.45 L142.39 191.37 L143.19 191.29 L143.99 191.21 L144.79 191.13 L145.58 191.05 L146.38 190.97 L147.18 190.89 L147.98 190.81 L148.78 190.72 L149.58 190.64 L150.38 190.56 L151.18 190.48 L151.98 190.4 L152.78 190.32 L153.58 190.24 L154.37 190.15 L155.17 190.07 L155.97 189.99 L156.77 189.91 L157.57 189.82 L158.37 189.74 L159.17 189.66 L159.97 189.58 L160.77 189.49 L161.57 189.41 L162.36 189.33 L163.16 189.24 L163.96 189.16 L164.76 189.08 L165.56 189 L166.36 188.91 L167.16 188.83 L167.96 188.75 L168.76 188.66 L169.56 188.58 L170.35 188.5 L171.15 188.41 L171.95 188.33 L172.75 188.25 L173.55 188.17 L174.35 188.08 L175.15 188 L175.95 187.92 L176.75 187.83 L177.55 187.75 L178.35 187.67 L179.14 187.59 L179.94 187.5 L180.74 187.42 L181.54 187.34 L182.34 187.26 L183.14 187.17 L183.94 187.09 L184.74 187.01 L185.54 186.93 L186.34 186.85 L187.13 186.77 L187.93 186.68 L188.73 186.6 L189.53 186.52 L190.33 186.44 L191.13 186.36 L191.93 186.28 L192.73 186.2 L193.53 186.12 L194.33 186.04 L195.12 185.96 L195.92 185.88 L196.72 185.8 L197.52 185.72 L198.32 185.64 L199.12 185.56 L199.92 185.48 L200.72 185.4 L201.52 185.32 L202.32 185.24 L203.12 185.17 L203.91 185.09 L204.71 185.01 L205.51 184.93 L206.31 184.86 L207.11 184.78 L207.91 184.7 L208.71 184.62 L209.51 184.55 L210.31 184.47 L211.11 184.39 L211.9 184.32 L212.7 184.24 L213.5 184.17 L214.3 184.09 L215.1 184.02 L215.9 183.94 L216.7 183.87 L217.5 183.79 L218.3 183.72 L219.1 183.65 L219.89 183.57 L220.69 183.5 L221.49 183.43 L222.29 183.36 L223.09 183.28 L223.89 183.21 L224.69 183.14 L225.49 183.07 L226.29 183 L227.09 182.93 L227.89 182.86 L228.68 182.79 L229.48 182.72 L230.28 182.65 L231.08 182.58 L231.88 182.51 L232.68 182.44 L233.48 182.37 L234.28 182.31 L235.08 182.24 L235.88 182.17 L236.67 182.11 L237.47 182.04 L238.27 181.97 L239.07 181.91 L239.87 181.84 L240.67 181.78 L241.47 181.71 L242.27 181.65 L243.07 181.59 L243.87 181.52 L244.66 181.46 L245.46 181.4 L246.26 181.34 L247.06 181.27 L247.86 181.21 L248.66 181.15 L249.46 181.09 L250.26 181.03 L251.06 180.97 L251.86 180.91 L252.66 180.86 L253.45 180.8 L254.25 180.74 L255.05 180.68 L255.85 180.63 L256.65 180.57 L257.45 180.51 L258.25 180.46 L259.05 180.4 L259.85 180.35 L260.65 180.3 L261.44 180.24 L262.24 180.19 L263.04 180.14 L263.84 180.08 L264.64 180.03 L265.44 179.98 L266.24 179.93 L267.04 179.88 L267.84 179.83 L268.64 179.78 L269.43 179.74 L270.23 179.69 L271.03 179.64 L271.83 179.59 L272.63 179.55 L273.43 179.5 L274.23 179.46 L275.03 179.41 L275.83 179.37 L276.63 179.32 L277.43 179.28 L278.22 179.24 L279.02 179.2 L279.82 179.16 L280.62 179.11 L281.42 179.07 L282.22 179.03 L283.02 179 L283.82 178.96 L284.62 178.92 L285.42 178.88 L286.21 178.85 L287.01 178.81 L287.81 178.77 L288.61 178.74 L289.41 178.71 L290.21 178.67 L291.01 178.64 L291.81 178.61 L292.61 178.58 L293.41 178.55 L294.2 178.51 L295 178.49 L295.8 178.46 L296.6 178.43 L297.4 178.4 L298.2 178.37" fill="none" stroke="#0a0ad2" stroke-width="1.2" />
<path d="M50.5 226.4 L51.3 225.8 L52.1 225.22 L52.9 224.65 L53.7 224.1 L54.5 223.57 L55.29 223.06 L56.09 222.57 L56.89 222.1 L57.69 221.66 L58.49 221.25 L59.29 220.85 L60.09 220.47 L60.89 220.1 L61.69 219.75 L62.49 219.41 L63.28 219.08 L64.08 218.76 L64.88 218.45 L65.68 218.14 L66.48 217.83 L67.28 217.53 L68.08 217.23 L68.88 216.93 L69.68 216.64 L70.48 216.36 L71.27 216.1 L72.07 215.85 L72.87 215.63 L73.67 215.42 L74.47 215.21 L75.27 214.99 L76.07 214.79 L76.87 214.62 L77.67 214.49 L78.47 214.42 L79.27 214.4 L80.06 214.41 L80.86 214.44 L81.66 214.47 L82.46 214.52 L83.26 214.57 L84.06 214.63 L84.86 214.71 L85.66 214.79 L86.46 214.91 L87.26 215.14 L88.05 215.44 L88.85 215.78 L89.65 216.12 L90.45 216.43 L91.25 216.67 L92.05 216.91 L92.85 217.16 L93.65 217.4 L94.45 217.63 L95.25 217.83 L96.04 217.98 L96.84 218.07 L97.64 218.1 L98.44 218.1 L99.24 218.09 L100.04 218.08 L100.84 218.07 L101.64 218.06 L102.44 218.04 L103.24 218.02 L104.04 218 L104.83 217.97 L105.63 217.95 L106.43 217.92 L107.23 217.89 L108.03 217.86 L108.83 217.83 L109.63 217.8 L110.43 217.77 L111.23 217.74 L112.03 217.71 L112.82 217.68 L113.62 217.65 L114.42 217.62 L115.22 217.59 L116.02 217.56 L116.82 217.53 L117.62 217.5 L118.42 217.47 L119.22 217.44 L120.02 217.4 L120.81 217.37 L121.61 217.33 L122.41 217.3 L123.21 217.26 L124.01 217.22 L124.81 217.19 L125.61 217.15 L126.41 217.11 L127.21 217.07 L128.01 217.03 L128.81 216.99 L129.6 216.94 L130.4 216.9 L131.2 216.86 L132 216.82 L132.8 216.77 L133.6 216.73 L134.4 216.68 L135.2 216.64 L136 216.6 L136.8 216.55 L137.59 216.51 L138.39 216.46 L139.19 216.42 L139.99 216.37 L140.79 216.33 L141.59 216.28 L142.39 216.23 L143.19 216.19 L143.99 216.14 L144.79 216.1 L145.58 216.05 L146.38 216.01 L147.18 215.96 L147.98 215.92 L148.78 215.88 L149.58 215.83 L150.38 215.79 L151.18 215.74 L151.98 215.7 L152.78 215.66 L153.58 215.62 L154.37 215.58 L155.17 215.53 L155.97 215.49 L156.77 215.45 L157.57 215.42 L158.37 215.38 L159.17 215.34 L159.97 215.3 L160.77 215.26 L161.57 215.23 L162.36 215.19 L163.16 215.15 L163.96 215.12 L164.76 215.08 L165.56 215.04 L166.36 215.01 L167.16 214.97 L167.96 214.93 L168.76 214.9 L169.56 214.86 L170.35 214.83 L171.15 214.79 L171.95 214.75 L172.75 214.72 L173.55 214.68 L174.35 214.64 L175.15 214.61 L175.95 214.57 L176.75 214.53 L177.55 214.5 L178.35 214.46 L179.14 214.43 L179.94 214.39 L180.74 214.35 L181.54 214.32 L182.34 214.28 L183.14 214.25 L183.94 214.21 L184.74 214.18 L185.54 214.14 L186.34 214.1 L187.13 214.07 L187.93 214.03 L188.73 214 L189.53 213.96 L190.33 213.93 L191.13 213.89 L191.93 213.86 L192.73 213.82 L193.53 213.78 L194.33 213.75 L195.12 213.71 L195.92 213.68 L196.72 213.64 L197.52 213.61 L198.32 213.57 L199.12 213.54 L199.92 213.5 L200.72 213.47 L201.52 213.43 L202.32 213.4 L203.12 213.36 L203.91 213.33 L204.71 213.3 L205.51 213.26 L206.31 213.23 L207.11 213.19 L207.91 213.16 L208.71 213.12 L209.51 213.09 L210.31 213.05 L211.11 213.02 L211.9 212.99 L212.7 212.95 L213.5 212.92 L214.3 212.88 L215.1 212.85 L215.9 212.82 L216.7 212.78 L217.5 212.75 L218.3 212.72 L219.1 212.68 L219.89 212.65 L220.69 212.61 L221.49 212.58 L222.29 212.55 L223.09 212.51 L223.89 212.48 L224.69 212.45 L225.49 212.41 L226.29 212.38 L227.09 212.35 L227.89 212.32 L228.68 212.28 L229.48 212.25 L230.28 212.22 L231.08 212.18 L231.88 212.15 L232.68 212.12 L233.48 212.09 L234.28 212.05 L235.08 212.02 L235.88 211.99 L236.67 211.96 L237.47 211.92 L238.27 211.89 L239.07 211.86 L239.87 211.83 L240.67 211.8 L241.47 211.76 L242.27 211.73 L243.07 211.7 L243.87 211.67 L244.66 211.64 L245.46 211.61 L246.26 211.57 L247.06 211.54 L247.86 211.51 L248.66 211.48 L249.46 211.45 L250.26 211.42 L251.06 211.39 L251.86 211.36 L252.66 211.33 L253.45 211.29 L254.25 211.26 L255.05 211.23 L255.85 211.2 L256.65 211.17 L257.45 211.14 L258.25 211.11 L259.05 211.08 L259.85 211.05 L260.65 211.02 L261.44 210.99 L262.24 210.96 L263.04 210.93 L263.84 210.9 L264.64 210.87 L265.44 210.84 L266.24 210.81 L267.04 210.78 L267.84 210.75 L268.64 210.72 L269.43 210.7 L270.23 210.67 L271.03 210.64 L271.83 210.61 L272.63 210.58 L273.43 210.55 L274.23 210.52 L275.03 210.49 L275.83 210.46 L276.63 210.44 L277.43 210.41 L278.22 210.38 L279.02 210.35 L279.82 210.32 L280.62 210.29 L281.42 210.27 L282.22 210.24 L283.02 210.21 L283.82 210.18 L284.62 210.16 L285.42 210.13 L286.21 210.1 L287.01 210.07 L287.81 210.05 L288.61 210.02 L289.41 209.99 L290.21 209.96 L291.01 209.94 L291.81 209.91 L292.61 209.88 L293.41 209.86 L294.2 209.83 L295 209.8 L295.8 209.78 L296.6 209.75 L297.4 209.73 L298.2 209.7" fill="none" stroke="#0a0ad2" stroke-width="1.2" />
<path d="M50.5 228 L51.3 227.52 L52.1 227.05 L52.9 226.6 L53.7 226.15 L54.5 225.72 L55.3 225.3 L56.1 224.9 L56.9 224.52 L57.7 224.15 L58.5 223.8 L59.3 223.47 L60.1 223.16 L60.89 222.87 L61.69 222.58 L62.49 222.29 L63.29 222.02 L64.09 221.75 L64.89 221.5 L65.69 221.26 L66.49 221.03 L67.29 220.81 L68.09 220.61 L68.89 220.43 L69.69 220.26 L70.49 220.11 L71.29 219.95 L72.09 219.79 L72.89 219.64 L73.69 219.49 L74.49 219.35 L75.29 219.22 L76.09 219.1 L76.89 219 L77.69 218.91 L78.49 218.85 L79.29 218.81 L80.09 218.8 L80.89 218.84 L81.68 218.93 L82.48 219.08 L83.28 219.26 L84.08 219.48 L84.88 219.72 L85.68 219.97 L86.48 220.23 L87.28 220.5 L88.08 220.86 L88.88 221.32 L89.68 221.82 L90.48 222.33 L91.28 222.82 L92.08 223.24 L92.88 223.56 L93.68 223.8 L94.48 224.03 L95.28 224.24 L96.08 224.44 L96.88 224.6 L97.68 224.72 L98.48 224.79 L99.28 224.8 L100.08 224.8 L100.88 224.79 L101.67 224.79 L102.47 224.78 L103.27 224.77 L104.07 224.76 L104.87 224.75 L105.67 224.74 L106.47 224.72 L107.27 224.71 L108.07 224.69 L108.87 224.67 L109.67 224.66 L110.47 224.64 L111.27 224.62 L112.07 224.6 L112.87 224.58 L113.67 224.56 L114.47 224.54 L115.27 224.52 L116.07 224.5 L116.87 224.48 L117.67 224.46 L118.47 224.44 L119.27 224.42 L120.07 224.4 L120.87 224.38 L121.66 224.36 L122.46 224.34 L123.26 224.32 L124.06 224.3 L124.86 224.28 L125.66 224.26 L126.46 224.24 L127.26 224.22 L128.06 224.2 L128.86 224.17 L129.66 224.15 L130.46 224.13 L131.26 224.11 L132.06 224.08 L132.86 224.06 L133.66 224.03 L134.46 224.01 L135.26 223.99 L136.06 223.96 L136.86 223.94 L137.66 223.91 L138.46 223.89 L139.26 223.86 L140.06 223.84 L140.86 223.81 L141.66 223.79 L142.45 223.76 L143.25 223.73 L144.05 223.71 L144.85 223.68 L145.65 223.66 L146.45 223.63 L147.25 223.6 L148.05 223.58 L148.85 223.55 L149.65 223.53 L150.45 223.5 L151.25 223.48 L152.05 223.45 L152.85 223.42 L153.65 223.4 L154.45 223.37 L155.25 223.35 L156.05 223.32 L156.85 223.3 L157.65 223.27 L158.45 223.25 L159.25 223.22 L160.05 223.2 L160.85 223.17 L161.65 223.15 L162.44 223.13 L163.24 223.1 L164.04 223.08 L164.84 223.05 L165.64 223.03 L166.44 223 L167.24 222.98 L168.04 222.96 L168.84 222.93 L169.64 222.91 L170.44 222.88 L171.24 222.86 L172.04 222.83 L172.84 222.81 L173.64 222.78 L174.44 222.76 L175.24 222.74 L176.04 222.71 L176.84 222.69 L177.64 222.66 L178.44 222.64 L179.24 222.61 L180.04 222.59 L180.84 222.56 L181.64 222.54 L182.44 222.52 L183.23 222.49 L184.03 222.47 L184.83 222.44 L185.63 222.42 L186.43 222.39 L187.23 222.37 L188.03 222.34 L188.83 222.32 L189.63 222.29 L190.43 222.27 L191.23 222.24 L192.03 222.22 L192.83 222.2 L193.63 222.17 L194.43 222.15 L195.23 222.12 L196.03 222.1 L196.83 222.07 L197.63 222.05 L198.43 222.02 L199.23 222 L200.03 221.97 L200.83 221.95 L201.63 221.92 L202.43 221.9 L203.22 221.88 L204.02 221.85 L204.82 221.83 L205.62 221.8 L206.42 221.78 L207.22 221.75 L208.02 221.73 L208.82 221.7 L209.62 221.68 L210.42 221.65 L211.22 221.63 L212.02 221.6 L212.82 221.58 L213.62 221.55 L214.42 221.53 L215.22 221.5 L216.02 221.48 L216.82 221.45 L217.62 221.43 L218.42 221.4 L219.22 221.38 L220.02 221.35 L220.82 221.33 L221.62 221.3 L222.42 221.28 L223.21 221.25 L224.01 221.23 L224.81 221.2 L225.61 221.18 L226.41 221.15 L227.21 221.13 L228.01 221.1 L228.81 221.08 L229.61 221.05 L230.41 221.03 L231.21 221 L232.01 220.98 L232.81 220.95 L233.61 220.93 L234.41 220.9 L235.21 220.88 L236.01 220.85 L236.81 220.83 L237.61 220.8 L238.41 220.78 L239.21 220.75 L240.01 220.73 L240.81 220.7 L241.61 220.68 L242.41 220.65 L243.21 220.63 L244 220.6 L244.8 220.58 L245.6 220.55 L246.4 220.53 L247.2 220.5 L248 220.48 L248.8 220.45 L249.6 220.43 L250.4 220.4 L251.2 220.38 L252 220.35 L252.8 220.33 L253.6 220.3" fill="none" stroke="#0a0ad2" stroke-width="1.2" />
<path d="M50.5 229.5 L51.3 229.13 L52.1 228.76 L52.9 228.41 L53.7 228.06 L54.5 227.73 L55.3 227.41 L56.1 227.1 L56.9 226.8 L57.7 226.52 L58.5 226.25 L59.3 226.01 L60.1 225.77 L60.89 225.55 L61.69 225.32 L62.49 225.11 L63.29 224.89 L64.09 224.69 L64.89 224.49 L65.69 224.31 L66.49 224.14 L67.29 223.98 L68.09 223.84 L68.89 223.73 L69.69 223.63 L70.49 223.55 L71.29 223.48 L72.09 223.41 L72.89 223.34 L73.69 223.28 L74.49 223.22 L75.29 223.16 L76.09 223.12 L76.89 223.08 L77.69 223.04 L78.49 223.02 L79.29 223 L80.09 223 L80.89 223.04 L81.68 223.13 L82.48 223.28 L83.28 223.47 L84.08 223.69 L84.88 223.95 L85.68 224.23 L86.48 224.52 L87.28 224.82 L88.08 225.13 L88.88 225.43 L89.68 225.8 L90.48 226.25 L91.28 226.76 L92.08 227.29 L92.88 227.8 L93.68 228.26 L94.48 228.62 L95.28 228.88 L96.08 229.1 L96.88 229.31 L97.68 229.51 L98.48 229.69 L99.28 229.84 L100.08 229.97 L100.88 230.05 L101.67 230.1 L102.47 230.1 L103.27 230.1 L104.07 230.1 L104.87 230.09 L105.67 230.09 L106.47 230.08 L107.27 230.07 L108.07 230.06 L108.87 230.05 L109.67 230.04 L110.47 230.03 L111.27 230.01 L112.07 230 L112.87 229.98 L113.67 229.97 L114.47 229.95 L115.27 229.93 L116.07 229.91 L116.87 229.89 L117.67 229.87 L118.47 229.85 L119.27 229.82 L120.07 229.8 L120.87 229.78 L121.66 229.75 L122.46 229.72 L123.26 229.7 L124.06 229.67 L124.86 229.64 L125.66 229.62 L126.46 229.59 L127.26 229.56 L128.06 229.53 L128.86 229.5 L129.66 229.47 L130.46 229.44 L131.26 229.41 L132.06 229.38 L132.86 229.35 L133.66 229.32 L134.46 229.29 L135.26 229.26 L136.06 229.22 L136.86 229.19 L137.66 229.16 L138.46 229.13 L139.26 229.1 L140.06 229.07 L140.86 229.04 L141.66 229.01 L142.45 228.97 L143.25 228.94 L144.05 228.91 L144.85 228.88 L145.65 228.85 L146.45 228.82 L147.25 228.79 L148.05 228.76 L148.85 228.74 L149.65 228.71 L150.45 228.68 L151.25 228.65 L152.05 228.63 L152.85 228.6 L153.65 228.58 L154.45 228.55 L155.25 228.53 L156.05 228.5 L156.85 228.48 L157.65 228.46 L158.45 228.44 L159.25 228.42 L160.05 228.4 L160.85 228.38 L161.65 228.36 L162.44 228.34 L163.24 228.32 L164.04 228.3 L164.84 228.29 L165.64 228.27 L166.44 228.25 L167.24 228.23 L168.04 228.21 L168.84 228.19 L169.64 228.18 L170.44 228.16 L171.24 228.14 L172.04 228.12 L172.84 228.1 L173.64 228.08 L174.44 228.07 L175.24 228.05 L176.04 228.03 L176.84 228.01 L177.64 227.99 L178.44 227.98 L179.24 227.96 L180.04 227.94 L180.84 227.92 L181.64 227.9 L182.44 227.89 L183.23 227.87 L184.03 227.85 L184.83 227.83 L185.63 227.82 L186.43 227.8 L187.23 227.78 L188.03 227.76 L188.83 227.75 L189.63 227.73 L190.43 227.71 L191.23 227.7 L192.03 227.68 L192.83 227.66 L193.63 227.64 L194.43 227.63 L195.23 227.61 L196.03 227.59 L196.83 227.58 L197.63 227.56 L198.43 227.54 L199.23 227.53 L200.03 227.51 L200.83 227.5 L201.63 227.48 L202.43 227.46 L203.22 227.45 L204.02 227.43 L204.82 227.42 L205.62 227.4 L206.42 227.38 L207.22 227.37 L208.02 227.35 L208.82 227.34 L209.62 227.32 L210.42 227.31 L211.22 227.29 L212.02 227.27 L212.82 227.26 L213.62 227.24 L214.42 227.23 L215.22 227.21 L216.02 227.2 L216.82 227.18 L217.62 227.17 L218.42 227.16 L219.22 227.14 L220.02 227.13 L220.82 227.11 L221.62 227.1 L222.42 227.08 L223.21 227.07 L224.01 227.05 L224.81 227.04 L225.61 227.03 L226.41 227.01 L227.21 227 L228.01 226.99 L228.81 226.97 L229.61 226.96 L230.41 226.95 L231.21 226.93 L232.01 226.92 L232.81 226.91 L233.61 226.89 L234.41 226.88 L235.21 226.87 L236.01 226.85 L236.81 226.84 L237.61 226.83 L238.41 226.82 L239.21 226.8 L240.01 226.79 L240.81 226.78 L241.61 226.77 L242.41 226.76 L243.21 226.74 L244 226.73 L244.8 226.72 L245.6 226.71 L246.4 226.7 L247.2 226.69 L248 226.68 L248.8 226.66 L249.6 226.65 L250.4 226.64 L251.2 226.63 L252 226.62 L252.8 226.61 L253.6 226.6" fill="none" stroke="#0a0ad2" stroke-width="1.2" />
<path d="M50.5 231 L51.3 230.74 L52.1 230.48 L52.9 230.23 L53.7 229.98 L54.5 229.75 L55.3 229.52 L56.1 229.3 L56.9 229.1 L57.7 228.9 L58.5 228.71 L59.3 228.54 L60.1 228.38 L60.89 228.22 L61.69 228.06 L62.49 227.89 L63.29 227.73 L64.09 227.57 L64.89 227.43 L65.69 227.29 L66.49 227.17 L67.29 227.07 L68.09 226.99 L68.89 226.93 L69.69 226.9 L70.49 226.9 L71.29 226.9 L72.09 226.91 L72.89 226.92 L73.69 226.93 L74.49 226.94 L75.29 226.96 L76.09 226.98 L76.89 227 L77.69 227.02 L78.49 227.05 L79.29 227.07 L80.09 227.1 L80.89 227.18 L81.68 227.31 L82.48 227.5 L83.28 227.74 L84.08 228.01 L84.88 228.32 L85.68 228.65 L86.48 228.99 L87.28 229.34 L88.08 229.69 L88.88 230.03 L89.68 230.43 L90.48 230.9 L91.28 231.42 L92.08 231.95 L92.88 232.45 L93.68 232.89 L94.48 233.24 L95.28 233.47 L96.08 233.66 L96.88 233.84 L97.68 234.01 L98.48 234.16 L99.28 234.29 L100.08 234.39 L100.88 234.46 L101.67 234.5 L102.47 234.5 L103.27 234.5 L104.07 234.5 L104.87 234.5 L105.67 234.5 L106.47 234.49 L107.27 234.49 L108.07 234.49 L108.87 234.49 L109.67 234.49 L110.47 234.48 L111.27 234.48 L112.07 234.48 L112.87 234.47 L113.67 234.47 L114.47 234.46 L115.27 234.46 L116.07 234.45 L116.87 234.45 L117.67 234.44 L118.47 234.44 L119.27 234.43 L120.07 234.43 L120.87 234.42 L121.66 234.41 L122.46 234.41 L123.26 234.4 L124.06 234.39 L124.86 234.39 L125.66 234.38 L126.46 234.37 L127.26 234.36 L128.06 234.36 L128.86 234.35 L129.66 234.34 L130.46 234.33 L131.26 234.32 L132.06 234.32 L132.86 234.31 L133.66 234.3 L134.46 234.29 L135.26 234.28 L136.06 234.27 L136.86 234.26 L137.66 234.26 L138.46 234.25 L139.26 234.24 L140.06 234.23 L140.86 234.22 L141.66 234.21 L142.45 234.2 L143.25 234.19 L144.05 234.18 L144.85 234.17 L145.65 234.16 L146.45 234.15 L147.25 234.14 L148.05 234.14 L148.85 234.13 L149.65 234.12 L150.45 234.11 L151.25 234.1 L152.05 234.09 L152.85 234.08 L153.65 234.07 L154.45 234.06 L155.25 234.05 L156.05 234.04 L156.85 234.03 L157.65 234.03 L158.45 234.02 L159.25 234.01 L160.05 234 L160.85 233.99 L161.65 233.98 L162.44 233.97 L163.24 233.96 L164.04 233.96 L164.84 233.95 L165.64 233.94 L166.44 233.93 L167.24 233.92 L168.04 233.91 L168.84 233.9 L169.64 233.89 L170.44 233.88 L171.24 233.87 L172.04 233.86 L172.84 233.85 L173.64 233.84 L174.44 233.84 L175.24 233.83 L176.04 233.82 L176.84 233.81 L177.64 233.8 L178.44 233.79 L179.24 233.78 L180.04 233.77 L180.84 233.76 L181.64 233.75 L182.44 233.74 L183.23 233.73 L184.03 233.71 L184.83 233.7 L185.63 233.69 L186.43 233.68 L187.23 233.67 L188.03 233.66 L188.83 233.65 L189.63 233.64 L190.43 233.63 L191.23 233.62 L192.03 233.61 L192.83 233.6 L193.63 233.59 L194.43 233.57 L195.23 233.56 L196.03 233.55 L196.83 233.54 L197.63 233.53 L198.43 233.52 L199.23 233.51 L200.03 233.5 L200.83 233.48 L201.63 233.47 L202.43 233.46 L203.22 233.45 L204.02 233.44 L204.82 233.42 L205.62 233.41 L206.42 233.4 L207.22 233.39 L208.02 233.38 L208.82 233.36 L209.62 233.35 L210.42 233.34 L211.22 233.33 L212.02 233.32 L212.82 233.3 L213.62 233.29 L214.42 233.28 L215.22 233.27 L216.02 233.25 L216.82 233.24 L217.62 233.23 L218.42 233.21 L219.22 233.2 L220.02 233.19 L220.82 233.18 L221.62 233.16 L222.42 233.15 L223.21 233.14 L224.01 233.12 L224.81 233.11 L225.61 233.1 L226.41 233.08 L227.21 233.07 L228.01 233.06 L228.81 233.04 L229.61 233.03 L230.41 233.02 L231.21 233 L232.01 232.99 L232.81 232.98 L233.61 232.96 L234.41 232.95 L235.21 232.93 L236.01 232.92 L236.81 232.91 L237.61 232.89 L238.41 232.88 L239.21 232.86 L240.01 232.85 L240.81 232.84 L241.61 232.82 L242.41 232.81 L243.21 232.79 L244 232.78 L244.8 232.76 L245.6 232.75 L246.4 232.73 L247.2 232.72 L248 232.7 L248.8 232.69 L249.6 232.67 L250.4 232.66 L251.2 232.65 L252 232.63 L252.8 232.62 L253.6 232.6" fill="none" stroke="#0a0ad2" stroke-width="1.2" />
<path d="M50.5 232.5 L51.3 232.32 L52.1 232.15 L52.9 231.98 L53.7 231.81 L54.5 231.65 L55.3 231.5 L56.1 231.36 L56.9 231.23 L57.7 231.1 L58.5 230.99 L59.3 230.88 L60.1 230.79 L60.89 230.7 L61.69 230.61 L62.49 230.52 L63.29 230.43 L64.09 230.35 L64.89 230.27 L65.69 230.2 L66.49 230.14 L67.29 230.08 L68.09 230.04 L68.89 230.02 L69.69 230 L70.49 230 L71.29 230.03 L72.09 230.07 L72.89 230.13 L73.69 230.21 L74.49 230.3 L75.29 230.4 L76.09 230.52 L76.89 230.64 L77.69 230.78 L78.49 230.92 L79.29 231.07 L80.09 231.22 L80.89 231.4 L81.68 231.64 L82.48 231.93 L83.28 232.26 L84.08 232.62 L84.88 233 L85.68 233.39 L86.48 233.8 L87.28 234.21 L88.08 234.61 L88.88 235 L89.68 235.38 L90.48 235.82 L91.28 236.28 L92.08 236.75 L92.88 237.2 L93.68 237.58 L94.48 237.87 L95.28 238.05 L96.08 238.2 L96.88 238.33 L97.68 238.45 L98.48 238.56 L99.28 238.65 L100.08 238.72 L100.88 238.77 L101.67 238.8 L102.47 238.8 L103.27 238.8 L104.07 238.8 L104.87 238.8 L105.67 238.8 L106.47 238.8 L107.27 238.8 L108.07 238.8 L108.87 238.8 L109.67 238.8 L110.47 238.8 L111.27 238.8 L112.07 238.8 L112.87 238.8 L113.67 238.8 L114.47 238.8 L115.27 238.8 L116.07 238.8 L116.87 238.8 L117.67 238.8 L118.47 238.8 L119.27 238.8 L120.07 238.8 L120.87 238.8 L121.66 238.8 L122.46 238.8 L123.26 238.8 L124.06 238.8 L124.86 238.8 L125.66 238.8 L126.46 238.8 L127.26 238.8 L128.06 238.8 L128.86 238.8 L129.66 238.8 L130.46 238.8 L131.26 238.8 L132.06 238.8 L132.86 238.8 L133.66 238.8 L134.46 238.8 L135.26 238.8 L136.06 238.8 L136.86 238.8 L137.66 238.8 L138.46 238.8 L139.26 238.8 L140.06 238.8 L140.86 238.8 L141.66 238.8 L142.45 238.8 L143.25 238.8 L144.05 238.8 L144.85 238.8 L145.65 238.8 L146.45 238.8 L147.25 238.8 L148.05 238.8 L148.85 238.8 L149.65 238.8 L150.45 238.8 L151.25 238.8 L152.05 238.8 L152.85 238.8 L153.65 238.8 L154.45 238.8 L155.25 238.8 L156.05 238.8 L156.85 238.8 L157.65 238.8 L158.45 238.8 L159.25 238.8 L160.05 238.8 L160.85 238.8 L161.65 238.8 L162.44 238.8 L163.24 238.8 L164.04 238.8 L164.84 238.8 L165.64 238.8 L166.44 238.8 L167.24 238.8 L168.04 238.8 L168.84 238.8 L169.64 238.8 L170.44 238.8 L171.24 238.8 L172.04 238.8 L172.84 238.79 L173.64 238.79 L174.44 238.79 L175.24 238.79 L176.04 238.79 L176.84 238.79 L177.64 238.79 L178.44 238.79 L179.24 238.79 L180.04 238.79 L180.84 238.79 L181.64 238.79 L182.44 238.79 L183.23 238.78 L184.03 238.78 L184.83 238.78 L185.63 238.78 L186.43 238.78 L187.23 238.78 L188.03 238.78 L188.83 238.78 L189.63 238.77 L190.43 238.77 L191.23 238.77 L192.03 238.77 L192.83 238.77 L193.63 238.77 L194.43 238.77 L195.23 238.76 L196.03 238.76 L196.83 238.76 L197.63 238.76 L198.43 238.76 L199.23 238.76 L200.03 238.76 L200.83 238.75 L201.63 238.75 L202.43 238.75 L203.22 238.75 L204.02 238.75 L204.82 238.74 L205.62 238.74 L206.42 238.74 L207.22 238.74 L208.02 238.74 L208.82 238.74 L209.62 238.73 L210.42 238.73 L211.22 238.73 L212.02 238.73 L212.82 238.73 L213.62 238.72 L214.42 238.72 L215.22 238.72 L216.02 238.72 L216.82 238.72 L217.62 238.71 L218.42 238.71 L219.22 238.71 L220.02 238.71 L220.82 238.7 L221.62 238.7 L222.42 238.7 L223.21 238.7 L224.01 238.7 L224.81 238.69 L225.61 238.69 L226.41 238.69 L227.21 238.69 L228.01 238.68 L228.81 238.68 L229.61 238.68 L230.41 238.68 L231.21 238.67 L232.01 238.67 L232.81 238.67 L233.61 238.67 L234.41 238.66 L235.21 238.66 L236.01 238.66 L236.81 238.66 L237.61 238.65 L238.41 238.65 L239.21 238.65 L240.01 238.65 L240.81 238.64 L241.61 238.64 L242.41 238.64 L243.21 238.64 L244 238.63 L244.8 238.63 L245.6 238.63 L246.4 238.62 L247.2 238.62 L248 238.62 L248.8 238.62 L249.6 238.61 L250.4 238.61 L251.2 238.61 L252 238.61 L252.8 238.6 L253.6 238.6" fill="none" stroke="#0a0ad2" stroke-width="1.2" />
<path d="M50.5 234 L51.3 233.89 L52.1 233.79 L52.9 233.68 L53.69 233.59 L54.49 233.49 L55.29 233.4 L56.09 233.32 L56.89 233.24 L57.69 233.17 L58.49 233.1 L59.28 233.04 L60.08 233 L60.88 232.95 L61.68 232.9 L62.48 232.86 L63.28 232.81 L64.07 232.77 L64.87 232.73 L65.67 232.7 L66.47 232.67 L67.27 232.64 L68.07 232.62 L68.87 232.61 L69.66 232.6 L70.46 232.6 L71.26 232.62 L72.06 232.65 L72.86 232.7 L73.66 232.75 L74.46 232.82 L75.25 232.91 L76.05 233 L76.85 233.1 L77.65 233.22 L78.45 233.34 L79.25 233.47 L80.04 233.61 L80.84 233.81 L81.64 234.11 L82.44 234.5 L83.24 234.93 L84.04 235.41 L84.84 235.9 L85.63 236.38 L86.43 236.87 L87.23 237.45 L88.03 238.09 L88.83 238.73 L89.63 239.31 L90.43 239.77 L91.22 240.07 L92.02 240.3 L92.82 240.52 L93.62 240.7 L94.42 240.85 L95.22 240.95 L96.01 241 L96.81 241.02 L97.61 241.04 L98.41 241.05 L99.21 241.06 L100.01 241.08 L100.81 241.08 L101.6 241.09 L102.4 241.1 L103.2 241.1 L104 241.1" fill="none" stroke="#0a0ad2" stroke-width="1.2" />
</g>
<line x1="50.5" y1="10.6" x2="50.5" y2="258.55" stroke="#000" stroke-width="1.4" />
<line x1="298.2" y1="10.6" x2="298.2" y2="258.55" stroke="#000" stroke-width="1.4" />
<line x1="49.8" y1="11.3" x2="298.9" y2="11.3" stroke="#000" stroke-width="1.4" />
<line x1="49.8" y1="257.85" x2="298.9" y2="257.85" stroke="#000" stroke-width="1.4" />
<line x1="50.5" y1="245.53" x2="52.9" y2="245.53" stroke="#000" stroke-width="1.1" />
<line x1="50.5" y1="233.2" x2="54.8" y2="233.2" stroke="#000" stroke-width="1.1" />
<line x1="50.5" y1="220.88" x2="52.9" y2="220.88" stroke="#000" stroke-width="1.1" />
<line x1="50.5" y1="208.55" x2="52.9" y2="208.55" stroke="#000" stroke-width="1.1" />
<line x1="50.5" y1="196.23" x2="52.9" y2="196.23" stroke="#000" stroke-width="1.1" />
<line x1="50.5" y1="183.9" x2="54.8" y2="183.9" stroke="#000" stroke-width="1.1" />
<line x1="50.5" y1="171.58" x2="52.9" y2="171.58" stroke="#000" stroke-width="1.1" />
<line x1="50.5" y1="159.25" x2="52.9" y2="159.25" stroke="#000" stroke-width="1.1" />
<line x1="50.5" y1="146.93" x2="52.9" y2="146.93" stroke="#000" stroke-width="1.1" />
<line x1="50.5" y1="134.6" x2="54.8" y2="134.6" stroke="#000" stroke-width="1.1" />
<line x1="50.5" y1="122.28" x2="52.9" y2="122.28" stroke="#000" stroke-width="1.1" />
<line x1="50.5" y1="109.95" x2="52.9" y2="109.95" stroke="#000" stroke-width="1.1" />
<line x1="50.5" y1="97.63" x2="52.9" y2="97.63" stroke="#000" stroke-width="1.1" />
<line x1="50.5" y1="85.3" x2="54.8" y2="85.3" stroke="#000" stroke-width="1.1" />
<line x1="50.5" y1="72.98" x2="52.9" y2="72.98" stroke="#000" stroke-width="1.1" />
<line x1="50.5" y1="60.65" x2="52.9" y2="60.65" stroke="#000" stroke-width="1.1" />
<line x1="50.5" y1="48.33" x2="52.9" y2="48.33" stroke="#000" stroke-width="1.1" />
<line x1="50.5" y1="36" x2="54.8" y2="36" stroke="#000" stroke-width="1.1" />
<line x1="50.5" y1="23.68" x2="52.9" y2="23.68" stroke="#000" stroke-width="1.1" />
<line x1="298.2" y1="254.76" x2="295.8" y2="254.76" stroke="#000" stroke-width="1.1" />
<line x1="298.2" y1="248.18" x2="295.8" y2="248.18" stroke="#000" stroke-width="1.1" />
<line x1="298.2" y1="241.6" x2="293.9" y2="241.6" stroke="#000" stroke-width="1.1" />
<line x1="298.2" y1="235.02" x2="295.8" y2="235.02" stroke="#000" stroke-width="1.1" />
<line x1="298.2" y1="228.44" x2="295.8" y2="228.44" stroke="#000" stroke-width="1.1" />
<line x1="298.2" y1="221.86" x2="295.8" y2="221.86" stroke="#000" stroke-width="1.1" />
<line x1="298.2" y1="215.28" x2="295.8" y2="215.28" stroke="#000" stroke-width="1.1" />
<line x1="298.2" y1="208.7" x2="293.9" y2="208.7" stroke="#000" stroke-width="1.1" />
<line x1="298.2" y1="202.12" x2="295.8" y2="202.12" stroke="#000" stroke-width="1.1" />
<line x1="298.2" y1="195.54" x2="295.8" y2="195.54" stroke="#000" stroke-width="1.1" />
<line x1="298.2" y1="188.96" x2="295.8" y2="188.96" stroke="#000" stroke-width="1.1" />
<line x1="298.2" y1="182.38" x2="295.8" y2="182.38" stroke="#000" stroke-width="1.1" />
<line x1="298.2" y1="175.8" x2="293.9" y2="175.8" stroke="#000" stroke-width="1.1" />
<line x1="298.2" y1="169.22" x2="295.8" y2="169.22" stroke="#000" stroke-width="1.1" />
<line x1="298.2" y1="162.64" x2="295.8" y2="162.64" stroke="#000" stroke-width="1.1" />
<line x1="298.2" y1="156.06" x2="295.8" y2="156.06" stroke="#000" stroke-width="1.1" />
<line x1="298.2" y1="149.48" x2="295.8" y2="149.48" stroke="#000" stroke-width="1.1" />
<line x1="298.2" y1="142.9" x2="293.9" y2="142.9" stroke="#000" stroke-width="1.1" />
<line x1="298.2" y1="136.32" x2="295.8" y2="136.32" stroke="#000" stroke-width="1.1" />
<line x1="298.2" y1="129.74" x2="295.8" y2="129.74" stroke="#000" stroke-width="1.1" />
<line x1="298.2" y1="123.16" x2="295.8" y2="123.16" stroke="#000" stroke-width="1.1" />
<line x1="298.2" y1="116.58" x2="295.8" y2="116.58" stroke="#000" stroke-width="1.1" />
<line x1="298.2" y1="110" x2="293.9" y2="110" stroke="#000" stroke-width="1.1" />
<line x1="298.2" y1="103.42" x2="295.8" y2="103.42" stroke="#000" stroke-width="1.1" />
<line x1="298.2" y1="96.84" x2="295.8" y2="96.84" stroke="#000" stroke-width="1.1" />
<line x1="298.2" y1="90.26" x2="295.8" y2="90.26" stroke="#000" stroke-width="1.1" />
<line x1="298.2" y1="83.68" x2="295.8" y2="83.68" stroke="#000" stroke-width="1.1" />
<line x1="298.2" y1="77.1" x2="293.9" y2="77.1" stroke="#000" stroke-width="1.1" />
<line x1="298.2" y1="70.52" x2="295.8" y2="70.52" stroke="#000" stroke-width="1.1" />
<line x1="298.2" y1="63.94" x2="295.8" y2="63.94" stroke="#000" stroke-width="1.1" />
<line x1="298.2" y1="57.36" x2="295.8" y2="57.36" stroke="#000" stroke-width="1.1" />
<line x1="298.2" y1="50.78" x2="295.8" y2="50.78" stroke="#000" stroke-width="1.1" />
<line x1="298.2" y1="44.2" x2="293.9" y2="44.2" stroke="#000" stroke-width="1.1" />
<line x1="298.2" y1="37.62" x2="295.8" y2="37.62" stroke="#000" stroke-width="1.1" />
<line x1="298.2" y1="31.04" x2="295.8" y2="31.04" stroke="#000" stroke-width="1.1" />
<line x1="298.2" y1="24.46" x2="295.8" y2="24.46" stroke="#000" stroke-width="1.1" />
<line x1="298.2" y1="17.88" x2="295.8" y2="17.88" stroke="#000" stroke-width="1.1" />
<line x1="59.35" y1="257.85" x2="59.35" y2="255.45" stroke="#000" stroke-width="1.1" />
<line x1="59.35" y1="11.3" x2="59.35" y2="13.7" stroke="#000" stroke-width="1.1" />
<line x1="68.19" y1="257.85" x2="68.19" y2="253.55" stroke="#000" stroke-width="1.1" />
<line x1="68.19" y1="11.3" x2="68.19" y2="15.6" stroke="#000" stroke-width="1.1" />
<line x1="77.04" y1="257.85" x2="77.04" y2="255.45" stroke="#000" stroke-width="1.1" />
<line x1="77.04" y1="11.3" x2="77.04" y2="13.7" stroke="#000" stroke-width="1.1" />
<line x1="85.89" y1="257.85" x2="85.89" y2="255.45" stroke="#000" stroke-width="1.1" />
<line x1="85.89" y1="11.3" x2="85.89" y2="13.7" stroke="#000" stroke-width="1.1" />
<line x1="94.73" y1="257.85" x2="94.73" y2="255.45" stroke="#000" stroke-width="1.1" />
<line x1="94.73" y1="11.3" x2="94.73" y2="13.7" stroke="#000" stroke-width="1.1" />
<line x1="103.58" y1="257.85" x2="103.58" y2="253.55" stroke="#000" stroke-width="1.1" />
<line x1="103.58" y1="11.3" x2="103.58" y2="15.6" stroke="#000" stroke-width="1.1" />
<line x1="112.42" y1="257.85" x2="112.42" y2="255.45" stroke="#000" stroke-width="1.1" />
<line x1="112.42" y1="11.3" x2="112.42" y2="13.7" stroke="#000" stroke-width="1.1" />
<line x1="121.27" y1="257.85" x2="121.27" y2="255.45" stroke="#000" stroke-width="1.1" />
<line x1="121.27" y1="11.3" x2="121.27" y2="13.7" stroke="#000" stroke-width="1.1" />
<line x1="130.12" y1="257.85" x2="130.12" y2="255.45" stroke="#000" stroke-width="1.1" />
<line x1="130.12" y1="11.3" x2="130.12" y2="13.7" stroke="#000" stroke-width="1.1" />
<line x1="138.96" y1="257.85" x2="138.96" y2="253.55" stroke="#000" stroke-width="1.1" />
<line x1="138.96" y1="11.3" x2="138.96" y2="15.6" stroke="#000" stroke-width="1.1" />
<line x1="147.81" y1="257.85" x2="147.81" y2="255.45" stroke="#000" stroke-width="1.1" />
<line x1="147.81" y1="11.3" x2="147.81" y2="13.7" stroke="#000" stroke-width="1.1" />
<line x1="156.66" y1="257.85" x2="156.66" y2="255.45" stroke="#000" stroke-width="1.1" />
<line x1="156.66" y1="11.3" x2="156.66" y2="13.7" stroke="#000" stroke-width="1.1" />
<line x1="165.5" y1="257.85" x2="165.5" y2="255.45" stroke="#000" stroke-width="1.1" />
<line x1="165.5" y1="11.3" x2="165.5" y2="13.7" stroke="#000" stroke-width="1.1" />
<line x1="174.35" y1="257.85" x2="174.35" y2="253.55" stroke="#000" stroke-width="1.1" />
<line x1="174.35" y1="11.3" x2="174.35" y2="15.6" stroke="#000" stroke-width="1.1" />
<line x1="183.2" y1="257.85" x2="183.2" y2="255.45" stroke="#000" stroke-width="1.1" />
<line x1="183.2" y1="11.3" x2="183.2" y2="13.7" stroke="#000" stroke-width="1.1" />
<line x1="192.04" y1="257.85" x2="192.04" y2="255.45" stroke="#000" stroke-width="1.1" />
<line x1="192.04" y1="11.3" x2="192.04" y2="13.7" stroke="#000" stroke-width="1.1" />
<line x1="200.89" y1="257.85" x2="200.89" y2="255.45" stroke="#000" stroke-width="1.1" />
<line x1="200.89" y1="11.3" x2="200.89" y2="13.7" stroke="#000" stroke-width="1.1" />
<line x1="209.74" y1="257.85" x2="209.74" y2="253.55" stroke="#000" stroke-width="1.1" />
<line x1="209.74" y1="11.3" x2="209.74" y2="15.6" stroke="#000" stroke-width="1.1" />
<line x1="218.58" y1="257.85" x2="218.58" y2="255.45" stroke="#000" stroke-width="1.1" />
<line x1="218.58" y1="11.3" x2="218.58" y2="13.7" stroke="#000" stroke-width="1.1" />
<line x1="227.43" y1="257.85" x2="227.43" y2="255.45" stroke="#000" stroke-width="1.1" />
<line x1="227.43" y1="11.3" x2="227.43" y2="13.7" stroke="#000" stroke-width="1.1" />
<line x1="236.28" y1="257.85" x2="236.28" y2="255.45" stroke="#000" stroke-width="1.1" />
<line x1="236.28" y1="11.3" x2="236.28" y2="13.7" stroke="#000" stroke-width="1.1" />
<line x1="245.12" y1="257.85" x2="245.12" y2="253.55" stroke="#000" stroke-width="1.1" />
<line x1="245.12" y1="11.3" x2="245.12" y2="15.6" stroke="#000" stroke-width="1.1" />
<line x1="253.97" y1="257.85" x2="253.97" y2="255.45" stroke="#000" stroke-width="1.1" />
<line x1="253.97" y1="11.3" x2="253.97" y2="13.7" stroke="#000" stroke-width="1.1" />
<line x1="262.81" y1="257.85" x2="262.81" y2="255.45" stroke="#000" stroke-width="1.1" />
<line x1="262.81" y1="11.3" x2="262.81" y2="13.7" stroke="#000" stroke-width="1.1" />
<line x1="271.66" y1="257.85" x2="271.66" y2="255.45" stroke="#000" stroke-width="1.1" />
<line x1="271.66" y1="11.3" x2="271.66" y2="13.7" stroke="#000" stroke-width="1.1" />
<line x1="280.51" y1="257.85" x2="280.51" y2="253.55" stroke="#000" stroke-width="1.1" />
<line x1="280.51" y1="11.3" x2="280.51" y2="15.6" stroke="#000" stroke-width="1.1" />
<line x1="289.35" y1="257.85" x2="289.35" y2="255.45" stroke="#000" stroke-width="1.1" />
<line x1="289.35" y1="11.3" x2="289.35" y2="13.7" stroke="#000" stroke-width="1.1" />
<text x="46.9" y="39.7" font-size="10.4" fill="#ff0000" text-anchor="end" font-family='"Liberation Sans", sans-serif' >0.6</text>
<text x="46.9" y="89" font-size="10.4" fill="#ff0000" text-anchor="end" font-family='"Liberation Sans", sans-serif' >0.4</text>
<text x="46.9" y="138.3" font-size="10.4" fill="#ff0000" text-anchor="end" font-family='"Liberation Sans", sans-serif' >0.2</text>
<text x="46.9" y="187.6" font-size="10.4" fill="#ff0000" text-anchor="end" font-family='"Liberation Sans", sans-serif' >0</text>
<text x="46.9" y="236.9" font-size="10.4" fill="#ff0000" text-anchor="end" font-family='"Liberation Sans", sans-serif' >-0.2</text>
<text x="303" y="245.1" font-size="9.9" fill="#1010e0" text-anchor="start" font-family='"Liberation Sans", sans-serif' >0</text>
<text x="303" y="212.2" font-size="9.9" fill="#1010e0" text-anchor="start" font-family='"Liberation Sans", sans-serif' >1</text>
<text x="303" y="179.3" font-size="9.9" fill="#1010e0" text-anchor="start" font-family='"Liberation Sans", sans-serif' >2</text>
<text x="303" y="146.4" font-size="9.9" fill="#1010e0" text-anchor="start" font-family='"Liberation Sans", sans-serif' >3</text>
<text x="303" y="113.5" font-size="9.9" fill="#1010e0" text-anchor="start" font-family='"Liberation Sans", sans-serif' >4</text>
<text x="303" y="80.6" font-size="9.9" fill="#1010e0" text-anchor="start" font-family='"Liberation Sans", sans-serif' >5</text>
<text x="303" y="47.7" font-size="9.9" fill="#1010e0" text-anchor="start" font-family='"Liberation Sans", sans-serif' >6</text>
<text x="303" y="14.8" font-size="9.9" fill="#1010e0" text-anchor="start" font-family='"Liberation Sans", sans-serif' >7</text>
<text x="68.19" y="270.8" font-size="10.4" fill="#000" text-anchor="middle" font-family='"Liberation Sans", sans-serif' >4</text>
<text x="103.58" y="270.8" font-size="10.4" fill="#000" text-anchor="middle" font-family='"Liberation Sans", sans-serif' >8</text>
<text x="138.96" y="270.8" font-size="10.4" fill="#000" text-anchor="middle" font-family='"Liberation Sans", sans-serif' >12</text>
<text x="174.35" y="270.8" font-size="10.4" fill="#000" text-anchor="middle" font-family='"Liberation Sans", sans-serif' >16</text>
<text x="209.74" y="270.8" font-size="10.4" fill="#000" text-anchor="middle" font-family='"Liberation Sans", sans-serif' >20</text>
<text x="245.12" y="270.8" font-size="10.4" fill="#000" text-anchor="middle" font-family='"Liberation Sans", sans-serif' >24</text>
<text x="280.51" y="270.8" font-size="10.4" fill="#000" text-anchor="middle" font-family='"Liberation Sans", sans-serif' >28</text>
<text x="134.6" y="285.3" font-size="12.7" fill="#000" text-anchor="start" font-family='"Liberation Sans", sans-serif' >Temperature (K)</text>
<text x="-0.6" y="9.9" font-size="18.5" fill="#000" text-anchor="start" font-family='"Liberation Sans", sans-serif' >a</text>
<text x="185" y="34.4" font-size="13" fill="#000" text-anchor="start" font-family='"Liberation Sans", sans-serif' >70 kOe</text>
<text x="217.2" y="71.3" font-size="13" fill="#000" text-anchor="start" font-family='"Liberation Sans", sans-serif' >55 kOe</text>
<text x="226" y="115.1" font-size="13" fill="#000" text-anchor="start" font-family='"Liberation Sans", sans-serif' >40 kOe</text>
<text x="234.9" y="145.2" font-size="13" fill="#000" text-anchor="start" font-family='"Liberation Sans", sans-serif' >30 kOe</text>
<text x="241.7" y="196.3" font-size="13" fill="#000" text-anchor="start" font-family='"Liberation Sans", sans-serif' >20 kOe</text>
<text x="193.7" y="207.6" font-size="13" fill="#000" text-anchor="start" font-family='"Liberation Sans", sans-serif' >10 kOe</text>
<text x="286.4" y="223.6" font-size="9.9" fill="#000" text-anchor="end" font-family='"Liberation Serif", serif' >7 kOe</text>
<text x="286.4" y="233.2" font-size="9.9" fill="#000" text-anchor="end" font-family='"Liberation Serif", serif' >5 kOe</text>
<text x="286.4" y="242.4" font-size="9.9" fill="#000" text-anchor="end" font-family='"Liberation Serif", serif' >3 kOe</text>
<text x="286.4" y="252" font-size="9.9" fill="#000" text-anchor="end" font-family='"Liberation Serif", serif' >1 kOe</text>
<text x="110.1" y="250.6" font-size="9.6" fill="#000" text-anchor="start" font-family='"Liberation Serif", serif' >100 Oe</text>
<text transform="translate(21.5,199.5) rotate(-90)" font-size="12.45" fill="#ff0000" font-family='"Liberation Sans", sans-serif'><tspan font-style="italic">dMT</tspan>/<tspan font-style="italic">dT</tspan> (<tspan font-style="italic">&#956;</tspan><tspan font-size="9.2" dy="6.3">B</tspan><tspan dy="-6.3"> /Cu</tspan><tspan font-size="9.2" dy="6.3">4</tspan><tspan dy="-6.3">(OH)</tspan><tspan font-size="9.2" dy="6.3">6</tspan><tspan dy="-6.3">Cl</tspan><tspan font-size="9.2" dy="6.3">2</tspan><tspan dy="-6.3">)</tspan></text>
<text transform="translate(318.6,62.2) rotate(90)" font-size="12.7" fill="#1010e0" font-family='"Liberation Sans", sans-serif'><tspan font-style="italic">M*T</tspan> (<tspan font-style="italic">&#956;</tspan><tspan font-size="9.2" dy="6.3">B</tspan><tspan dy="-6.3"> K /Cu</tspan><tspan font-size="9.2" dy="6.3">4</tspan><tspan dy="-6.3">(OH)</tspan><tspan font-size="9.2" dy="6.3">6</tspan><tspan dy="-6.3">Cl</tspan><tspan font-size="9.2" dy="6.3">2</tspan><tspan dy="-6.3">)</tspan></text>
<defs><clipPath id="cb"><rect x="409.6" y="10.5" width="248.5" height="247.9"/></clipPath></defs>
<g clip-path="url(#cb)">
<path d="M658.1 52.11 L656.55 53.04 L654.99 53.96 L653.44 54.88 L651.89 55.8 L650.33 56.73 L648.78 57.65 L647.23 58.57 L645.68 59.5 L644.12 60.42 L642.57 61.35 L641.02 62.28 L639.46 63.2 L637.91 64.13 L636.36 65.06 L634.8 65.99 L633.25 66.92 L631.7 67.85 L630.14 68.79 L628.59 69.72 L627.04 70.65 L625.48 71.59 L623.93 72.53 L622.38 73.47 L620.83 74.41 L619.27 75.35 L617.72 76.29 L616.17 77.24 L614.61 78.19 L613.06 79.14 L611.51 80.09 L609.95 81.05 L608.4 82 L606.85 82.96 L605.29 83.93 L603.74 84.89 L602.19 85.86 L600.63 86.84 L599.08 87.81 L597.53 88.79 L595.98 89.78 L594.42 90.77 L592.87 91.76 L591.32 92.76 L589.76 93.76 L588.21 94.77 L586.66 95.78 L585.1 96.8 L583.55 97.83 L582 98.86 L580.44 99.9 L578.89 100.94 L577.34 101.99 L575.78 103.05 L574.23 104.12 L572.68 105.19 L571.12 106.27 L569.57 107.36 L568.02 108.46 L566.47 109.57 L564.91 110.68 L563.36 111.8 L561.81 112.93 L560.25 114.07 L558.7 115.22 L557.15 116.37 L555.59 117.54 L554.04 118.71 L552.49 119.89 L550.93 121.07 L549.38 122.26 L547.83 123.46 L546.27 124.67 L544.72 125.88 L543.17 127.09 L541.62 128.31 L540.06 129.54 L538.51 130.76 L536.96 131.99 L535.4 133.22 L533.85 134.45 L532.3 135.68 L530.74 136.91 L529.19 138.14 L527.64 139.36 L526.08 140.59 L524.53 141.81 L522.98 143.02 L521.42 144.23 L519.87 145.44 L518.32 146.64 L516.77 147.83 L515.21 149.01 L513.66 150.19 L512.11 151.36 L510.55 152.53 L509 153.68 L507.45 154.83 L505.89 155.97 L504.34 157.1 L502.79 158.22 L501.23 159.33 L499.68 160.44 L498.13 161.54 L496.58 162.63 L495.02 163.71 L493.47 164.78 L491.92 165.85 L490.36 166.91 L488.81 167.96 L487.26 169 L485.7 170.04 L484.15 171.07 L482.6 172.1 L481.04 173.12 L479.49 174.13 L477.94 175.14 L476.38 176.14 L474.83 177.14 L473.28 178.13 L471.73 179.12 L470.17 180.11 L468.62 181.09 L467.07 182.06 L465.51 183.04 L463.96 184.01 L462.41 184.97 L460.85 185.94 L459.3 186.9 L457.75 187.85 L456.19 188.81 L454.64 189.76 L453.09 190.71 L451.53 191.66 L449.98 192.61 L448.43 193.55 L446.88 194.49 L445.32 195.43 L443.77 196.37 L442.22 197.31 L440.66 198.25 L439.11 199.18 L437.56 200.11 L436 201.05 L434.45 201.98 L432.9 202.91 L431.34 203.84 L429.79 204.77 L428.24 205.7 L426.68 206.62 L425.13 207.55 L423.58 208.48 L422.03 209.4 L420.47 210.33 L418.92 211.25 L417.37 212.17 L415.81 213.1 L414.26 214.02 L412.71 214.94 L411.15 215.86 L409.6 216.79" fill="none" stroke="#ff8c1e" stroke-width="1" />
<path d="M658.1 46.32 L656.55 47.25 L654.99 48.19 L653.44 49.12 L651.89 50.06 L650.33 50.99 L648.78 51.93 L647.23 52.86 L645.68 53.8 L644.12 54.73 L642.57 55.67 L641.02 56.61 L639.46 57.54 L637.91 58.48 L636.36 59.42 L634.8 60.36 L633.25 61.3 L631.7 62.24 L630.14 63.18 L628.59 64.12 L627.04 65.06 L625.48 66 L623.93 66.95 L622.38 67.89 L620.83 68.84 L619.27 69.79 L617.72 70.74 L616.17 71.69 L614.61 72.64 L613.06 73.6 L611.51 74.55 L609.95 75.51 L608.4 76.47 L606.85 77.44 L605.29 78.41 L603.74 79.38 L602.19 80.35 L600.63 81.33 L599.08 82.31 L597.53 83.29 L595.98 84.29 L594.42 85.28 L592.87 86.28 L591.32 87.29 L589.76 88.3 L588.21 89.33 L586.66 90.35 L585.1 91.39 L583.55 92.44 L582 93.49 L580.44 94.56 L578.89 95.63 L577.34 96.72 L575.78 97.82 L574.23 98.93 L572.68 100.06 L571.12 101.2 L569.57 102.36 L568.02 103.53 L566.47 104.72 L564.91 105.93 L563.36 107.15 L561.81 108.4 L560.25 109.66 L558.7 110.95 L557.15 112.25 L555.59 113.58 L554.04 114.92 L552.49 116.29 L550.93 117.68 L549.38 119.08 L547.83 120.51 L546.27 121.95 L544.72 123.41 L543.17 124.89 L541.62 126.38 L540.06 127.88 L538.51 129.4 L536.96 130.92 L535.4 132.45 L533.85 133.98 L532.3 135.52 L530.74 137.05 L529.19 138.59 L527.64 140.11 L526.08 141.63 L524.53 143.14 L522.98 144.64 L521.42 146.12 L519.87 147.59 L518.32 149.05 L516.77 150.48 L515.21 151.9 L513.66 153.3 L512.11 154.67 L510.55 156.03 L509 157.37 L507.45 158.68 L505.89 159.98 L504.34 161.25 L502.79 162.51 L501.23 163.75 L499.68 164.96 L498.13 166.16 L496.58 167.34 L495.02 168.51 L493.47 169.66 L491.92 170.79 L490.36 171.91 L488.81 173.02 L487.26 174.12 L485.7 175.2 L484.15 176.27 L482.6 177.33 L481.04 178.38 L479.49 179.42 L477.94 180.45 L476.38 181.48 L474.83 182.5 L473.28 183.51 L471.73 184.51 L470.17 185.51 L468.62 186.51 L467.07 187.49 L465.51 188.48 L463.96 189.46 L462.41 190.43 L460.85 191.41 L459.3 192.37 L457.75 193.34 L456.19 194.3 L454.64 195.26 L453.09 196.22 L451.53 197.18 L449.98 198.13 L448.43 199.08 L446.88 200.03 L445.32 200.98 L443.77 201.93 L442.22 202.88 L440.66 203.82 L439.11 204.77 L437.56 205.71 L436 206.65 L434.45 207.59 L432.9 208.53 L431.34 209.47 L429.79 210.41 L428.24 211.35 L426.68 212.29 L425.13 213.22 L423.58 214.16 L422.03 215.1 L420.47 216.03 L418.92 216.97 L417.37 217.9 L415.81 218.84 L414.26 219.77 L412.71 220.71 L411.15 221.64 L409.6 222.58" fill="none" stroke="#3cf03c" stroke-width="1" />
<path d="M658.1 46.32 L656.55 47.26 L654.99 48.19 L653.44 49.13 L651.89 50.06 L650.33 51 L648.78 51.93 L647.23 52.87 L645.68 53.8 L644.12 54.74 L642.57 55.68 L641.02 56.61 L639.46 57.55 L637.91 58.49 L636.36 59.43 L634.8 60.37 L633.25 61.31 L631.7 62.25 L630.14 63.19 L628.59 64.13 L627.04 65.08 L625.48 66.02 L623.93 66.97 L622.38 67.92 L620.83 68.87 L619.27 69.82 L617.72 70.77 L616.17 71.72 L614.61 72.68 L613.06 73.64 L611.51 74.6 L609.95 75.56 L608.4 76.53 L606.85 77.49 L605.29 78.47 L603.74 79.44 L602.19 80.42 L600.63 81.41 L599.08 82.39 L597.53 83.39 L595.98 84.39 L594.42 85.39 L592.87 86.4 L591.32 87.42 L589.76 88.45 L588.21 89.48 L586.66 90.52 L585.1 91.57 L583.55 92.63 L582 93.7 L580.44 94.78 L578.89 95.88 L577.34 96.99 L575.78 98.11 L574.23 99.24 L572.68 100.39 L571.12 101.56 L569.57 102.74 L568.02 103.94 L566.47 105.15 L564.91 106.39 L563.36 107.65 L561.81 108.92 L560.25 110.22 L558.7 111.53 L557.15 112.87 L555.59 114.23 L554.04 115.6 L552.49 117 L550.93 118.42 L549.38 119.85 L547.83 121.31 L546.27 122.78 L544.72 124.26 L543.17 125.76 L541.62 127.27 L540.06 128.79 L538.51 130.31 L536.96 131.85 L535.4 133.38 L533.85 134.92 L532.3 136.45 L530.74 137.98 L529.19 139.5 L527.64 141.02 L526.08 142.52 L524.53 144.01 L522.98 145.49 L521.42 146.95 L519.87 148.39 L518.32 149.82 L516.77 151.22 L515.21 152.61 L513.66 153.98 L512.11 155.32 L510.55 156.65 L509 157.95 L507.45 159.24 L505.89 160.5 L504.34 161.75 L502.79 162.97 L501.23 164.18 L499.68 165.37 L498.13 166.54 L496.58 167.7 L495.02 168.84 L493.47 169.97 L491.92 171.08 L490.36 172.18 L488.81 173.27 L487.26 174.34 L485.7 175.41 L484.15 176.46 L482.6 177.51 L481.04 178.55 L479.49 179.57 L477.94 180.6 L476.38 181.61 L474.83 182.62 L473.28 183.62 L471.73 184.61 L470.17 185.61 L468.62 186.59 L467.07 187.57 L465.51 188.55 L463.96 189.52 L462.41 190.49 L460.85 191.46 L459.3 192.43 L457.75 193.39 L456.19 194.35 L454.64 195.3 L453.09 196.26 L451.53 197.21 L449.98 198.16 L448.43 199.11 L446.88 200.06 L445.32 201.01 L443.77 201.95 L442.22 202.9 L440.66 203.84 L439.11 204.78 L437.56 205.72 L436 206.66 L434.45 207.6 L432.9 208.54 L431.34 209.48 L429.79 210.42 L428.24 211.36 L426.68 212.29 L425.13 213.23 L423.58 214.17 L422.03 215.1 L420.47 216.04 L418.92 216.97 L417.37 217.91 L415.81 218.84 L414.26 219.78 L412.71 220.71 L411.15 221.65 L409.6 222.58" fill="none" stroke="#3cf03c" stroke-width="1" />
<path d="M658.1 40.6 L656.55 41.53 L654.99 42.46 L653.44 43.4 L651.89 44.33 L650.33 45.26 L648.78 46.19 L647.23 47.12 L645.68 48.06 L644.12 48.99 L642.57 49.92 L641.02 50.85 L639.46 51.78 L637.91 52.71 L636.36 53.65 L634.8 54.58 L633.25 55.51 L631.7 56.44 L630.14 57.38 L628.59 58.31 L627.04 59.24 L625.48 60.17 L623.93 61.1 L622.38 62.04 L620.83 62.97 L619.27 63.9 L617.72 64.83 L616.17 65.77 L614.61 66.7 L613.06 67.63 L611.51 68.57 L609.95 69.5 L608.4 70.43 L606.85 71.37 L605.29 72.3 L603.74 73.24 L602.19 74.17 L600.63 75.11 L599.08 76.05 L597.53 76.98 L595.98 77.92 L594.42 78.86 L592.87 79.8 L591.32 80.75 L589.76 81.69 L588.21 82.64 L586.66 83.59 L585.1 84.55 L583.55 85.51 L582 86.47 L580.44 87.44 L578.89 88.41 L577.34 89.39 L575.78 90.38 L574.23 91.39 L572.68 92.4 L571.12 93.43 L569.57 94.47 L568.02 95.53 L566.47 96.62 L564.91 97.73 L563.36 98.87 L561.81 100.04 L560.25 101.25 L558.7 102.51 L557.15 103.82 L555.59 105.18 L554.04 106.61 L552.49 108.11 L550.93 109.68 L549.38 111.34 L547.83 113.09 L546.27 114.94 L544.72 116.88 L543.17 118.92 L541.62 121.06 L540.06 123.29 L538.51 125.61 L536.96 128 L535.4 130.44 L533.85 132.93 L532.3 135.44 L530.74 137.94 L529.19 140.43 L527.64 142.87 L526.08 145.25 L524.53 147.56 L522.98 149.79 L521.42 151.92 L519.87 153.96 L518.32 155.89 L516.77 157.73 L515.21 159.48 L513.66 161.13 L512.11 162.7 L510.55 164.19 L509 165.62 L507.45 166.98 L505.89 168.28 L504.34 169.53 L502.79 170.74 L501.23 171.91 L499.68 173.05 L498.13 174.16 L496.58 175.24 L495.02 176.3 L493.47 177.34 L491.92 178.37 L490.36 179.38 L488.81 180.38 L487.26 181.37 L485.7 182.36 L484.15 183.33 L482.6 184.3 L481.04 185.26 L479.49 186.22 L477.94 187.17 L476.38 188.12 L474.83 189.07 L473.28 190.02 L471.73 190.96 L470.17 191.9 L468.62 192.84 L467.07 193.78 L465.51 194.72 L463.96 195.66 L462.41 196.59 L460.85 197.53 L459.3 198.46 L457.75 199.4 L456.19 200.33 L454.64 201.26 L453.09 202.2 L451.53 203.13 L449.98 204.06 L448.43 205 L446.88 205.93 L445.32 206.86 L443.77 207.8 L442.22 208.73 L440.66 209.66 L439.11 210.59 L437.56 211.52 L436 212.46 L434.45 213.39 L432.9 214.32 L431.34 215.25 L429.79 216.18 L428.24 217.12 L426.68 218.05 L425.13 218.98 L423.58 219.91 L422.03 220.84 L420.47 221.78 L418.92 222.71 L417.37 223.64 L415.81 224.57 L414.26 225.5 L412.71 226.44 L411.15 227.37 L409.6 228.3" fill="none" stroke="#1e8a2a" stroke-width="1" />
<path d="M658.1 40.6 L656.55 41.53 L654.99 42.46 L653.44 43.4 L651.89 44.33 L650.33 45.26 L648.78 46.19 L647.23 47.12 L645.68 48.06 L644.12 48.99 L642.57 49.92 L641.02 50.85 L639.46 51.78 L637.91 52.72 L636.36 53.65 L634.8 54.58 L633.25 55.51 L631.7 56.44 L630.14 57.38 L628.59 58.31 L627.04 59.24 L625.48 60.17 L623.93 61.1 L622.38 62.04 L620.83 62.97 L619.27 63.9 L617.72 64.84 L616.17 65.77 L614.61 66.7 L613.06 67.64 L611.51 68.57 L609.95 69.5 L608.4 70.44 L606.85 71.37 L605.29 72.31 L603.74 73.24 L602.19 74.18 L600.63 75.12 L599.08 76.06 L597.53 77 L595.98 77.94 L594.42 78.88 L592.87 79.83 L591.32 80.78 L589.76 81.73 L588.21 82.68 L586.66 83.64 L585.1 84.6 L583.55 85.57 L582 86.54 L580.44 87.53 L578.89 88.52 L577.34 89.52 L575.78 90.53 L574.23 91.56 L572.68 92.6 L571.12 93.66 L569.57 94.74 L568.02 95.85 L566.47 96.99 L564.91 98.16 L563.36 99.37 L561.81 100.62 L560.25 101.92 L558.7 103.28 L557.15 104.71 L555.59 106.2 L554.04 107.77 L552.49 109.42 L550.93 111.17 L549.38 113.01 L547.83 114.94 L546.27 116.98 L544.72 119.11 L543.17 121.34 L541.62 123.65 L540.06 126.03 L538.51 128.47 L536.96 130.96 L535.4 133.46 L533.85 135.97 L532.3 138.46 L530.74 140.9 L529.19 143.29 L527.64 145.61 L526.08 147.84 L524.53 149.98 L522.98 152.02 L521.42 153.96 L519.87 155.81 L518.32 157.56 L516.77 159.22 L515.21 160.79 L513.66 162.29 L512.11 163.72 L510.55 165.08 L509 166.39 L507.45 167.65 L505.89 168.86 L504.34 170.03 L502.79 171.17 L501.23 172.28 L499.68 173.37 L498.13 174.43 L496.58 175.47 L495.02 176.5 L493.47 177.51 L491.92 178.52 L490.36 179.51 L488.81 180.49 L487.26 181.46 L485.7 182.43 L484.15 183.39 L482.6 184.35 L481.04 185.31 L479.49 186.26 L477.94 187.21 L476.38 188.15 L474.83 189.1 L473.28 190.04 L471.73 190.98 L470.17 191.92 L468.62 192.85 L467.07 193.79 L465.51 194.73 L463.96 195.66 L462.41 196.6 L460.85 197.53 L459.3 198.47 L457.75 199.4 L456.19 200.33 L454.64 201.27 L453.09 202.2 L451.53 203.13 L449.98 204.07 L448.43 205 L446.88 205.93 L445.32 206.86 L443.77 207.8 L442.22 208.73 L440.66 209.66 L439.11 210.59 L437.56 211.52 L436 212.46 L434.45 213.39 L432.9 214.32 L431.34 215.25 L429.79 216.19 L428.24 217.12 L426.68 218.05 L425.13 218.98 L423.58 219.91 L422.03 220.84 L420.47 221.78 L418.92 222.71 L417.37 223.64 L415.81 224.57 L414.26 225.5 L412.71 226.44 L411.15 227.37 L409.6 228.3" fill="none" stroke="#1e8a2a" stroke-width="1" />
<path d="M658.1 35.41 L656.55 36.38 L654.99 37.34 L653.44 38.3 L651.89 39.27 L650.33 40.23 L648.78 41.19 L647.23 42.16 L645.68 43.12 L644.12 44.08 L642.57 45.04 L641.02 46.01 L639.46 46.97 L637.91 47.93 L636.36 48.9 L634.8 49.86 L633.25 50.82 L631.7 51.78 L630.14 52.75 L628.59 53.71 L627.04 54.67 L625.48 55.64 L623.93 56.6 L622.38 57.56 L620.83 58.53 L619.27 59.49 L617.72 60.45 L616.17 61.41 L614.61 62.38 L613.06 63.34 L611.51 64.3 L609.95 65.27 L608.4 66.23 L606.85 67.19 L605.29 68.15 L603.74 69.12 L602.19 70.08 L600.63 71.04 L599.08 72.01 L597.53 72.97 L595.98 73.93 L594.42 74.9 L592.87 75.86 L591.32 76.82 L589.76 77.78 L588.21 78.75 L586.66 79.71 L585.1 80.67 L583.55 81.64 L582 82.6 L580.44 83.56 L578.89 84.52 L577.34 85.49 L575.78 86.45 L574.23 87.41 L572.68 88.38 L571.12 89.34 L569.57 90.3 L568.02 91.27 L566.47 92.23 L564.91 93.19 L563.36 94.16 L561.81 95.12 L560.25 96.09 L558.7 97.05 L557.15 98.02 L555.59 99 L554.04 99.98 L552.49 100.97 L550.93 101.98 L549.38 103.02 L547.83 104.1 L546.27 105.26 L544.72 106.53 L543.17 107.98 L541.62 109.71 L540.06 111.85 L538.51 114.58 L536.96 118.09 L535.4 122.53 L533.85 127.89 L532.3 133.9 L530.74 140.08 L529.19 145.87 L527.64 150.85 L526.08 154.88 L524.53 158.04 L522.98 160.5 L521.42 162.44 L519.87 164.04 L518.32 165.41 L516.77 166.62 L515.21 167.74 L513.66 168.81 L512.11 169.83 L510.55 170.83 L509 171.82 L507.45 172.8 L505.89 173.77 L504.34 174.74 L502.79 175.7 L501.23 176.67 L499.68 177.63 L498.13 178.6 L496.58 179.56 L495.02 180.52 L493.47 181.49 L491.92 182.45 L490.36 183.41 L488.81 184.38 L487.26 185.34 L485.7 186.3 L484.15 187.26 L482.6 188.23 L481.04 189.19 L479.49 190.15 L477.94 191.12 L476.38 192.08 L474.83 193.04 L473.28 194 L471.73 194.97 L470.17 195.93 L468.62 196.89 L467.07 197.86 L465.51 198.82 L463.96 199.78 L462.41 200.75 L460.85 201.71 L459.3 202.67 L457.75 203.63 L456.19 204.6 L454.64 205.56 L453.09 206.52 L451.53 207.49 L449.98 208.45 L448.43 209.41 L446.88 210.37 L445.32 211.34 L443.77 212.3 L442.22 213.26 L440.66 214.23 L439.11 215.19 L437.56 216.15 L436 217.12 L434.45 218.08 L432.9 219.04 L431.34 220 L429.79 220.97 L428.24 221.93 L426.68 222.89 L425.13 223.86 L423.58 224.82 L422.03 225.78 L420.47 226.74 L418.92 227.71 L417.37 228.67 L415.81 229.63 L414.26 230.6 L412.71 231.56 L411.15 232.52 L409.6 233.48" fill="none" stroke="#c060e8" stroke-width="1" />
<path d="M658.1 35.41 L656.55 36.38 L654.99 37.34 L653.44 38.3 L651.89 39.27 L650.33 40.23 L648.78 41.19 L647.23 42.16 L645.68 43.12 L644.12 44.08 L642.57 45.04 L641.02 46.01 L639.46 46.97 L637.91 47.93 L636.36 48.9 L634.8 49.86 L633.25 50.82 L631.7 51.78 L630.14 52.75 L628.59 53.71 L627.04 54.67 L625.48 55.64 L623.93 56.6 L622.38 57.56 L620.83 58.53 L619.27 59.49 L617.72 60.45 L616.17 61.41 L614.61 62.38 L613.06 63.34 L611.51 64.3 L609.95 65.27 L608.4 66.23 L606.85 67.19 L605.29 68.15 L603.74 69.12 L602.19 70.08 L600.63 71.04 L599.08 72.01 L597.53 72.97 L595.98 73.93 L594.42 74.9 L592.87 75.86 L591.32 76.82 L589.76 77.78 L588.21 78.75 L586.66 79.71 L585.1 80.67 L583.55 81.64 L582 82.6 L580.44 83.56 L578.89 84.52 L577.34 85.49 L575.78 86.45 L574.23 87.41 L572.68 88.38 L571.12 89.34 L569.57 90.3 L568.02 91.27 L566.47 92.23 L564.91 93.2 L563.36 94.16 L561.81 95.13 L560.25 96.1 L558.7 97.08 L557.15 98.07 L555.59 99.07 L554.04 100.09 L552.49 101.16 L550.93 102.28 L549.38 103.49 L547.83 104.86 L546.27 106.46 L544.72 108.4 L543.17 110.86 L541.62 114.02 L540.06 118.05 L538.51 123.03 L536.96 128.82 L535.4 135 L533.85 141.01 L532.3 146.37 L530.74 150.81 L529.19 154.32 L527.64 157.05 L526.08 159.19 L524.53 160.92 L522.98 162.37 L521.42 163.64 L519.87 164.8 L518.32 165.88 L516.77 166.92 L515.21 167.93 L513.66 168.92 L512.11 169.9 L510.55 170.88 L509 171.85 L507.45 172.81 L505.89 173.78 L504.34 174.74 L502.79 175.71 L501.23 176.67 L499.68 177.63 L498.13 178.6 L496.58 179.56 L495.02 180.52 L493.47 181.49 L491.92 182.45 L490.36 183.41 L488.81 184.38 L487.26 185.34 L485.7 186.3 L484.15 187.26 L482.6 188.23 L481.04 189.19 L479.49 190.15 L477.94 191.12 L476.38 192.08 L474.83 193.04 L473.28 194 L471.73 194.97 L470.17 195.93 L468.62 196.89 L467.07 197.86 L465.51 198.82 L463.96 199.78 L462.41 200.75 L460.85 201.71 L459.3 202.67 L457.75 203.63 L456.19 204.6 L454.64 205.56 L453.09 206.52 L451.53 207.49 L449.98 208.45 L448.43 209.41 L446.88 210.37 L445.32 211.34 L443.77 212.3 L442.22 213.26 L440.66 214.23 L439.11 215.19 L437.56 216.15 L436 217.12 L434.45 218.08 L432.9 219.04 L431.34 220 L429.79 220.97 L428.24 221.93 L426.68 222.89 L425.13 223.86 L423.58 224.82 L422.03 225.78 L420.47 226.74 L418.92 227.71 L417.37 228.67 L415.81 229.63 L414.26 230.6 L412.71 231.56 L411.15 232.52 L409.6 233.48" fill="none" stroke="#c060e8" stroke-width="1" />
<path d="M658.1 31.03 L657.6 31.35 L657.11 31.67 L656.61 31.98 L656.11 32.3 L655.62 32.62 L655.12 32.94 L654.62 33.26 L654.12 33.57 L653.63 33.89 L653.13 34.21 L652.63 34.53 L652.14 34.85 L651.64 35.17 L651.14 35.48 L650.64 35.8 L650.15 36.12 L649.65 36.44 L649.15 36.76 L648.66 37.07 L648.16 37.39 L647.66 37.71 L647.17 38.03 L646.67 38.35 L646.17 38.66 L645.68 38.98 L645.18 39.3 L644.68 39.62 L644.18 39.94 L643.69 40.25 L643.19 40.57 L642.69 40.89 L642.2 41.21 L641.7 41.53 L641.2 41.84 L640.71 42.16 L640.21 42.48 L639.71 42.8 L639.21 43.12 L638.72 43.44 L638.22 43.75 L637.72 44.07 L637.23 44.39 L636.73 44.71 L636.23 45.03 L635.74 45.34 L635.24 45.66 L634.74 45.98 L634.24 46.3 L633.75 46.62 L633.25 46.93 L632.75 47.25 L632.26 47.57 L631.76 47.89 L631.26 48.21 L630.76 48.52 L630.27 48.84 L629.77 49.16 L629.27 49.48 L628.78 49.8 L628.28 50.11 L627.78 50.43 L627.29 50.75 L626.79 51.07 L626.29 51.39 L625.8 51.71 L625.3 52.02 L624.8 52.34 L624.3 52.66 L623.81 52.98 L623.31 53.3 L622.81 53.61 L622.32 53.93 L621.82 54.25 L621.32 54.57 L620.83 54.89 L620.33 55.2 L619.83 55.52 L619.33 55.84 L618.84 56.16 L618.34 56.48 L617.84 56.79 L617.35 57.11 L616.85 57.43 L616.35 57.75 L615.86 58.07 L615.36 58.38 L614.86 58.7 L614.36 59.02 L613.87 59.34 L613.37 59.66 L612.87 59.98 L612.38 60.29 L611.88 60.61 L611.38 60.93 L610.88 61.25 L610.39 61.57 L609.89 61.88 L609.39 62.2 L608.9 62.52 L608.4 62.84 L607.9 63.16 L607.41 63.47 L606.91 63.79 L606.41 64.11 L605.91 64.43 L605.42 64.75 L604.92 65.06 L604.42 65.38 L603.93 65.7 L603.43 66.02 L602.93 66.34 L602.44 66.65 L601.94 66.97 L601.44 67.29 L600.95 67.61 L600.45 67.93 L599.95 68.25 L599.45 68.56 L598.96 68.88 L598.46 69.2 L597.96 69.52 L597.47 69.84 L596.97 70.15 L596.47 70.47 L595.98 70.79 L595.48 71.11 L594.98 71.43 L594.48 71.74 L593.99 72.06 L593.49 72.38 L592.99 72.7 L592.5 73.02 L592 73.33 L591.5 73.65 L591 73.97 L590.51 74.29 L590.01 74.61 L589.51 74.93 L589.02 75.24 L588.52 75.56 L588.02 75.88 L587.53 76.2 L587.03 76.52 L586.53 76.83 L586.04 77.15 L585.54 77.47 L585.04 77.79 L584.54 78.11 L584.05 78.42 L583.55 78.74 L583.05 79.06 L582.56 79.38 L582.06 79.7 L581.56 80.01 L581.07 80.33 L580.57 80.65 L580.07 80.97 L579.57 81.29 L579.08 81.6 L578.58 81.92 L578.08 82.24 L577.59 82.56 L577.09 82.88 L576.59 83.2 L576.1 83.51 L575.6 83.83 L575.1 84.15 L574.6 84.47 L574.11 84.79 L573.61 85.1 L573.11 85.42 L572.62 85.74 L572.12 86.06 L571.62 86.38 L571.12 86.69 L570.63 87.01 L570.13 87.33 L569.63 87.65 L569.14 87.97 L568.64 88.28 L568.14 88.6 L567.65 88.92 L567.15 89.24 L566.65 89.56 L566.15 89.87 L565.66 90.19 L565.16 90.51 L564.66 90.83 L564.17 91.15 L563.67 91.47 L563.17 91.78 L562.68 92.1 L562.18 92.42 L561.68 92.74 L561.19 93.06 L560.69 93.37 L560.19 93.69 L559.69 94.01 L559.2 94.33 L558.7 94.65 L558.2 94.96 L557.71 95.28 L557.21 95.6 L556.71 95.92 L556.22 96.24 L555.72 96.55 L555.22 96.87 L554.72 97.19 L554.23 97.51 L553.73 97.83 L553.23 98.14 L552.74 98.46 L552.24 98.78 L551.74 99.1 L551.25 99.42 L550.75 99.74 L550.25 100.05 L549.75 100.37 L549.26 100.69 L548.76 101.01 L548.26 101.33 L547.77 101.64 L547.27 101.96 L546.77 102.28 L546.27 102.6 L545.78 102.92 L545.28 103.23 L544.78 103.55 L544.29 103.87 L543.79 104.19 L543.29 104.51 L542.8 104.83 L542.3 105.15 L541.8 105.46 L541.31 105.78 L540.81 106.1 L540.31 106.43 L539.81 106.75 L539.32 107.08 L538.82 107.41 L538.32 107.75 L537.83 108.12 L537.33 108.51 L536.83 108.98 L536.34 109.57 L535.84 110.4 L535.34 111.6 L534.84 113.3 L534.35 115.47 L533.85 117.97 L533.35 120.64 L532.86 123.36 L532.36 126.09 L531.86 128.84 L531.37 131.58 L530.87 134.32 L530.37 137.06 L529.87 139.8 L529.38 142.55 L528.88 145.29 L528.38 148.03 L527.89 150.76 L527.39 153.47 L526.89 156.1 L526.39 158.51 L525.9 160.55 L525.4 162.08 L524.9 163.15 L524.41 163.89 L523.91 164.43 L523.41 164.87 L522.92 165.25 L522.42 165.61 L521.92 165.95 L521.42 166.28 L520.93 166.61 L520.43 166.93 L519.93 167.25 L519.44 167.57 L518.94 167.89 L518.44 168.21 L517.95 168.53 L517.45 168.85 L516.95 169.16 L516.46 169.48 L515.96 169.8 L515.46 170.12 L514.96 170.44 L514.47 170.75 L513.97 171.07 L513.47 171.39 L512.98 171.71 L512.48 172.03 L511.98 172.35 L511.49 172.66 L510.99 172.98 L510.49 173.3 L509.99 173.62 L509.5 173.94 L509 174.25 L508.5 174.57 L508.01 174.89 L507.51 175.21 L507.01 175.53 L506.51 175.84 L506.02 176.16 L505.52 176.48 L505.02 176.8 L504.53 177.12 L504.03 177.43 L503.53 177.75 L503.04 178.07 L502.54 178.39 L502.04 178.71 L501.55 179.03 L501.05 179.34 L500.55 179.66 L500.05 179.98 L499.56 180.3 L499.06 180.62 L498.56 180.93 L498.07 181.25 L497.57 181.57 L497.07 181.89 L496.58 182.21 L496.08 182.52 L495.58 182.84 L495.08 183.16 L494.59 183.48 L494.09 183.8 L493.59 184.11 L493.1 184.43 L492.6 184.75 L492.1 185.07 L491.61 185.39 L491.11 185.7 L490.61 186.02 L490.11 186.34 L489.62 186.66 L489.12 186.98 L488.62 187.3 L488.13 187.61 L487.63 187.93 L487.13 188.25 L486.63 188.57 L486.14 188.89 L485.64 189.2 L485.14 189.52 L484.65 189.84 L484.15 190.16 L483.65 190.48 L483.16 190.79 L482.66 191.11 L482.16 191.43 L481.67 191.75 L481.17 192.07 L480.67 192.38 L480.17 192.7 L479.68 193.02 L479.18 193.34 L478.68 193.66 L478.19 193.97 L477.69 194.29 L477.19 194.61 L476.7 194.93 L476.2 195.25 L475.7 195.57 L475.2 195.88 L474.71 196.2 L474.21 196.52 L473.71 196.84 L473.22 197.16 L472.72 197.47 L472.22 197.79 L471.73 198.11 L471.23 198.43 L470.73 198.75 L470.23 199.06 L469.74 199.38 L469.24 199.7 L468.74 200.02 L468.25 200.34 L467.75 200.65 L467.25 200.97 L466.75 201.29 L466.26 201.61 L465.76 201.93 L465.26 202.25 L464.77 202.56 L464.27 202.88 L463.77 203.2 L463.28 203.52 L462.78 203.84 L462.28 204.15 L461.79 204.47 L461.29 204.79 L460.79 205.11 L460.29 205.43 L459.8 205.74 L459.3 206.06 L458.8 206.38 L458.31 206.7 L457.81 207.02 L457.31 207.33 L456.82 207.65 L456.32 207.97 L455.82 208.29 L455.32 208.61 L454.83 208.92 L454.33 209.24 L453.83 209.56 L453.34 209.88 L452.84 210.2 L452.34 210.52 L451.85 210.83 L451.35 211.15 L450.85 211.47 L450.35 211.79 L449.86 212.11 L449.36 212.42 L448.86 212.74 L448.37 213.06 L447.87 213.38 L447.37 213.7 L446.88 214.01 L446.38 214.33 L445.88 214.65 L445.38 214.97 L444.89 215.29 L444.39 215.6 L443.89 215.92 L443.4 216.24 L442.9 216.56 L442.4 216.88 L441.91 217.19 L441.41 217.51 L440.91 217.83 L440.41 218.15 L439.92 218.47 L439.42 218.79 L438.92 219.1 L438.43 219.42 L437.93 219.74 L437.43 220.06 L436.94 220.38 L436.44 220.69 L435.94 221.01 L435.44 221.33 L434.95 221.65 L434.45 221.97 L433.95 222.28 L433.46 222.6 L432.96 222.92 L432.46 223.24 L431.97 223.56 L431.47 223.87 L430.97 224.19 L430.47 224.51 L429.98 224.83 L429.48 225.15 L428.98 225.46 L428.49 225.78 L427.99 226.1 L427.49 226.42 L427 226.74 L426.5 227.06 L426 227.37 L425.5 227.69 L425.01 228.01 L424.51 228.33 L424.01 228.65 L423.52 228.96 L423.02 229.28 L422.52 229.6 L422.03 229.92 L421.53 230.24 L421.03 230.55 L420.53 230.87 L420.04 231.19 L419.54 231.51 L419.04 231.83 L418.55 232.14 L418.05 232.46 L417.55 232.78 L417.06 233.1 L416.56 233.42 L416.06 233.73 L415.56 234.05 L415.07 234.37 L414.57 234.69 L414.07 235.01 L413.58 235.33 L413.08 235.64 L412.58 235.96 L412.09 236.28 L411.59 236.6 L411.09 236.92 L410.59 237.23 L410.1 237.55 L409.6 237.87" fill="none" stroke="#1414e6" stroke-width="1.05" />
<path d="M658.1 31.03 L657.6 31.35 L657.11 31.67 L656.61 31.98 L656.11 32.3 L655.62 32.62 L655.12 32.94 L654.62 33.26 L654.12 33.57 L653.63 33.89 L653.13 34.21 L652.63 34.53 L652.14 34.85 L651.64 35.17 L651.14 35.48 L650.64 35.8 L650.15 36.12 L649.65 36.44 L649.15 36.76 L648.66 37.07 L648.16 37.39 L647.66 37.71 L647.17 38.03 L646.67 38.35 L646.17 38.66 L645.68 38.98 L645.18 39.3 L644.68 39.62 L644.18 39.94 L643.69 40.25 L643.19 40.57 L642.69 40.89 L642.2 41.21 L641.7 41.53 L641.2 41.84 L640.71 42.16 L640.21 42.48 L639.71 42.8 L639.21 43.12 L638.72 43.44 L638.22 43.75 L637.72 44.07 L637.23 44.39 L636.73 44.71 L636.23 45.03 L635.74 45.34 L635.24 45.66 L634.74 45.98 L634.24 46.3 L633.75 46.62 L633.25 46.93 L632.75 47.25 L632.26 47.57 L631.76 47.89 L631.26 48.21 L630.76 48.52 L630.27 48.84 L629.77 49.16 L629.27 49.48 L628.78 49.8 L628.28 50.11 L627.78 50.43 L627.29 50.75 L626.79 51.07 L626.29 51.39 L625.8 51.71 L625.3 52.02 L624.8 52.34 L624.3 52.66 L623.81 52.98 L623.31 53.3 L622.81 53.61 L622.32 53.93 L621.82 54.25 L621.32 54.57 L620.83 54.89 L620.33 55.2 L619.83 55.52 L619.33 55.84 L618.84 56.16 L618.34 56.48 L617.84 56.79 L617.35 57.11 L616.85 57.43 L616.35 57.75 L615.86 58.07 L615.36 58.38 L614.86 58.7 L614.36 59.02 L613.87 59.34 L613.37 59.66 L612.87 59.98 L612.38 60.29 L611.88 60.61 L611.38 60.93 L610.88 61.25 L610.39 61.57 L609.89 61.88 L609.39 62.2 L608.9 62.52 L608.4 62.84 L607.9 63.16 L607.41 63.47 L606.91 63.79 L606.41 64.11 L605.91 64.43 L605.42 64.75 L604.92 65.06 L604.42 65.38 L603.93 65.7 L603.43 66.02 L602.93 66.34 L602.44 66.65 L601.94 66.97 L601.44 67.29 L600.95 67.61 L600.45 67.93 L599.95 68.25 L599.45 68.56 L598.96 68.88 L598.46 69.2 L597.96 69.52 L597.47 69.84 L596.97 70.15 L596.47 70.47 L595.98 70.79 L595.48 71.11 L594.98 71.43 L594.48 71.74 L593.99 72.06 L593.49 72.38 L592.99 72.7 L592.5 73.02 L592 73.33 L591.5 73.65 L591 73.97 L590.51 74.29 L590.01 74.61 L589.51 74.93 L589.02 75.24 L588.52 75.56 L588.02 75.88 L587.53 76.2 L587.03 76.52 L586.53 76.83 L586.04 77.15 L585.54 77.47 L585.04 77.79 L584.54 78.11 L584.05 78.42 L583.55 78.74 L583.05 79.06 L582.56 79.38 L582.06 79.7 L581.56 80.01 L581.07 80.33 L580.57 80.65 L580.07 80.97 L579.57 81.29 L579.08 81.6 L578.58 81.92 L578.08 82.24 L577.59 82.56 L577.09 82.88 L576.59 83.2 L576.1 83.51 L575.6 83.83 L575.1 84.15 L574.6 84.47 L574.11 84.79 L573.61 85.1 L573.11 85.42 L572.62 85.74 L572.12 86.06 L571.62 86.38 L571.12 86.69 L570.63 87.01 L570.13 87.33 L569.63 87.65 L569.14 87.97 L568.64 88.28 L568.14 88.6 L567.65 88.92 L567.15 89.24 L566.65 89.56 L566.15 89.87 L565.66 90.19 L565.16 90.51 L564.66 90.83 L564.17 91.15 L563.67 91.47 L563.17 91.78 L562.68 92.1 L562.18 92.42 L561.68 92.74 L561.19 93.06 L560.69 93.37 L560.19 93.69 L559.69 94.01 L559.2 94.33 L558.7 94.65 L558.2 94.96 L557.71 95.28 L557.21 95.6 L556.71 95.92 L556.22 96.24 L555.72 96.55 L555.22 96.87 L554.72 97.19 L554.23 97.51 L553.73 97.83 L553.23 98.15 L552.74 98.46 L552.24 98.78 L551.74 99.1 L551.25 99.42 L550.75 99.74 L550.25 100.05 L549.75 100.37 L549.26 100.69 L548.76 101.01 L548.26 101.33 L547.77 101.65 L547.27 101.97 L546.77 102.29 L546.27 102.62 L545.78 102.95 L545.28 103.29 L544.78 103.65 L544.29 104.03 L543.79 104.47 L543.29 105.01 L542.8 105.75 L542.3 106.82 L541.8 108.35 L541.31 110.39 L540.81 112.8 L540.31 115.43 L539.81 118.14 L539.32 120.87 L538.82 123.61 L538.32 126.35 L537.83 129.1 L537.33 131.84 L536.83 134.58 L536.34 137.32 L535.84 140.06 L535.34 142.81 L534.84 145.54 L534.35 148.26 L533.85 150.93 L533.35 153.43 L532.86 155.6 L532.36 157.3 L531.86 158.5 L531.37 159.33 L530.87 159.92 L530.37 160.39 L529.87 160.78 L529.38 161.15 L528.88 161.49 L528.38 161.82 L527.89 162.15 L527.39 162.47 L526.89 162.8 L526.39 163.12 L525.9 163.44 L525.4 163.75 L524.9 164.07 L524.41 164.39 L523.91 164.71 L523.41 165.03 L522.92 165.35 L522.42 165.67 L521.92 165.98 L521.42 166.3 L520.93 166.62 L520.43 166.94 L519.93 167.26 L519.44 167.57 L518.94 167.89 L518.44 168.21 L517.95 168.53 L517.45 168.85 L516.95 169.16 L516.46 169.48 L515.96 169.8 L515.46 170.12 L514.96 170.44 L514.47 170.76 L513.97 171.07 L513.47 171.39 L512.98 171.71 L512.48 172.03 L511.98 172.35 L511.49 172.66 L510.99 172.98 L510.49 173.3 L509.99 173.62 L509.5 173.94 L509 174.25 L508.5 174.57 L508.01 174.89 L507.51 175.21 L507.01 175.53 L506.51 175.84 L506.02 176.16 L505.52 176.48 L505.02 176.8 L504.53 177.12 L504.03 177.43 L503.53 177.75 L503.04 178.07 L502.54 178.39 L502.04 178.71 L501.55 179.03 L501.05 179.34 L500.55 179.66 L500.05 179.98 L499.56 180.3 L499.06 180.62 L498.56 180.93 L498.07 181.25 L497.57 181.57 L497.07 181.89 L496.58 182.21 L496.08 182.52 L495.58 182.84 L495.08 183.16 L494.59 183.48 L494.09 183.8 L493.59 184.11 L493.1 184.43 L492.6 184.75 L492.1 185.07 L491.61 185.39 L491.11 185.7 L490.61 186.02 L490.11 186.34 L489.62 186.66 L489.12 186.98 L488.62 187.3 L488.13 187.61 L487.63 187.93 L487.13 188.25 L486.63 188.57 L486.14 188.89 L485.64 189.2 L485.14 189.52 L484.65 189.84 L484.15 190.16 L483.65 190.48 L483.16 190.79 L482.66 191.11 L482.16 191.43 L481.67 191.75 L481.17 192.07 L480.67 192.38 L480.17 192.7 L479.68 193.02 L479.18 193.34 L478.68 193.66 L478.19 193.97 L477.69 194.29 L477.19 194.61 L476.7 194.93 L476.2 195.25 L475.7 195.57 L475.2 195.88 L474.71 196.2 L474.21 196.52 L473.71 196.84 L473.22 197.16 L472.72 197.47 L472.22 197.79 L471.73 198.11 L471.23 198.43 L470.73 198.75 L470.23 199.06 L469.74 199.38 L469.24 199.7 L468.74 200.02 L468.25 200.34 L467.75 200.65 L467.25 200.97 L466.75 201.29 L466.26 201.61 L465.76 201.93 L465.26 202.25 L464.77 202.56 L464.27 202.88 L463.77 203.2 L463.28 203.52 L462.78 203.84 L462.28 204.15 L461.79 204.47 L461.29 204.79 L460.79 205.11 L460.29 205.43 L459.8 205.74 L459.3 206.06 L458.8 206.38 L458.31 206.7 L457.81 207.02 L457.31 207.33 L456.82 207.65 L456.32 207.97 L455.82 208.29 L455.32 208.61 L454.83 208.92 L454.33 209.24 L453.83 209.56 L453.34 209.88 L452.84 210.2 L452.34 210.52 L451.85 210.83 L451.35 211.15 L450.85 211.47 L450.35 211.79 L449.86 212.11 L449.36 212.42 L448.86 212.74 L448.37 213.06 L447.87 213.38 L447.37 213.7 L446.88 214.01 L446.38 214.33 L445.88 214.65 L445.38 214.97 L444.89 215.29 L444.39 215.6 L443.89 215.92 L443.4 216.24 L442.9 216.56 L442.4 216.88 L441.91 217.19 L441.41 217.51 L440.91 217.83 L440.41 218.15 L439.92 218.47 L439.42 218.79 L438.92 219.1 L438.43 219.42 L437.93 219.74 L437.43 220.06 L436.94 220.38 L436.44 220.69 L435.94 221.01 L435.44 221.33 L434.95 221.65 L434.45 221.97 L433.95 222.28 L433.46 222.6 L432.96 222.92 L432.46 223.24 L431.97 223.56 L431.47 223.87 L430.97 224.19 L430.47 224.51 L429.98 224.83 L429.48 225.15 L428.98 225.46 L428.49 225.78 L427.99 226.1 L427.49 226.42 L427 226.74 L426.5 227.06 L426 227.37 L425.5 227.69 L425.01 228.01 L424.51 228.33 L424.01 228.65 L423.52 228.96 L423.02 229.28 L422.52 229.6 L422.03 229.92 L421.53 230.24 L421.03 230.55 L420.53 230.87 L420.04 231.19 L419.54 231.51 L419.04 231.83 L418.55 232.14 L418.05 232.46 L417.55 232.78 L417.06 233.1 L416.56 233.42 L416.06 233.73 L415.56 234.05 L415.07 234.37 L414.57 234.69 L414.07 235.01 L413.58 235.33 L413.08 235.64 L412.58 235.96 L412.09 236.28 L411.59 236.6 L411.09 236.92 L410.59 237.23 L410.1 237.55 L409.6 237.87" fill="none" stroke="#1414e6" stroke-width="1.05" />
<circle cx="648.16" cy="37.39" r="1.15" fill="#1414e6"/>
<circle cx="638.22" cy="43.75" r="1.15" fill="#1414e6"/>
<circle cx="628.28" cy="50.11" r="1.15" fill="#1414e6"/>
<circle cx="618.34" cy="56.48" r="1.15" fill="#1414e6"/>
<circle cx="608.4" cy="62.84" r="1.15" fill="#1414e6"/>
<circle cx="598.46" cy="69.2" r="1.15" fill="#1414e6"/>
<circle cx="588.52" cy="75.56" r="1.15" fill="#1414e6"/>
<circle cx="578.58" cy="81.92" r="1.15" fill="#1414e6"/>
<circle cx="568.64" cy="88.28" r="1.15" fill="#1414e6"/>
<circle cx="558.7" cy="94.65" r="1.15" fill="#1414e6"/>
<circle cx="548.76" cy="101.01" r="1.15" fill="#1414e6"/>
<circle cx="538.82" cy="107.41" r="1.15" fill="#1414e6"/>
<circle cx="533.85" cy="117.97" r="1.15" fill="#1414e6"/>
<circle cx="531.37" cy="131.58" r="1.15" fill="#1414e6"/>
<circle cx="528.88" cy="145.29" r="1.15" fill="#1414e6"/>
<circle cx="526.39" cy="158.51" r="1.15" fill="#1414e6"/>
<circle cx="519.44" cy="167.57" r="1.15" fill="#1414e6"/>
<circle cx="509.5" cy="173.94" r="1.15" fill="#1414e6"/>
<circle cx="499.56" cy="180.3" r="1.15" fill="#1414e6"/>
<circle cx="489.62" cy="186.66" r="1.15" fill="#1414e6"/>
<circle cx="479.68" cy="193.02" r="1.15" fill="#1414e6"/>
<circle cx="469.74" cy="199.38" r="1.15" fill="#1414e6"/>
<circle cx="459.8" cy="205.74" r="1.15" fill="#1414e6"/>
<circle cx="449.86" cy="212.11" r="1.15" fill="#1414e6"/>
<circle cx="439.92" cy="218.47" r="1.15" fill="#1414e6"/>
<circle cx="429.98" cy="224.83" r="1.15" fill="#1414e6"/>
<circle cx="420.04" cy="231.19" r="1.15" fill="#1414e6"/>
<circle cx="410.1" cy="237.55" r="1.15" fill="#1414e6"/>
<circle cx="419.54" cy="231.51" r="1.15" fill="#1414e6"/>
<circle cx="429.48" cy="225.15" r="1.15" fill="#1414e6"/>
<circle cx="439.42" cy="218.79" r="1.15" fill="#1414e6"/>
<circle cx="449.36" cy="212.42" r="1.15" fill="#1414e6"/>
<circle cx="459.3" cy="206.06" r="1.15" fill="#1414e6"/>
<circle cx="469.24" cy="199.7" r="1.15" fill="#1414e6"/>
<circle cx="479.18" cy="193.34" r="1.15" fill="#1414e6"/>
<circle cx="489.12" cy="186.98" r="1.15" fill="#1414e6"/>
<circle cx="499.06" cy="180.62" r="1.15" fill="#1414e6"/>
<circle cx="509" cy="174.25" r="1.15" fill="#1414e6"/>
<circle cx="518.94" cy="167.89" r="1.15" fill="#1414e6"/>
<circle cx="528.88" cy="161.49" r="1.15" fill="#1414e6"/>
<circle cx="533.85" cy="150.93" r="1.15" fill="#1414e6"/>
<circle cx="536.34" cy="137.32" r="1.15" fill="#1414e6"/>
<circle cx="538.82" cy="123.61" r="1.15" fill="#1414e6"/>
<circle cx="541.31" cy="110.39" r="1.15" fill="#1414e6"/>
<circle cx="548.26" cy="101.33" r="1.15" fill="#1414e6"/>
<circle cx="558.2" cy="94.96" r="1.15" fill="#1414e6"/>
<circle cx="568.14" cy="88.6" r="1.15" fill="#1414e6"/>
<circle cx="578.08" cy="82.24" r="1.15" fill="#1414e6"/>
<circle cx="588.02" cy="75.88" r="1.15" fill="#1414e6"/>
<circle cx="597.96" cy="69.52" r="1.15" fill="#1414e6"/>
<circle cx="607.9" cy="63.16" r="1.15" fill="#1414e6"/>
<circle cx="617.84" cy="56.79" r="1.15" fill="#1414e6"/>
<circle cx="627.78" cy="50.43" r="1.15" fill="#1414e6"/>
<circle cx="637.72" cy="44.07" r="1.15" fill="#1414e6"/>
<circle cx="647.66" cy="37.71" r="1.15" fill="#1414e6"/>
<circle cx="657.6" cy="31.35" r="1.15" fill="#1414e6"/>
<path d="M658.1 14.7 L654.32 16.63 L648.97 19.34 L642.69 22.54 L636.14 25.89 L630 29.08 L624.9 31.8 L620.91 34.03 L617.51 36.02 L614.51 37.86 L611.71 39.61 L608.9 41.37 L605.9 43.2 L602.73 45.11 L599.56 47.04 L596.39 48.96 L593.23 50.87 L590.06 52.76 L586.9 54.6 L583.75 56.38 L580.6 58.1 L577.45 59.8 L574.3 61.5 L571.15 63.22 L568 65 L564.75 66.89 L561.38 68.87 L558.01 70.89 L554.74 72.86 L551.7 74.72 L549 76.4 L546.63 77.89 L544.5 79.24 L542.59 80.49 L540.89 81.64 L539.36 82.74 L538 83.8 L536.89 84.73 L536.09 85.48 L535.46 86.17 L534.89 86.92 L534.28 87.82 L533.5 89 L532.56 90.44 L531.57 92.06 L530.52 93.83 L529.43 95.76 L528.32 97.82 L527.2 100 L526.05 102.32 L524.86 104.78 L523.64 107.38 L522.42 110.11 L521.2 112.95 L520 115.9 L518.79 119.08 L517.56 122.51 L516.34 126.07 L515.15 129.6 L514.03 132.95 L513 136 L512.1 138.69 L511.32 141.12 L510.6 143.38 L509.9 145.56 L509.19 147.74 L508.4 150 L507.55 152.35 L506.66 154.72 L505.76 157.09 L504.84 159.44 L503.92 161.75 L503 164 L502.1 166.18 L501.2 168.31 L500.29 170.41 L499.38 172.46 L498.45 174.49 L497.5 176.5 L496.51 178.52 L495.49 180.57 L494.44 182.58 L493.4 184.52 L492.38 186.34 L491.4 188 L490.46 189.46 L489.54 190.76 L488.64 191.94 L487.75 193.05 L486.87 194.12 L486 195.2 L485.29 196.13 L484.79 196.83 L484.29 197.5 L483.61 198.33 L482.55 199.5 L480.9 201.2 L478.66 203.54 L475.98 206.37 L472.91 209.55 L469.52 212.92 L465.87 216.32 L462 219.6 L457.75 222.87 L453.04 226.28 L448.06 229.72 L443.01 233.09 L438.09 236.28 L433.5 239.2 L428.97 241.94 L424.31 244.59 L419.77 247.07 L415.63 249.29 L412.15 251.13 L409.6 252.5" fill="none" stroke="#ff2b2b" stroke-width="1" />
<path d="M409.6 254.2 L413.38 252.27 L418.73 249.56 L425.01 246.36 L431.56 243.01 L437.7 239.82 L442.8 237.1 L446.79 234.87 L450.19 232.88 L453.19 231.04 L455.99 229.29 L458.8 227.53 L461.8 225.7 L464.97 223.79 L468.14 221.86 L471.31 219.94 L474.47 218.03 L477.64 216.14 L480.8 214.3 L483.95 212.52 L487.1 210.8 L490.25 209.1 L493.4 207.4 L496.55 205.68 L499.7 203.9 L502.95 202.01 L506.32 200.03 L509.69 198.01 L512.96 196.04 L516 194.18 L518.7 192.5 L521.07 191.01 L523.2 189.66 L525.11 188.41 L526.81 187.26 L528.34 186.16 L529.7 185.1 L530.81 184.17 L531.61 183.42 L532.24 182.72 L532.81 181.98 L533.42 181.08 L534.2 179.9 L535.14 178.46 L536.13 176.84 L537.18 175.07 L538.27 173.14 L539.38 171.08 L540.5 168.9 L541.65 166.58 L542.84 164.12 L544.06 161.52 L545.28 158.79 L546.5 155.95 L547.7 153 L548.91 149.82 L550.14 146.39 L551.36 142.83 L552.55 139.3 L553.67 135.95 L554.7 132.9 L555.6 130.21 L556.38 127.78 L557.1 125.52 L557.8 123.34 L558.51 121.16 L559.3 118.9 L560.15 116.55 L561.04 114.18 L561.94 111.81 L562.86 109.46 L563.78 107.15 L564.7 104.9 L565.6 102.72 L566.5 100.59 L567.41 98.49 L568.32 96.44 L569.25 94.41 L570.2 92.4 L571.19 90.38 L572.21 88.33 L573.26 86.32 L574.3 84.38 L575.32 82.56 L576.3 80.9 L577.24 79.44 L578.16 78.14 L579.06 76.96 L579.95 75.85 L580.83 74.78 L581.7 73.7 L582.41 72.77 L582.91 72.07 L583.41 71.4 L584.09 70.57 L585.15 69.4 L586.8 67.7 L589.04 65.36 L591.72 62.53 L594.79 59.35 L598.18 55.98 L601.83 52.58 L605.7 49.3 L609.95 46.03 L614.66 42.62 L619.64 39.18 L624.69 35.81 L629.61 32.62 L634.2 29.7 L638.73 26.96 L643.39 24.31 L647.93 21.82 L652.07 19.61 L655.55 17.77 L658.1 16.4" fill="none" stroke="#ff2b2b" stroke-width="1" />
<path d="M533.85 134.45 L534.25 134.02 L534.8 133.46 L535.46 132.77 L536.16 131.99 L536.86 131.13 L537.5 130.2 L538.1 129.17 L538.7 128.01 L539.3 126.78 L539.88 125.5 L540.45 124.23 L541 123 L541.48 121.91 L541.89 120.95 L542.27 119.99 L542.7 118.91 L543.23 117.59 L543.9 115.9 L544.73 113.74 L545.67 111.19 L546.71 108.39 L547.83 105.49 L548.99 102.65 L550.2 100 L551.47 97.52 L552.81 95.09 L554.21 92.7 L555.64 90.37 L557.08 88.1 L558.5 85.9 L559.88 83.78 L561.25 81.73 L562.62 79.75 L564.02 77.81 L565.47 75.9 L567 74 L568.6 72.09 L570.24 70.17 L571.94 68.28 L573.7 66.45 L575.52 64.71 L577.4 63.1 L579.33 61.66 L581.31 60.38 L583.36 59.19 L585.47 58.02 L587.68 56.82 L590 55.5 L592.42 54.11 L594.94 52.72 L597.54 51.28 L600.24 49.77 L603.03 48.15 L605.9 46.4 L608.95 44.42 L612.18 42.22 L615.51 39.91 L618.82 37.61 L622.02 35.44 L625 33.5 L627.7 31.85 L630.19 30.4 L632.56 29.07 L634.92 27.78 L637.37 26.45 L640 25 L643.05 23.3 L646.47 21.41 L649.99 19.47 L653.29 17.65 L656.09 16.11 L658.1 15" fill="none" stroke="#ff2b2b" stroke-width="0.9" />
</g>
<line x1="409.6" y1="9.8" x2="409.6" y2="259.1" stroke="#000" stroke-width="1.4" />
<line x1="658.1" y1="9.8" x2="658.1" y2="259.1" stroke="#000" stroke-width="1.4" />
<line x1="408.9" y1="10.5" x2="658.8" y2="10.5" stroke="#000" stroke-width="1.4" />
<line x1="408.9" y1="258.4" x2="658.8" y2="258.4" stroke="#000" stroke-width="1.4" />
<line x1="409.6" y1="250.14" x2="412" y2="250.14" stroke="#000" stroke-width="1.1" />
<line x1="409.6" y1="241.87" x2="412" y2="241.87" stroke="#000" stroke-width="1.1" />
<line x1="409.6" y1="233.61" x2="412" y2="233.61" stroke="#000" stroke-width="1.1" />
<line x1="409.6" y1="225.35" x2="412" y2="225.35" stroke="#000" stroke-width="1.1" />
<line x1="409.6" y1="217.08" x2="413.9" y2="217.08" stroke="#000" stroke-width="1.1" />
<line x1="409.6" y1="208.82" x2="412" y2="208.82" stroke="#000" stroke-width="1.1" />
<line x1="409.6" y1="200.56" x2="412" y2="200.56" stroke="#000" stroke-width="1.1" />
<line x1="409.6" y1="192.29" x2="412" y2="192.29" stroke="#000" stroke-width="1.1" />
<line x1="409.6" y1="184.03" x2="412" y2="184.03" stroke="#000" stroke-width="1.1" />
<line x1="409.6" y1="175.77" x2="413.9" y2="175.77" stroke="#000" stroke-width="1.1" />
<line x1="409.6" y1="167.5" x2="412" y2="167.5" stroke="#000" stroke-width="1.1" />
<line x1="409.6" y1="159.24" x2="412" y2="159.24" stroke="#000" stroke-width="1.1" />
<line x1="409.6" y1="150.98" x2="412" y2="150.98" stroke="#000" stroke-width="1.1" />
<line x1="409.6" y1="142.71" x2="412" y2="142.71" stroke="#000" stroke-width="1.1" />
<line x1="409.6" y1="134.45" x2="413.9" y2="134.45" stroke="#000" stroke-width="1.1" />
<line x1="409.6" y1="126.19" x2="412" y2="126.19" stroke="#000" stroke-width="1.1" />
<line x1="409.6" y1="117.92" x2="412" y2="117.92" stroke="#000" stroke-width="1.1" />
<line x1="409.6" y1="109.66" x2="412" y2="109.66" stroke="#000" stroke-width="1.1" />
<line x1="409.6" y1="101.4" x2="412" y2="101.4" stroke="#000" stroke-width="1.1" />
<line x1="409.6" y1="93.13" x2="413.9" y2="93.13" stroke="#000" stroke-width="1.1" />
<line x1="409.6" y1="84.87" x2="412" y2="84.87" stroke="#000" stroke-width="1.1" />
<line x1="409.6" y1="76.61" x2="412" y2="76.61" stroke="#000" stroke-width="1.1" />
<line x1="409.6" y1="68.34" x2="412" y2="68.34" stroke="#000" stroke-width="1.1" />
<line x1="409.6" y1="60.08" x2="412" y2="60.08" stroke="#000" stroke-width="1.1" />
<line x1="409.6" y1="51.82" x2="413.9" y2="51.82" stroke="#000" stroke-width="1.1" />
<line x1="409.6" y1="43.55" x2="412" y2="43.55" stroke="#000" stroke-width="1.1" />
<line x1="409.6" y1="35.29" x2="412" y2="35.29" stroke="#000" stroke-width="1.1" />
<line x1="409.6" y1="27.03" x2="412" y2="27.03" stroke="#000" stroke-width="1.1" />
<line x1="409.6" y1="18.76" x2="412" y2="18.76" stroke="#000" stroke-width="1.1" />
<line x1="422.03" y1="258.4" x2="422.03" y2="256" stroke="#000" stroke-width="1.1" />
<line x1="434.45" y1="258.4" x2="434.45" y2="256" stroke="#000" stroke-width="1.1" />
<line x1="446.88" y1="258.4" x2="446.88" y2="256" stroke="#000" stroke-width="1.1" />
<line x1="459.3" y1="258.4" x2="459.3" y2="256" stroke="#000" stroke-width="1.1" />
<line x1="471.73" y1="258.4" x2="471.73" y2="254.1" stroke="#000" stroke-width="1.1" />
<line x1="484.15" y1="258.4" x2="484.15" y2="256" stroke="#000" stroke-width="1.1" />
<line x1="496.58" y1="258.4" x2="496.58" y2="256" stroke="#000" stroke-width="1.1" />
<line x1="509" y1="258.4" x2="509" y2="256" stroke="#000" stroke-width="1.1" />
<line x1="521.43" y1="258.4" x2="521.43" y2="256" stroke="#000" stroke-width="1.1" />
<line x1="533.85" y1="258.4" x2="533.85" y2="254.1" stroke="#000" stroke-width="1.1" />
<line x1="546.27" y1="258.4" x2="546.27" y2="256" stroke="#000" stroke-width="1.1" />
<line x1="558.7" y1="258.4" x2="558.7" y2="256" stroke="#000" stroke-width="1.1" />
<line x1="571.12" y1="258.4" x2="571.12" y2="256" stroke="#000" stroke-width="1.1" />
<line x1="583.55" y1="258.4" x2="583.55" y2="256" stroke="#000" stroke-width="1.1" />
<line x1="595.98" y1="258.4" x2="595.98" y2="254.1" stroke="#000" stroke-width="1.1" />
<line x1="608.4" y1="258.4" x2="608.4" y2="256" stroke="#000" stroke-width="1.1" />
<line x1="620.83" y1="258.4" x2="620.83" y2="256" stroke="#000" stroke-width="1.1" />
<line x1="633.25" y1="258.4" x2="633.25" y2="256" stroke="#000" stroke-width="1.1" />
<line x1="645.68" y1="258.4" x2="645.68" y2="256" stroke="#000" stroke-width="1.1" />
<text x="404.6" y="14.1" font-size="10.2" fill="#000" text-anchor="end" font-family='"Liberation Sans", sans-serif' >0.3</text>
<text x="404.6" y="55.42" font-size="10.2" fill="#000" text-anchor="end" font-family='"Liberation Sans", sans-serif' >0.2</text>
<text x="404.6" y="96.73" font-size="10.2" fill="#000" text-anchor="end" font-family='"Liberation Sans", sans-serif' >0.1</text>
<text x="404.6" y="138.05" font-size="10.2" fill="#000" text-anchor="end" font-family='"Liberation Sans", sans-serif' >0</text>
<text x="404.6" y="179.37" font-size="10.2" fill="#000" text-anchor="end" font-family='"Liberation Sans", sans-serif' >-0.1</text>
<text x="404.6" y="220.68" font-size="10.2" fill="#000" text-anchor="end" font-family='"Liberation Sans", sans-serif' >-0.2</text>
<text x="404.6" y="262" font-size="10.2" fill="#000" text-anchor="end" font-family='"Liberation Sans", sans-serif' >-0.3</text>
<text x="409.6" y="271.8" font-size="10.2" text-anchor="middle" font-family='"Liberation Sans", sans-serif'>-2 10<tspan font-size="7" dy="-4.5">4</tspan></text>
<text x="471.73" y="271.8" font-size="10.2" text-anchor="middle" font-family='"Liberation Sans", sans-serif'>-1 10<tspan font-size="7" dy="-4.5">4</tspan></text>
<text x="533.85" y="271.8" font-size="10.2" fill="#000" text-anchor="middle" font-family='"Liberation Sans", sans-serif' >0</text>
<text x="595.98" y="271.8" font-size="10.2" text-anchor="middle" font-family='"Liberation Sans", sans-serif'>1 10<tspan font-size="7" dy="-4.5">4</tspan></text>
<text x="658.1" y="271.8" font-size="10.2" text-anchor="middle" font-family='"Liberation Sans", sans-serif'>2 10<tspan font-size="7" dy="-4.5">4</tspan></text>
<text x="479.3" y="286.2" font-size="13" fill="#000" text-anchor="start" font-family='"Liberation Sans", sans-serif' >Magnetic Field (Oe)</text>
<text x="359.5" y="25.5" font-size="18.5" fill="#000" text-anchor="start" font-family='"Liberation Sans", sans-serif' >b</text>
<text transform="translate(377.3,203.6) rotate(-90)" font-size="12.4" fill="#000" font-family='"Liberation Sans", sans-serif'>Moment ( <tspan font-style="italic">&#956;</tspan><tspan font-size="9.2" dy="6.2">B</tspan><tspan dy="-6.2"> /Cu</tspan><tspan font-size="9.2" dy="6.2">4</tspan><tspan dy="-6.2">(OH)</tspan><tspan font-size="9.2" dy="6.2">6</tspan><tspan dy="-6.2">Cl</tspan><tspan font-size="9.2" dy="6.2">2</tspan><tspan dy="-6.2">)</tspan></text>
<rect x="424.4" y="21.6" width="67.1" height="90.8" fill="#fff" stroke="#222" stroke-width="1"/>
<line x1="430.9" y1="32.2" x2="454.3" y2="32.2" stroke="#ff2b2b" stroke-width="0.85" opacity="0.8"/>
<circle cx="443.4" cy="32.2" r="0.8" fill="#ff2b2b"/>
<text x="457.4" y="36.9" font-size="13" fill="#ff2b2b" text-anchor="start" font-family='"Liberation Sans", sans-serif' >2 K</text>
<line x1="430.9" y1="46.1" x2="454.3" y2="46.1" stroke="#1414e6" stroke-width="0.85" opacity="0.8"/>
<circle cx="443.4" cy="46.1" r="1.1" fill="#1414e6"/>
<text x="457.4" y="50.8" font-size="13" fill="#1414e6" text-anchor="start" font-family='"Liberation Sans", sans-serif' >5 K</text>
<line x1="430.9" y1="60" x2="454.3" y2="60" stroke="#c060e8" stroke-width="0.85" opacity="0.8"/>
<circle cx="443.4" cy="60" r="0.8" fill="#c060e8"/>
<text x="457.4" y="64.7" font-size="13" fill="#c060e8" text-anchor="start" font-family='"Liberation Sans", sans-serif' >5.5 K</text>
<line x1="430.9" y1="73.9" x2="454.3" y2="73.9" stroke="#1e8a2a" stroke-width="0.85" opacity="0.8"/>
<circle cx="443.4" cy="73.9" r="0.8" fill="#1e8a2a"/>
<text x="457.4" y="78.6" font-size="13" fill="#1e8a2a" text-anchor="start" font-family='"Liberation Sans", sans-serif' >6 K</text>
<line x1="430.9" y1="87.8" x2="454.3" y2="87.8" stroke="#3cf03c" stroke-width="0.85" opacity="0.8"/>
<circle cx="443.4" cy="87.8" r="0.8" fill="#3cf03c"/>
<text x="457.4" y="92.5" font-size="13" fill="#3cf03c" text-anchor="start" font-family='"Liberation Sans", sans-serif' >6.5 K</text>
<line x1="430.9" y1="101.7" x2="454.3" y2="101.7" stroke="#ff8c1e" stroke-width="0.85" opacity="0.8"/>
<circle cx="443.4" cy="101.7" r="0.8" fill="#ff8c1e"/>
<text x="457.4" y="106.4" font-size="13" fill="#ff8c1e" text-anchor="start" font-family='"Liberation Sans", sans-serif' >7 K</text>
<rect x="556.4" y="168.2" width="93.4" height="67.7" fill="#fff"/>
<defs><clipPath id="ci"><rect x="556.4" y="168.2" width="93.4" height="67.7"/></clipPath></defs>
<g clip-path="url(#ci)">
<path d="M556.4 233.8 L649.8 171.6" fill="none" stroke="#ff9a40" stroke-width="0.9" />
<path d="M566.51 237.4 L637.09 165.4" fill="none" stroke="#5cf25c" stroke-width="0.8" />
<path d="M569.61 237.4 L640.19 165.4" fill="none" stroke="#5cf25c" stroke-width="0.8" />
</g>
<rect x="556.4" y="168.2" width="93.4" height="67.7" fill="none" stroke="#222" stroke-width="0.9"/>
<line x1="561.07" y1="235.9" x2="561.07" y2="234.6" stroke="#000" stroke-width="0.7" />
<line x1="561.07" y1="168.2" x2="561.07" y2="169.5" stroke="#000" stroke-width="0.7" />
<line x1="565.74" y1="235.9" x2="565.74" y2="234.6" stroke="#000" stroke-width="0.7" />
<line x1="565.74" y1="168.2" x2="565.74" y2="169.5" stroke="#000" stroke-width="0.7" />
<line x1="570.41" y1="235.9" x2="570.41" y2="234.6" stroke="#000" stroke-width="0.7" />
<line x1="570.41" y1="168.2" x2="570.41" y2="169.5" stroke="#000" stroke-width="0.7" />
<line x1="575.08" y1="235.9" x2="575.08" y2="234.6" stroke="#000" stroke-width="0.7" />
<line x1="575.08" y1="168.2" x2="575.08" y2="169.5" stroke="#000" stroke-width="0.7" />
<line x1="579.75" y1="235.9" x2="579.75" y2="233.7" stroke="#000" stroke-width="0.7" />
<line x1="579.75" y1="168.2" x2="579.75" y2="170.4" stroke="#000" stroke-width="0.7" />
<line x1="584.42" y1="235.9" x2="584.42" y2="234.6" stroke="#000" stroke-width="0.7" />
<line x1="584.42" y1="168.2" x2="584.42" y2="169.5" stroke="#000" stroke-width="0.7" />
<line x1="589.09" y1="235.9" x2="589.09" y2="234.6" stroke="#000" stroke-width="0.7" />
<line x1="589.09" y1="168.2" x2="589.09" y2="169.5" stroke="#000" stroke-width="0.7" />
<line x1="593.76" y1="235.9" x2="593.76" y2="234.6" stroke="#000" stroke-width="0.7" />
<line x1="593.76" y1="168.2" x2="593.76" y2="169.5" stroke="#000" stroke-width="0.7" />
<line x1="598.43" y1="235.9" x2="598.43" y2="234.6" stroke="#000" stroke-width="0.7" />
<line x1="598.43" y1="168.2" x2="598.43" y2="169.5" stroke="#000" stroke-width="0.7" />
<line x1="603.1" y1="235.9" x2="603.1" y2="233.7" stroke="#000" stroke-width="0.7" />
<line x1="603.1" y1="168.2" x2="603.1" y2="170.4" stroke="#000" stroke-width="0.7" />
<line x1="607.77" y1="235.9" x2="607.77" y2="234.6" stroke="#000" stroke-width="0.7" />
<line x1="607.77" y1="168.2" x2="607.77" y2="169.5" stroke="#000" stroke-width="0.7" />
<line x1="612.44" y1="235.9" x2="612.44" y2="234.6" stroke="#000" stroke-width="0.7" />
<line x1="612.44" y1="168.2" x2="612.44" y2="169.5" stroke="#000" stroke-width="0.7" />
<line x1="617.11" y1="235.9" x2="617.11" y2="234.6" stroke="#000" stroke-width="0.7" />
<line x1="617.11" y1="168.2" x2="617.11" y2="169.5" stroke="#000" stroke-width="0.7" />
<line x1="621.78" y1="235.9" x2="621.78" y2="234.6" stroke="#000" stroke-width="0.7" />
<line x1="621.78" y1="168.2" x2="621.78" y2="169.5" stroke="#000" stroke-width="0.7" />
<line x1="626.45" y1="235.9" x2="626.45" y2="233.7" stroke="#000" stroke-width="0.7" />
<line x1="626.45" y1="168.2" x2="626.45" y2="170.4" stroke="#000" stroke-width="0.7" />
<line x1="631.12" y1="235.9" x2="631.12" y2="234.6" stroke="#000" stroke-width="0.7" />
<line x1="631.12" y1="168.2" x2="631.12" y2="169.5" stroke="#000" stroke-width="0.7" />
<line x1="635.79" y1="235.9" x2="635.79" y2="234.6" stroke="#000" stroke-width="0.7" />
<line x1="635.79" y1="168.2" x2="635.79" y2="169.5" stroke="#000" stroke-width="0.7" />
<line x1="640.46" y1="235.9" x2="640.46" y2="234.6" stroke="#000" stroke-width="0.7" />
<line x1="640.46" y1="168.2" x2="640.46" y2="169.5" stroke="#000" stroke-width="0.7" />
<line x1="645.13" y1="235.9" x2="645.13" y2="234.6" stroke="#000" stroke-width="0.7" />
<line x1="645.13" y1="168.2" x2="645.13" y2="169.5" stroke="#000" stroke-width="0.7" />
<line x1="556.4" y1="232.69" x2="557.7" y2="232.69" stroke="#000" stroke-width="0.7" />
<line x1="649.8" y1="232.69" x2="648.5" y2="232.69" stroke="#000" stroke-width="0.7" />
<line x1="556.4" y1="229.85" x2="558.6" y2="229.85" stroke="#000" stroke-width="0.7" />
<line x1="649.8" y1="229.85" x2="647.6" y2="229.85" stroke="#000" stroke-width="0.7" />
<line x1="556.4" y1="227" x2="557.7" y2="227" stroke="#000" stroke-width="0.7" />
<line x1="649.8" y1="227" x2="648.5" y2="227" stroke="#000" stroke-width="0.7" />
<line x1="556.4" y1="224.16" x2="557.7" y2="224.16" stroke="#000" stroke-width="0.7" />
<line x1="649.8" y1="224.16" x2="648.5" y2="224.16" stroke="#000" stroke-width="0.7" />
<line x1="556.4" y1="221.31" x2="557.7" y2="221.31" stroke="#000" stroke-width="0.7" />
<line x1="649.8" y1="221.31" x2="648.5" y2="221.31" stroke="#000" stroke-width="0.7" />
<line x1="556.4" y1="218.47" x2="557.7" y2="218.47" stroke="#000" stroke-width="0.7" />
<line x1="649.8" y1="218.47" x2="648.5" y2="218.47" stroke="#000" stroke-width="0.7" />
<line x1="556.4" y1="215.62" x2="557.7" y2="215.62" stroke="#000" stroke-width="0.7" />
<line x1="649.8" y1="215.62" x2="648.5" y2="215.62" stroke="#000" stroke-width="0.7" />
<line x1="556.4" y1="212.78" x2="557.7" y2="212.78" stroke="#000" stroke-width="0.7" />
<line x1="649.8" y1="212.78" x2="648.5" y2="212.78" stroke="#000" stroke-width="0.7" />
<line x1="556.4" y1="209.94" x2="557.7" y2="209.94" stroke="#000" stroke-width="0.7" />
<line x1="649.8" y1="209.94" x2="648.5" y2="209.94" stroke="#000" stroke-width="0.7" />
<line x1="556.4" y1="207.09" x2="557.7" y2="207.09" stroke="#000" stroke-width="0.7" />
<line x1="649.8" y1="207.09" x2="648.5" y2="207.09" stroke="#000" stroke-width="0.7" />
<line x1="556.4" y1="204.25" x2="557.7" y2="204.25" stroke="#000" stroke-width="0.7" />
<line x1="649.8" y1="204.25" x2="648.5" y2="204.25" stroke="#000" stroke-width="0.7" />
<line x1="556.4" y1="201.4" x2="558.6" y2="201.4" stroke="#000" stroke-width="0.7" />
<line x1="649.8" y1="201.4" x2="647.6" y2="201.4" stroke="#000" stroke-width="0.7" />
<line x1="556.4" y1="198.56" x2="557.7" y2="198.56" stroke="#000" stroke-width="0.7" />
<line x1="649.8" y1="198.56" x2="648.5" y2="198.56" stroke="#000" stroke-width="0.7" />
<line x1="556.4" y1="195.71" x2="557.7" y2="195.71" stroke="#000" stroke-width="0.7" />
<line x1="649.8" y1="195.71" x2="648.5" y2="195.71" stroke="#000" stroke-width="0.7" />
<line x1="556.4" y1="192.87" x2="557.7" y2="192.87" stroke="#000" stroke-width="0.7" />
<line x1="649.8" y1="192.87" x2="648.5" y2="192.87" stroke="#000" stroke-width="0.7" />
<line x1="556.4" y1="190.02" x2="557.7" y2="190.02" stroke="#000" stroke-width="0.7" />
<line x1="649.8" y1="190.02" x2="648.5" y2="190.02" stroke="#000" stroke-width="0.7" />
<line x1="556.4" y1="187.18" x2="557.7" y2="187.18" stroke="#000" stroke-width="0.7" />
<line x1="649.8" y1="187.18" x2="648.5" y2="187.18" stroke="#000" stroke-width="0.7" />
<line x1="556.4" y1="184.33" x2="557.7" y2="184.33" stroke="#000" stroke-width="0.7" />
<line x1="649.8" y1="184.33" x2="648.5" y2="184.33" stroke="#000" stroke-width="0.7" />
<line x1="556.4" y1="181.49" x2="557.7" y2="181.49" stroke="#000" stroke-width="0.7" />
<line x1="649.8" y1="181.49" x2="648.5" y2="181.49" stroke="#000" stroke-width="0.7" />
<line x1="556.4" y1="178.64" x2="557.7" y2="178.64" stroke="#000" stroke-width="0.7" />
<line x1="649.8" y1="178.64" x2="648.5" y2="178.64" stroke="#000" stroke-width="0.7" />
<line x1="556.4" y1="175.8" x2="557.7" y2="175.8" stroke="#000" stroke-width="0.7" />
<line x1="649.8" y1="175.8" x2="648.5" y2="175.8" stroke="#000" stroke-width="0.7" />
<line x1="556.4" y1="172.95" x2="558.6" y2="172.95" stroke="#000" stroke-width="0.7" />
<line x1="649.8" y1="172.95" x2="647.6" y2="172.95" stroke="#000" stroke-width="0.7" />
<line x1="556.4" y1="170.11" x2="557.7" y2="170.11" stroke="#000" stroke-width="0.7" />
<line x1="649.8" y1="170.11" x2="648.5" y2="170.11" stroke="#000" stroke-width="0.7" />
<text x="554" y="174.9" font-size="5.6" fill="#000" text-anchor="end" font-family='"Liberation Sans", sans-serif' >0.01</text>
<text x="554" y="203.4" font-size="5.6" fill="#000" text-anchor="end" font-family='"Liberation Sans", sans-serif' >0</text>
<text x="554" y="231.8" font-size="5.6" fill="#000" text-anchor="end" font-family='"Liberation Sans", sans-serif' >-0.01</text>
<text x="543.4" y="203.8" font-size="6.8" fill="#000" text-anchor="start" font-family='"Liberation Sans", sans-serif' font-style="italic">M</text>
<text x="557.2" y="244" font-size="5.6" text-anchor="middle" font-family='"Liberation Sans", sans-serif'>-1 10<tspan font-size="4" dy="-2.4">3</tspan></text>
<text x="580.55" y="244" font-size="5.6" text-anchor="middle" font-family='"Liberation Sans", sans-serif'>-5 10<tspan font-size="4" dy="-2.4">2</tspan></text>
<text x="603.1" y="244" font-size="5.6" fill="#000" text-anchor="middle" font-family='"Liberation Sans", sans-serif' >0</text>
<text x="627.25" y="244" font-size="5.6" text-anchor="middle" font-family='"Liberation Sans", sans-serif'>5 10<tspan font-size="4" dy="-2.4">2</tspan></text>
<text x="650.6" y="244" font-size="5.6" text-anchor="middle" font-family='"Liberation Sans", sans-serif'>1 10<tspan font-size="4" dy="-2.4">3</tspan></text>
<text x="593.5" y="251.2" font-size="6.9" font-family='"Liberation Sans", sans-serif'><tspan font-style="italic">H</tspan> (Oe)</text>
<rect x="560.6" y="173.7" width="36.7" height="20.8" fill="#fff" stroke="#222" stroke-width="0.8"/>
<line x1="563.5" y1="179" x2="574.9" y2="179" stroke="#3cf03c" stroke-width="0.9" />
<line x1="563.5" y1="188.1" x2="574.9" y2="188.1" stroke="#ff8c1e" stroke-width="0.9" />
<text x="576.4" y="181.9" font-size="8.1" fill="#3cf03c" text-anchor="start" font-family='"Liberation Sans", sans-serif' >6.5 K</text>
<text x="576.4" y="191" font-size="8.1" fill="#ff8c1e" text-anchor="start" font-family='"Liberation Sans", sans-serif' >7 K</text>
<defs><clipPath id="cc"><rect x="75.6" y="348.6" width="248.4" height="248.4"/></clipPath></defs>
<line x1="94.29" y1="348.6" x2="94.29" y2="597" stroke="#d4d4d4" stroke-width="0.7" stroke-dasharray="2.2 1.6"/>
<line x1="105.23" y1="348.6" x2="105.23" y2="597" stroke="#d4d4d4" stroke-width="0.7" stroke-dasharray="2.2 1.6"/>
<line x1="112.99" y1="348.6" x2="112.99" y2="597" stroke="#d4d4d4" stroke-width="0.7" stroke-dasharray="2.2 1.6"/>
<line x1="119.01" y1="348.6" x2="119.01" y2="597" stroke="#d4d4d4" stroke-width="0.7" stroke-dasharray="2.2 1.6"/>
<line x1="123.92" y1="348.6" x2="123.92" y2="597" stroke="#d4d4d4" stroke-width="0.7" stroke-dasharray="2.2 1.6"/>
<line x1="128.08" y1="348.6" x2="128.08" y2="597" stroke="#d4d4d4" stroke-width="0.7" stroke-dasharray="2.2 1.6"/>
<line x1="131.68" y1="348.6" x2="131.68" y2="597" stroke="#d4d4d4" stroke-width="0.7" stroke-dasharray="2.2 1.6"/>
<line x1="134.86" y1="348.6" x2="134.86" y2="597" stroke="#d4d4d4" stroke-width="0.7" stroke-dasharray="2.2 1.6"/>
<line x1="137.7" y1="348.6" x2="137.7" y2="597" stroke="#c8c8c8" stroke-width="0.8" />
<line x1="156.39" y1="348.6" x2="156.39" y2="597" stroke="#d4d4d4" stroke-width="0.7" stroke-dasharray="2.2 1.6"/>
<line x1="167.33" y1="348.6" x2="167.33" y2="597" stroke="#d4d4d4" stroke-width="0.7" stroke-dasharray="2.2 1.6"/>
<line x1="175.09" y1="348.6" x2="175.09" y2="597" stroke="#d4d4d4" stroke-width="0.7" stroke-dasharray="2.2 1.6"/>
<line x1="181.11" y1="348.6" x2="181.11" y2="597" stroke="#d4d4d4" stroke-width="0.7" stroke-dasharray="2.2 1.6"/>
<line x1="186.02" y1="348.6" x2="186.02" y2="597" stroke="#d4d4d4" stroke-width="0.7" stroke-dasharray="2.2 1.6"/>
<line x1="190.18" y1="348.6" x2="190.18" y2="597" stroke="#d4d4d4" stroke-width="0.7" stroke-dasharray="2.2 1.6"/>
<line x1="193.78" y1="348.6" x2="193.78" y2="597" stroke="#d4d4d4" stroke-width="0.7" stroke-dasharray="2.2 1.6"/>
<line x1="196.96" y1="348.6" x2="196.96" y2="597" stroke="#d4d4d4" stroke-width="0.7" stroke-dasharray="2.2 1.6"/>
<line x1="199.8" y1="348.6" x2="199.8" y2="597" stroke="#c8c8c8" stroke-width="0.8" />
<line x1="218.49" y1="348.6" x2="218.49" y2="597" stroke="#d4d4d4" stroke-width="0.7" stroke-dasharray="2.2 1.6"/>
<line x1="229.43" y1="348.6" x2="229.43" y2="597" stroke="#d4d4d4" stroke-width="0.7" stroke-dasharray="2.2 1.6"/>
<line x1="237.19" y1="348.6" x2="237.19" y2="597" stroke="#d4d4d4" stroke-width="0.7" stroke-dasharray="2.2 1.6"/>
<line x1="243.21" y1="348.6" x2="243.21" y2="597" stroke="#d4d4d4" stroke-width="0.7" stroke-dasharray="2.2 1.6"/>
<line x1="248.12" y1="348.6" x2="248.12" y2="597" stroke="#d4d4d4" stroke-width="0.7" stroke-dasharray="2.2 1.6"/>
<line x1="252.28" y1="348.6" x2="252.28" y2="597" stroke="#d4d4d4" stroke-width="0.7" stroke-dasharray="2.2 1.6"/>
<line x1="255.88" y1="348.6" x2="255.88" y2="597" stroke="#d4d4d4" stroke-width="0.7" stroke-dasharray="2.2 1.6"/>
<line x1="259.06" y1="348.6" x2="259.06" y2="597" stroke="#d4d4d4" stroke-width="0.7" stroke-dasharray="2.2 1.6"/>
<line x1="261.9" y1="348.6" x2="261.9" y2="597" stroke="#c8c8c8" stroke-width="0.8" />
<line x1="280.59" y1="348.6" x2="280.59" y2="597" stroke="#d4d4d4" stroke-width="0.7" stroke-dasharray="2.2 1.6"/>
<line x1="291.53" y1="348.6" x2="291.53" y2="597" stroke="#d4d4d4" stroke-width="0.7" stroke-dasharray="2.2 1.6"/>
<line x1="299.29" y1="348.6" x2="299.29" y2="597" stroke="#d4d4d4" stroke-width="0.7" stroke-dasharray="2.2 1.6"/>
<line x1="305.31" y1="348.6" x2="305.31" y2="597" stroke="#d4d4d4" stroke-width="0.7" stroke-dasharray="2.2 1.6"/>
<line x1="310.22" y1="348.6" x2="310.22" y2="597" stroke="#d4d4d4" stroke-width="0.7" stroke-dasharray="2.2 1.6"/>
<line x1="314.38" y1="348.6" x2="314.38" y2="597" stroke="#d4d4d4" stroke-width="0.7" stroke-dasharray="2.2 1.6"/>
<line x1="317.98" y1="348.6" x2="317.98" y2="597" stroke="#d4d4d4" stroke-width="0.7" stroke-dasharray="2.2 1.6"/>
<line x1="321.16" y1="348.6" x2="321.16" y2="597" stroke="#d4d4d4" stroke-width="0.7" stroke-dasharray="2.2 1.6"/>
<g clip-path="url(#cc)">
<path d="M75.6 366.26 L76.84 366.51 L78.08 366.76 L79.33 367.02 L80.57 367.29 L81.81 367.57 L83.05 367.86 L84.29 368.17 L85.54 368.48 L86.78 368.81 L88.02 369.15 L89.26 369.5 L90.5 369.87 L91.75 370.25 L92.99 370.64 L94.23 371.05 L95.47 371.47 L96.71 371.9 L97.96 372.35 L99.2 372.82 L100.44 373.3 L101.68 373.79 L102.92 374.3 L104.17 374.83 L105.41 375.38 L106.65 375.94 L107.89 376.52 L109.13 377.12 L110.38 377.73 L111.62 378.36 L112.86 379.01 L114.1 379.68 L115.34 380.36 L116.59 381.07 L117.83 381.79 L119.07 382.53 L120.31 383.29 L121.55 384.07 L122.8 384.87 L124.04 385.68 L125.28 386.52 L126.52 387.37 L127.76 388.24 L129.01 389.14 L130.25 390.05 L131.49 390.97 L132.73 391.92 L133.97 392.89 L135.22 393.87 L136.46 394.87 L137.7 395.89 L138.94 396.92 L140.18 397.98 L141.43 399.05 L142.67 400.14 L143.91 401.24 L145.15 402.36 L146.39 403.5 L147.64 404.65 L148.88 405.82 L150.12 407 L151.36 408.2 L152.6 409.41 L153.85 410.63 L155.09 411.88 L156.33 413.13 L157.57 414.4 L158.81 415.68 L160.06 416.97 L161.3 418.27 L162.54 419.59 L163.78 420.92 L165.02 422.26 L166.27 423.61 L167.51 424.97 L168.75 426.34 L169.99 427.72 L171.23 429.11 L172.48 430.51 L173.72 431.92 L174.96 433.34 L176.2 434.77 L177.44 436.2 L178.69 437.64 L179.93 439.09 L181.17 440.55 L182.41 442.01 L183.65 443.49 L184.9 444.96 L186.14 446.45 L187.38 447.94 L188.62 449.43 L189.86 450.94 L191.11 452.44 L192.35 453.96 L193.59 455.47 L194.83 457 L196.07 458.52 L197.32 460.05 L198.56 461.59 L199.8 463.13 L201.04 464.67 L202.28 466.22 L203.53 467.77 L204.77 469.33 L206.01 470.88 L207.25 472.45 L208.49 474.01 L209.74 475.58 L210.98 477.15 L212.22 478.72 L213.46 480.29 L214.7 481.87 L215.95 483.45 L217.19 485.04 L218.43 486.62 L219.67 488.21 L220.91 489.8 L222.16 491.39 L223.4 492.98 L224.64 494.57 L225.88 496.17 L227.12 497.77 L228.37 499.37 L229.61 500.97 L230.85 502.57 L232.09 504.17 L233.33 505.78 L234.58 507.38 L235.82 508.99 L237.06 510.6 L238.3 512.21 L239.54 513.82 L240.79 515.43 L242.03 517.04 L243.27 518.66 L244.51 520.27 L245.75 521.88 L247 523.5 L248.24 525.12 L249.48 526.73 L250.72 528.35 L251.96 529.97 L253.21 531.59 L254.45 533.21 L255.69 534.83 L256.93 536.45 L258.17 538.07 L259.42 539.69 L260.66 541.32 L261.9 542.94 L263.14 544.56 L264.38 546.19 L265.63 547.81 L266.87 549.43 L268.11 551.06 L269.35 552.68 L270.59 554.31 L271.84 555.93 L273.08 557.56 L274.32 559.19 L275.56 560.81 L276.8 562.44 L278.05 564.07 L279.29 565.7 L280.53 567.32 L281.77 568.95 L283.01 570.58 L284.26 572.21 L285.5 573.84 L286.74 575.47 L287.98 577.09 L289.22 578.72 L290.47 580.35 L291.71 581.98 L292.95 583.61 L294.19 585.24 L295.43 586.87 L296.68 588.5 L297.92 590.13 L299.16 591.76 L300.4 593.39 L301.64 595.02 L302.89 596.65 L304.13 598.28 L305.37 599.91 L306.61 601.54 L307.85 603.17" fill="none" stroke="#22e822" stroke-width="4" stroke-linecap="round"/>
<g fill="#fff" stroke="#ff4444" stroke-width="0.75"><circle cx="75.6" cy="366.86" r="1.75"/><circle cx="119.54" cy="383.42" r="1.75"/><circle cx="135.45" cy="394.66" r="1.75"/><circle cx="145.19" cy="402.99" r="1.75"/><circle cx="152.33" cy="409.74" r="1.75"/><circle cx="160.16" cy="417.68" r="1.75"/><circle cx="163.68" cy="421.4" r="1.75"/><circle cx="168.21" cy="426.35" r="1.75"/><circle cx="169.9" cy="428.22" r="1.75"/><circle cx="173.7" cy="432.51" r="1.75"/><circle cx="176.4" cy="435.6" r="1.75"/><circle cx="179.44" cy="439.12" r="1.75"/><circle cx="182.16" cy="442.32" r="1.75"/><circle cx="184.16" cy="444.69" r="1.75"/><circle cx="186.47" cy="447.44" r="1.75"/><circle cx="188.59" cy="450" r="1.75"/><circle cx="190.94" cy="452.84" r="1.75"/><circle cx="193.1" cy="455.47" r="1.75"/><circle cx="194.87" cy="458.75" r="1.75"/><circle cx="197.13" cy="460.08" r="1.75"/><circle cx="199.32" cy="462.2" r="1.75"/><circle cx="200.42" cy="464.99" r="1.75"/><circle cx="201.72" cy="467.43" r="1.75"/><circle cx="203.96" cy="468.97" r="1.75"/><circle cx="205.77" cy="470.7" r="1.75"/><circle cx="207.57" cy="472.31" r="1.75"/><circle cx="207.81" cy="475.04" r="1.75"/><circle cx="209.13" cy="476.8" r="1.75"/><circle cx="211.49" cy="477.63" r="1.75"/><circle cx="212.64" cy="479.33" r="1.75"/><circle cx="214.44" cy="480.42" r="1.75"/><circle cx="215.34" cy="482.16" r="1.75"/><circle cx="215.89" cy="484.1" r="1.75"/><circle cx="216.91" cy="485.6" r="1.75"/><circle cx="219.6" cy="485.7" r="1.75"/><circle cx="219.03" cy="488.34" r="1.75"/><circle cx="219.77" cy="489.88" r="1.75"/><circle cx="220.56" cy="491.32" r="1.75"/><circle cx="222.26" cy="492" r="1.75"/><circle cx="223.24" cy="493.2" r="1.75"/><circle cx="223.88" cy="494.63" r="1.75"/><circle cx="224.96" cy="495.66" r="1.75"/><circle cx="226.06" cy="496.65" r="1.75"/><circle cx="227.19" cy="497.56" r="1.75"/><circle cx="228.3" cy="498.47" r="1.75"/><circle cx="228.59" cy="499.98" r="1.75"/><circle cx="228.16" cy="502.04" r="1.75"/><circle cx="230.53" cy="501.84" r="1.75"/><circle cx="229.98" cy="503.93" r="1.75"/><circle cx="231.56" cy="504.31" r="1.75"/><circle cx="231.48" cy="505.97" r="1.75"/><circle cx="233.19" cy="506.19" r="1.75"/><circle cx="233.42" cy="507.55" r="1.75"/><circle cx="234.8" cy="507.98" r="1.75"/><circle cx="237.56" cy="507.3" r="1.75"/><circle cx="236.06" cy="509.97" r="1.75"/><circle cx="237.36" cy="510.41" r="1.75"/><circle cx="236.6" cy="512.46" r="1.75"/><circle cx="237.97" cy="512.79" r="1.75"/><circle cx="239.29" cy="513.15" r="1.75"/><circle cx="239.44" cy="514.42" r="1.75"/><circle cx="240.41" cy="515.02" r="1.75"/><circle cx="240.88" cy="516" r="1.75"/><circle cx="240.75" cy="517.44" r="1.75"/><circle cx="242.47" cy="517.4" r="1.75"/><circle cx="242.14" cy="518.98" r="1.75"/><circle cx="244.64" cy="518.28" r="1.75"/><circle cx="243.58" cy="520.41" r="1.75"/><circle cx="245.03" cy="520.52" r="1.75"/><circle cx="245.14" cy="521.69" r="1.75"/><circle cx="246.42" cy="521.92" r="1.75"/><circle cx="245.89" cy="523.57" r="1.75"/><circle cx="247.63" cy="523.41" r="1.75"/><circle cx="247.39" cy="524.8" r="1.75"/><circle cx="248.97" cy="524.74" r="1.75"/><circle cx="249.07" cy="525.85" r="1.75"/><circle cx="249.28" cy="526.86" r="1.75"/><circle cx="249.16" cy="528.12" r="1.75"/><circle cx="250.85" cy="527.93" r="1.75"/><circle cx="251.18" cy="528.82" r="1.75"/><circle cx="252.6" cy="528.83" r="1.75"/><circle cx="251.63" cy="530.72" r="1.75"/><circle cx="252.86" cy="530.86" r="1.75"/><circle cx="253.36" cy="531.58" r="1.75"/><circle cx="253.71" cy="532.4" r="1.75"/><circle cx="254.18" cy="533.12" r="1.75"/><circle cx="254.67" cy="533.81" r="1.75"/><circle cx="254.59" cy="534.96" r="1.75"/><circle cx="254.78" cy="535.88" r="1.75"/><circle cx="255.76" cy="536.16" r="1.75"/><circle cx="257.03" cy="536.21" r="1.75"/><circle cx="258.24" cy="536.3" r="1.75"/><circle cx="258.33" cy="537.27" r="1.75"/><circle cx="258.88" cy="537.87" r="1.75"/><circle cx="259.16" cy="538.68" r="1.75"/><circle cx="259.59" cy="539.36" r="1.75"/><circle cx="259.66" cy="540.31" r="1.75"/><circle cx="260.61" cy="540.57" r="1.75"/><circle cx="261.89" cy="540.56" r="1.75"/><circle cx="260.69" cy="542.51" r="1.75"/><circle cx="260.87" cy="543.36" r="1.75"/><circle cx="263.47" cy="542.29" r="1.75"/><circle cx="262.56" cy="543.99" r="1.75"/><circle cx="263.62" cy="544.13" r="1.75"/><circle cx="264" cy="544.8" r="1.75"/><circle cx="262.83" cy="546.7" r="1.75"/><circle cx="266.2" cy="544.99" r="1.75"/><circle cx="266.12" cy="546.01" r="1.75"/><circle cx="265.27" cy="547.64" r="1.75"/><circle cx="266.19" cy="547.85" r="1.75"/><circle cx="266.13" cy="548.85" r="1.75"/><circle cx="265.74" cy="550.1" r="1.75"/><circle cx="266.82" cy="550.17" r="1.75"/><circle cx="267.67" cy="550.43" r="1.75"/><circle cx="268.73" cy="550.51" r="1.75"/><circle cx="268.83" cy="551.36" r="1.75"/><circle cx="268.73" cy="552.36" r="1.75"/><circle cx="270.25" cy="552.07" r="1.75"/><circle cx="268.91" cy="554.05" r="1.75"/><circle cx="270.65" cy="553.57" r="1.75"/><circle cx="271.35" cy="553.92" r="1.75"/><circle cx="270.59" cy="555.42" r="1.75"/><circle cx="269.74" cy="557" r="1.75"/><circle cx="270.91" cy="556.96" r="1.75"/><circle cx="272.32" cy="556.74" r="1.75"/><circle cx="272.99" cy="557.09" r="1.75"/><circle cx="274.29" cy="556.94" r="1.75"/><circle cx="272.51" cy="559.24" r="1.75"/><circle cx="273.79" cy="559.09" r="1.75"/><circle cx="274.77" cy="559.19" r="1.75"/><circle cx="274.48" cy="560.29" r="1.75"/><circle cx="272.97" cy="562.37" r="1.75"/><circle cx="276.15" cy="560.7" r="1.75"/><circle cx="277.88" cy="560.19" r="1.75"/><circle cx="277.15" cy="561.63" r="1.75"/><circle cx="275.86" cy="563.51" r="1.75"/><circle cx="276.71" cy="563.69" r="1.75"/><circle cx="277.68" cy="563.78" r="1.75"/><circle cx="280.1" cy="562.7" r="1.75"/><circle cx="278.84" cy="564.55" r="1.75"/><circle cx="278.79" cy="565.43" r="1.75"/><circle cx="280.49" cy="564.93" r="1.75"/><circle cx="279.42" cy="566.62" r="1.75"/><circle cx="281.56" cy="565.75" r="1.75"/><circle cx="279.67" cy="568.09" r="1.75"/><circle cx="280.25" cy="568.46" r="1.75"/><circle cx="281.73" cy="568.12" r="1.75"/><circle cx="282.76" cy="568.13" r="1.75"/><circle cx="282.46" cy="569.2" r="1.75"/><circle cx="282.53" cy="569.96" r="1.75"/><circle cx="280.98" cy="572.02" r="1.75"/><circle cx="282.38" cy="571.72" r="1.75"/><circle cx="282.86" cy="572.16" r="1.75"/><circle cx="283.32" cy="572.61" r="1.75"/><circle cx="284.74" cy="572.3" r="1.75"/><circle cx="284.27" cy="573.48" r="1.75"/><circle cx="285.7" cy="573.16" r="1.75"/><circle cx="285.43" cy="574.18" r="1.75"/><circle cx="285.42" cy="574.99" r="1.75"/></g>
</g>
<line x1="75.6" y1="347.9" x2="75.6" y2="597.7" stroke="#000" stroke-width="1.4" />
<line x1="324" y1="347.9" x2="324" y2="597.7" stroke="#000" stroke-width="1.4" />
<line x1="74.9" y1="348.6" x2="324.7" y2="348.6" stroke="#000" stroke-width="1.4" />
<line x1="74.9" y1="597" x2="324.7" y2="597" stroke="#000" stroke-width="1.4" />
<line x1="75.6" y1="588.13" x2="78" y2="588.13" stroke="#000" stroke-width="1.1" />
<line x1="324" y1="588.13" x2="321.6" y2="588.13" stroke="#000" stroke-width="1.1" />
<line x1="75.6" y1="579.26" x2="78" y2="579.26" stroke="#000" stroke-width="1.1" />
<line x1="324" y1="579.26" x2="321.6" y2="579.26" stroke="#000" stroke-width="1.1" />
<line x1="75.6" y1="570.39" x2="78" y2="570.39" stroke="#000" stroke-width="1.1" />
<line x1="324" y1="570.39" x2="321.6" y2="570.39" stroke="#000" stroke-width="1.1" />
<line x1="75.6" y1="561.51" x2="79.9" y2="561.51" stroke="#000" stroke-width="1.1" />
<line x1="324" y1="561.51" x2="319.7" y2="561.51" stroke="#000" stroke-width="1.1" />
<line x1="75.6" y1="552.64" x2="78" y2="552.64" stroke="#000" stroke-width="1.1" />
<line x1="324" y1="552.64" x2="321.6" y2="552.64" stroke="#000" stroke-width="1.1" />
<line x1="75.6" y1="543.77" x2="78" y2="543.77" stroke="#000" stroke-width="1.1" />
<line x1="324" y1="543.77" x2="321.6" y2="543.77" stroke="#000" stroke-width="1.1" />
<line x1="75.6" y1="534.9" x2="78" y2="534.9" stroke="#000" stroke-width="1.1" />
<line x1="324" y1="534.9" x2="321.6" y2="534.9" stroke="#000" stroke-width="1.1" />
<line x1="75.6" y1="526.03" x2="79.9" y2="526.03" stroke="#000" stroke-width="1.1" />
<line x1="324" y1="526.03" x2="319.7" y2="526.03" stroke="#000" stroke-width="1.1" />
<line x1="75.6" y1="517.16" x2="78" y2="517.16" stroke="#000" stroke-width="1.1" />
<line x1="324" y1="517.16" x2="321.6" y2="517.16" stroke="#000" stroke-width="1.1" />
<line x1="75.6" y1="508.29" x2="78" y2="508.29" stroke="#000" stroke-width="1.1" />
<line x1="324" y1="508.29" x2="321.6" y2="508.29" stroke="#000" stroke-width="1.1" />
<line x1="75.6" y1="499.41" x2="78" y2="499.41" stroke="#000" stroke-width="1.1" />
<line x1="324" y1="499.41" x2="321.6" y2="499.41" stroke="#000" stroke-width="1.1" />
<line x1="75.6" y1="490.54" x2="79.9" y2="490.54" stroke="#000" stroke-width="1.1" />
<line x1="324" y1="490.54" x2="319.7" y2="490.54" stroke="#000" stroke-width="1.1" />
<line x1="75.6" y1="481.67" x2="78" y2="481.67" stroke="#000" stroke-width="1.1" />
<line x1="324" y1="481.67" x2="321.6" y2="481.67" stroke="#000" stroke-width="1.1" />
<line x1="75.6" y1="472.8" x2="78" y2="472.8" stroke="#000" stroke-width="1.1" />
<line x1="324" y1="472.8" x2="321.6" y2="472.8" stroke="#000" stroke-width="1.1" />
<line x1="75.6" y1="463.93" x2="78" y2="463.93" stroke="#000" stroke-width="1.1" />
<line x1="324" y1="463.93" x2="321.6" y2="463.93" stroke="#000" stroke-width="1.1" />
<line x1="75.6" y1="455.06" x2="79.9" y2="455.06" stroke="#000" stroke-width="1.1" />
<line x1="324" y1="455.06" x2="319.7" y2="455.06" stroke="#000" stroke-width="1.1" />
<line x1="75.6" y1="446.19" x2="78" y2="446.19" stroke="#000" stroke-width="1.1" />
<line x1="324" y1="446.19" x2="321.6" y2="446.19" stroke="#000" stroke-width="1.1" />
<line x1="75.6" y1="437.31" x2="78" y2="437.31" stroke="#000" stroke-width="1.1" />
<line x1="324" y1="437.31" x2="321.6" y2="437.31" stroke="#000" stroke-width="1.1" />
<line x1="75.6" y1="428.44" x2="78" y2="428.44" stroke="#000" stroke-width="1.1" />
<line x1="324" y1="428.44" x2="321.6" y2="428.44" stroke="#000" stroke-width="1.1" />
<line x1="75.6" y1="419.57" x2="79.9" y2="419.57" stroke="#000" stroke-width="1.1" />
<line x1="324" y1="419.57" x2="319.7" y2="419.57" stroke="#000" stroke-width="1.1" />
<line x1="75.6" y1="410.7" x2="78" y2="410.7" stroke="#000" stroke-width="1.1" />
<line x1="324" y1="410.7" x2="321.6" y2="410.7" stroke="#000" stroke-width="1.1" />
<line x1="75.6" y1="401.83" x2="78" y2="401.83" stroke="#000" stroke-width="1.1" />
<line x1="324" y1="401.83" x2="321.6" y2="401.83" stroke="#000" stroke-width="1.1" />
<line x1="75.6" y1="392.96" x2="78" y2="392.96" stroke="#000" stroke-width="1.1" />
<line x1="324" y1="392.96" x2="321.6" y2="392.96" stroke="#000" stroke-width="1.1" />
<line x1="75.6" y1="384.09" x2="79.9" y2="384.09" stroke="#000" stroke-width="1.1" />
<line x1="324" y1="384.09" x2="319.7" y2="384.09" stroke="#000" stroke-width="1.1" />
<line x1="75.6" y1="375.21" x2="78" y2="375.21" stroke="#000" stroke-width="1.1" />
<line x1="324" y1="375.21" x2="321.6" y2="375.21" stroke="#000" stroke-width="1.1" />
<line x1="75.6" y1="366.34" x2="78" y2="366.34" stroke="#000" stroke-width="1.1" />
<line x1="324" y1="366.34" x2="321.6" y2="366.34" stroke="#000" stroke-width="1.1" />
<line x1="75.6" y1="357.47" x2="78" y2="357.47" stroke="#000" stroke-width="1.1" />
<line x1="324" y1="357.47" x2="321.6" y2="357.47" stroke="#000" stroke-width="1.1" />
<line x1="94.29" y1="597" x2="94.29" y2="594.6" stroke="#000" stroke-width="1.1" />
<line x1="94.29" y1="348.6" x2="94.29" y2="351" stroke="#000" stroke-width="1.1" />
<line x1="105.23" y1="597" x2="105.23" y2="594.6" stroke="#000" stroke-width="1.1" />
<line x1="105.23" y1="348.6" x2="105.23" y2="351" stroke="#000" stroke-width="1.1" />
<line x1="112.99" y1="597" x2="112.99" y2="594.6" stroke="#000" stroke-width="1.1" />
<line x1="112.99" y1="348.6" x2="112.99" y2="351" stroke="#000" stroke-width="1.1" />
<line x1="119.01" y1="597" x2="119.01" y2="594.6" stroke="#000" stroke-width="1.1" />
<line x1="119.01" y1="348.6" x2="119.01" y2="351" stroke="#000" stroke-width="1.1" />
<line x1="123.92" y1="597" x2="123.92" y2="594.6" stroke="#000" stroke-width="1.1" />
<line x1="123.92" y1="348.6" x2="123.92" y2="351" stroke="#000" stroke-width="1.1" />
<line x1="128.08" y1="597" x2="128.08" y2="594.6" stroke="#000" stroke-width="1.1" />
<line x1="128.08" y1="348.6" x2="128.08" y2="351" stroke="#000" stroke-width="1.1" />
<line x1="131.68" y1="597" x2="131.68" y2="594.6" stroke="#000" stroke-width="1.1" />
<line x1="131.68" y1="348.6" x2="131.68" y2="351" stroke="#000" stroke-width="1.1" />
<line x1="134.86" y1="597" x2="134.86" y2="594.6" stroke="#000" stroke-width="1.1" />
<line x1="134.86" y1="348.6" x2="134.86" y2="351" stroke="#000" stroke-width="1.1" />
<line x1="137.7" y1="597" x2="137.7" y2="592.7" stroke="#000" stroke-width="1.1" />
<line x1="137.7" y1="348.6" x2="137.7" y2="352.9" stroke="#000" stroke-width="1.1" />
<line x1="156.39" y1="597" x2="156.39" y2="594.6" stroke="#000" stroke-width="1.1" />
<line x1="156.39" y1="348.6" x2="156.39" y2="351" stroke="#000" stroke-width="1.1" />
<line x1="167.33" y1="597" x2="167.33" y2="594.6" stroke="#000" stroke-width="1.1" />
<line x1="167.33" y1="348.6" x2="167.33" y2="351" stroke="#000" stroke-width="1.1" />
<line x1="175.09" y1="597" x2="175.09" y2="594.6" stroke="#000" stroke-width="1.1" />
<line x1="175.09" y1="348.6" x2="175.09" y2="351" stroke="#000" stroke-width="1.1" />
<line x1="181.11" y1="597" x2="181.11" y2="594.6" stroke="#000" stroke-width="1.1" />
<line x1="181.11" y1="348.6" x2="181.11" y2="351" stroke="#000" stroke-width="1.1" />
<line x1="186.02" y1="597" x2="186.02" y2="594.6" stroke="#000" stroke-width="1.1" />
<line x1="186.02" y1="348.6" x2="186.02" y2="351" stroke="#000" stroke-width="1.1" />
<line x1="190.18" y1="597" x2="190.18" y2="594.6" stroke="#000" stroke-width="1.1" />
<line x1="190.18" y1="348.6" x2="190.18" y2="351" stroke="#000" stroke-width="1.1" />
<line x1="193.78" y1="597" x2="193.78" y2="594.6" stroke="#000" stroke-width="1.1" />
<line x1="193.78" y1="348.6" x2="193.78" y2="351" stroke="#000" stroke-width="1.1" />
<line x1="196.96" y1="597" x2="196.96" y2="594.6" stroke="#000" stroke-width="1.1" />
<line x1="196.96" y1="348.6" x2="196.96" y2="351" stroke="#000" stroke-width="1.1" />
<line x1="199.8" y1="597" x2="199.8" y2="592.7" stroke="#000" stroke-width="1.1" />
<line x1="199.8" y1="348.6" x2="199.8" y2="352.9" stroke="#000" stroke-width="1.1" />
<line x1="218.49" y1="597" x2="218.49" y2="594.6" stroke="#000" stroke-width="1.1" />
<line x1="218.49" y1="348.6" x2="218.49" y2="351" stroke="#000" stroke-width="1.1" />
<line x1="229.43" y1="597" x2="229.43" y2="594.6" stroke="#000" stroke-width="1.1" />
<line x1="229.43" y1="348.6" x2="229.43" y2="351" stroke="#000" stroke-width="1.1" />
<line x1="237.19" y1="597" x2="237.19" y2="594.6" stroke="#000" stroke-width="1.1" />
<line x1="237.19" y1="348.6" x2="237.19" y2="351" stroke="#000" stroke-width="1.1" />
<line x1="243.21" y1="597" x2="243.21" y2="594.6" stroke="#000" stroke-width="1.1" />
<line x1="243.21" y1="348.6" x2="243.21" y2="351" stroke="#000" stroke-width="1.1" />
<line x1="248.12" y1="597" x2="248.12" y2="594.6" stroke="#000" stroke-width="1.1" />
<line x1="248.12" y1="348.6" x2="248.12" y2="351" stroke="#000" stroke-width="1.1" />
<line x1="252.28" y1="597" x2="252.28" y2="594.6" stroke="#000" stroke-width="1.1" />
<line x1="252.28" y1="348.6" x2="252.28" y2="351" stroke="#000" stroke-width="1.1" />
<line x1="255.88" y1="597" x2="255.88" y2="594.6" stroke="#000" stroke-width="1.1" />
<line x1="255.88" y1="348.6" x2="255.88" y2="351" stroke="#000" stroke-width="1.1" />
<line x1="259.06" y1="597" x2="259.06" y2="594.6" stroke="#000" stroke-width="1.1" />
<line x1="259.06" y1="348.6" x2="259.06" y2="351" stroke="#000" stroke-width="1.1" />
<line x1="261.9" y1="597" x2="261.9" y2="592.7" stroke="#000" stroke-width="1.1" />
<line x1="261.9" y1="348.6" x2="261.9" y2="352.9" stroke="#000" stroke-width="1.1" />
<line x1="280.59" y1="597" x2="280.59" y2="594.6" stroke="#000" stroke-width="1.1" />
<line x1="280.59" y1="348.6" x2="280.59" y2="351" stroke="#000" stroke-width="1.1" />
<line x1="291.53" y1="597" x2="291.53" y2="594.6" stroke="#000" stroke-width="1.1" />
<line x1="291.53" y1="348.6" x2="291.53" y2="351" stroke="#000" stroke-width="1.1" />
<line x1="299.29" y1="597" x2="299.29" y2="594.6" stroke="#000" stroke-width="1.1" />
<line x1="299.29" y1="348.6" x2="299.29" y2="351" stroke="#000" stroke-width="1.1" />
<line x1="305.31" y1="597" x2="305.31" y2="594.6" stroke="#000" stroke-width="1.1" />
<line x1="305.31" y1="348.6" x2="305.31" y2="351" stroke="#000" stroke-width="1.1" />
<line x1="310.22" y1="597" x2="310.22" y2="594.6" stroke="#000" stroke-width="1.1" />
<line x1="310.22" y1="348.6" x2="310.22" y2="351" stroke="#000" stroke-width="1.1" />
<line x1="314.38" y1="597" x2="314.38" y2="594.6" stroke="#000" stroke-width="1.1" />
<line x1="314.38" y1="348.6" x2="314.38" y2="351" stroke="#000" stroke-width="1.1" />
<line x1="317.98" y1="597" x2="317.98" y2="594.6" stroke="#000" stroke-width="1.1" />
<line x1="317.98" y1="348.6" x2="317.98" y2="351" stroke="#000" stroke-width="1.1" />
<line x1="321.16" y1="597" x2="321.16" y2="594.6" stroke="#000" stroke-width="1.1" />
<line x1="321.16" y1="348.6" x2="321.16" y2="351" stroke="#000" stroke-width="1.1" />
<text x="52.2" y="352" font-size="10.2" text-anchor="end" font-family='"Liberation Sans", sans-serif'>1.50</text>
<text x="56.0" y="352" font-size="10.2" font-family='"Liberation Sans", sans-serif'>10<tspan font-size="7.2" dy="-4.2">-5</tspan></text>
<text x="52.2" y="387.49" font-size="10.2" text-anchor="end" font-family='"Liberation Sans", sans-serif'>1.48</text>
<text x="56.0" y="387.49" font-size="10.2" font-family='"Liberation Sans", sans-serif'>10<tspan font-size="7.2" dy="-4.2">-5</tspan></text>
<text x="52.2" y="422.97" font-size="10.2" text-anchor="end" font-family='"Liberation Sans", sans-serif'>1.46</text>
<text x="56.0" y="422.97" font-size="10.2" font-family='"Liberation Sans", sans-serif'>10<tspan font-size="7.2" dy="-4.2">-5</tspan></text>
<text x="52.2" y="458.46" font-size="10.2" text-anchor="end" font-family='"Liberation Sans", sans-serif'>1.44</text>
<text x="56.0" y="458.46" font-size="10.2" font-family='"Liberation Sans", sans-serif'>10<tspan font-size="7.2" dy="-4.2">-5</tspan></text>
<text x="52.2" y="493.94" font-size="10.2" text-anchor="end" font-family='"Liberation Sans", sans-serif'>1.42</text>
<text x="56.0" y="493.94" font-size="10.2" font-family='"Liberation Sans", sans-serif'>10<tspan font-size="7.2" dy="-4.2">-5</tspan></text>
<text x="52.2" y="529.43" font-size="10.2" text-anchor="end" font-family='"Liberation Sans", sans-serif'>1.40</text>
<text x="56.0" y="529.43" font-size="10.2" font-family='"Liberation Sans", sans-serif'>10<tspan font-size="7.2" dy="-4.2">-5</tspan></text>
<text x="52.2" y="564.91" font-size="10.2" text-anchor="end" font-family='"Liberation Sans", sans-serif'>1.38</text>
<text x="56.0" y="564.91" font-size="10.2" font-family='"Liberation Sans", sans-serif'>10<tspan font-size="7.2" dy="-4.2">-5</tspan></text>
<text x="52.2" y="600.4" font-size="10.2" text-anchor="end" font-family='"Liberation Sans", sans-serif'>1.36</text>
<text x="56.0" y="600.4" font-size="10.2" font-family='"Liberation Sans", sans-serif'>10<tspan font-size="7.2" dy="-4.2">-5</tspan></text>
<text x="75.6" y="608" font-size="9.8" fill="#000" text-anchor="middle" font-family='"Liberation Sans", sans-serif' >10</text>
<text x="137.7" y="608" font-size="9.8" fill="#000" text-anchor="middle" font-family='"Liberation Sans", sans-serif' >100</text>
<text x="199.8" y="608" font-size="9.8" fill="#000" text-anchor="middle" font-family='"Liberation Sans", sans-serif' >1000</text>
<text x="263.7" y="608" font-size="9.8" text-anchor="middle" font-family='"Liberation Sans", sans-serif'>10<tspan font-size="7" dy="-4">4</tspan></text>
<text x="325.8" y="608" font-size="9.8" text-anchor="middle" font-family='"Liberation Sans", sans-serif'>10<tspan font-size="7" dy="-4">5</tspan></text>
<text x="174.6" y="625.1" font-size="12.7" font-family='"Liberation Sans", sans-serif'>Time <tspan font-style="italic">t</tspan> (s)</text>
<text x="-0.3" y="361.2" font-size="18.5" fill="#000" text-anchor="start" font-family='"Liberation Sans", sans-serif' >c</text>
<text x="117.3" y="463.3" font-size="16" fill="#000" text-anchor="start" font-family='"Liberation Sans", sans-serif' >12 K</text>
<text x="174.6" y="395.6" font-size="13.3" font-family='"Liberation Sans", sans-serif'><tspan font-style="italic">M</tspan><tspan font-size="9.2" dy="5.4" dx="0.6">r</tspan><tspan dy="-5.4" dx="1.6"> = </tspan><tspan font-style="italic">M</tspan><tspan font-size="9.2" dy="5.4" dx="0.6">0</tspan><tspan dy="-5.4" dx="1.3"> [1-</tspan><tspan font-style="italic" fill="#ff0000" dx="0.4">&#945;</tspan><tspan dx="0.8">log(</tspan><tspan font-style="italic">t</tspan>-<tspan font-style="italic">t</tspan><tspan font-size="9.2" dy="5.4" dx="0.4">0</tspan><tspan dy="-5.4" dx="0.8">)]</tspan></text>
<text transform="translate(21.6,529.4) rotate(-90)" font-size="12.6" font-family='"Liberation Sans", sans-serif'><tspan font-style="italic">M</tspan><tspan font-size="9.2" dy="6.3" font-style="italic">r</tspan><tspan dy="-6.3"> (</tspan><tspan font-style="italic">&#956;</tspan><tspan font-size="9.2" dy="6.3">B</tspan><tspan dy="-6.3">/Cu</tspan><tspan font-size="9.2" dy="6.3">4</tspan><tspan dy="-6.3">(OH)</tspan><tspan font-size="9.2" dy="6.3">6</tspan><tspan dy="-6.3">Cl</tspan><tspan font-size="9.2" dy="6.3">2</tspan><tspan dy="-6.3">)</tspan></text>
<line x1="441.6" y1="384.5" x2="441.6" y2="595.2" stroke="#9a9a9a" stroke-width="0.9" stroke-dasharray="6 4"/>
<line x1="552.6" y1="380" x2="552.6" y2="595.2" stroke="#9a9a9a" stroke-width="0.9" stroke-dasharray="6 4"/>
<defs><clipPath id="cd"><rect x="399.4" y="348" width="248.6" height="251.2"/></clipPath></defs>
<g clip-path="url(#cd)">
<path d="M414.8 354.3 L422.6 357.1 L430.5 362.1 L438 370.3 L442 380.8 L446 401.8 L447.4 417 L448.8 433.4 L453.7 472.4 L461.6 499.7 L469.6 516.6 L480.5 544.4 L492.9 549.8 L516.2 562.2 L527.7 559.2 L539.6 559.7 L546.5 559.7 L555 565.7 L569.8 564.7 L586 569.8 L593.6 574.6 L601.2 576.6 L609.3 582.8 L617 589.2 L624.8 594.6" fill="none" stroke="#3a5cff" stroke-width="1" stroke-dasharray="1.6 2.6"/>
<path d="M414.8 589.3 L422.5 587.8 L430.4 585.6 L438.1 581.9 L442 552.2 L446 557.2 L447.6 524 L448.8 504.1 L453.7 516.1 L461.6 479.8 L469.6 470.9 L480.8 409.7 L492.9 450 L515.4 482.8 L527.7 523.5 L539.6 523.5 L546.5 521.5 L555 472.9 L570.1 446.3 L586 404.6 L593.6 411.2 L601.1 471.9 L608.6 492.2 L616.5 527 L624.8 547.4 L632.3 595.3" fill="none" stroke="#ff3c80" stroke-width="1" stroke-dasharray="1.6 2.8"/>
<circle cx="414.8" cy="354.3" r="2.9" fill="#fff" stroke="#6a8cff" stroke-width="0.75"/>
<line x1="412.9" y1="354.3" x2="416.7" y2="354.3" stroke="#d020b0" stroke-width="0.75" />
<circle cx="422.6" cy="357.1" r="2.9" fill="#fff" stroke="#6a8cff" stroke-width="0.75"/>
<line x1="420.7" y1="357.1" x2="424.5" y2="357.1" stroke="#d020b0" stroke-width="0.75" />
<circle cx="430.5" cy="362.1" r="2.9" fill="#fff" stroke="#6a8cff" stroke-width="0.75"/>
<line x1="428.6" y1="362.1" x2="432.4" y2="362.1" stroke="#d020b0" stroke-width="0.75" />
<circle cx="438" cy="370.3" r="2.9" fill="#fff" stroke="#6a8cff" stroke-width="0.75"/>
<line x1="436.1" y1="370.3" x2="439.9" y2="370.3" stroke="#d020b0" stroke-width="0.75" />
<circle cx="442" cy="380.8" r="3.7" fill="#fff" stroke="#5a5af0" stroke-width="0.75"/>
<circle cx="446" cy="401.8" r="2.9" fill="#fff" stroke="#6a8cff" stroke-width="0.75"/>
<line x1="444.1" y1="401.8" x2="447.9" y2="401.8" stroke="#d020b0" stroke-width="0.75" />
<circle cx="447.4" cy="417" r="3.7" fill="#fff" stroke="#5a5af0" stroke-width="0.75"/>
<circle cx="448.8" cy="433.4" r="3.7" fill="#fff" stroke="#5a5af0" stroke-width="0.75"/>
<circle cx="453.7" cy="472.4" r="3.7" fill="#fff" stroke="#5a5af0" stroke-width="0.75"/>
<circle cx="461.6" cy="499.7" r="3.7" fill="#fff" stroke="#5a5af0" stroke-width="0.75"/>
<circle cx="469.6" cy="516.6" r="3.7" fill="#fff" stroke="#5a5af0" stroke-width="0.75"/>
<circle cx="480.5" cy="544.4" r="3.7" fill="#fff" stroke="#5a5af0" stroke-width="0.75"/>
<circle cx="492.9" cy="549.8" r="3.7" fill="#fff" stroke="#5a5af0" stroke-width="0.75"/>
<circle cx="516.2" cy="562.2" r="3.7" fill="#fff" stroke="#5a5af0" stroke-width="0.75"/>
<circle cx="527.7" cy="559.2" r="3.7" fill="#fff" stroke="#5a5af0" stroke-width="0.75"/>
<circle cx="539.6" cy="559.7" r="3.7" fill="#fff" stroke="#5a5af0" stroke-width="0.75"/>
<circle cx="546.5" cy="559.7" r="3.7" fill="#fff" stroke="#5a5af0" stroke-width="0.75"/>
<circle cx="555" cy="565.7" r="3.7" fill="#fff" stroke="#5a5af0" stroke-width="0.75"/>
<circle cx="569.8" cy="564.7" r="3.7" fill="#fff" stroke="#5a5af0" stroke-width="0.75"/>
<circle cx="586" cy="569.8" r="3.7" fill="#fff" stroke="#5a5af0" stroke-width="0.75"/>
<circle cx="593.6" cy="574.6" r="3.7" fill="#fff" stroke="#5a5af0" stroke-width="0.75"/>
<circle cx="601.2" cy="576.6" r="3.7" fill="#fff" stroke="#5a5af0" stroke-width="0.75"/>
<circle cx="609.3" cy="582.8" r="3.7" fill="#fff" stroke="#5a5af0" stroke-width="0.75"/>
<circle cx="617" cy="589.2" r="3.7" fill="#fff" stroke="#5a5af0" stroke-width="0.75"/>
<circle cx="624.8" cy="594.6" r="3.7" fill="#fff" stroke="#5a5af0" stroke-width="0.75"/>
<circle cx="414.8" cy="589.3" r="3.6" fill="#ff0a5a"/>
<circle cx="422.5" cy="587.8" r="3.6" fill="#ff0a5a"/>
<circle cx="430.4" cy="585.6" r="3.6" fill="#ff0a5a"/>
<circle cx="438.1" cy="581.9" r="3.6" fill="#ff0a5a"/>
<circle cx="442" cy="552.2" r="3.6" fill="#ff0a5a"/>
<circle cx="446" cy="557.2" r="3.6" fill="#ff0a5a"/>
<circle cx="447.6" cy="524" r="3.6" fill="#ff0a5a"/>
<circle cx="448.8" cy="504.1" r="3.6" fill="#ff0a5a"/>
<circle cx="453.7" cy="516.1" r="3.6" fill="#ff0a5a"/>
<circle cx="461.6" cy="479.8" r="3.6" fill="#ff0a5a"/>
<circle cx="469.6" cy="470.9" r="3.6" fill="#ff0a5a"/>
<circle cx="480.8" cy="409.7" r="3.6" fill="#ff0a5a"/>
<circle cx="492.9" cy="450" r="3.6" fill="#ff0a5a"/>
<circle cx="515.4" cy="482.8" r="3.6" fill="#ff0a5a"/>
<circle cx="527.7" cy="523.5" r="3.6" fill="#ff0a5a"/>
<circle cx="539.6" cy="523.5" r="3.6" fill="#ff0a5a"/>
<circle cx="546.5" cy="521.5" r="3.6" fill="#ff0a5a"/>
<circle cx="555" cy="472.9" r="3.6" fill="#ff0a5a"/>
<circle cx="570.1" cy="446.3" r="3.6" fill="#ff0a5a"/>
<circle cx="586" cy="404.6" r="3.6" fill="#ff0a5a"/>
<circle cx="593.6" cy="411.2" r="3.6" fill="#ff0a5a"/>
<circle cx="601.1" cy="471.9" r="3.6" fill="#ff0a5a"/>
<circle cx="608.6" cy="492.2" r="3.6" fill="#ff0a5a"/>
<circle cx="616.5" cy="527" r="3.6" fill="#ff0a5a"/>
<circle cx="624.8" cy="547.4" r="3.6" fill="#ff0a5a"/>
<circle cx="632.3" cy="595.3" r="3.6" fill="#ff0a5a"/>
<line x1="624.8" y1="537.2" x2="624.8" y2="558.2" stroke="#ff0a5a" stroke-width="0.9" />
<line x1="623.2" y1="537.2" x2="626.4" y2="537.2" stroke="#ff0a5a" stroke-width="0.9" />
<line x1="623.2" y1="558.2" x2="626.4" y2="558.2" stroke="#ff0a5a" stroke-width="0.9" />
</g>
<line x1="399.4" y1="347.3" x2="399.4" y2="595.9" stroke="#000" stroke-width="1.4" />
<line x1="648" y1="347.3" x2="648" y2="595.9" stroke="#000" stroke-width="1.4" />
<line x1="398.7" y1="348" x2="648.7" y2="348" stroke="#000" stroke-width="1.4" />
<line x1="398.7" y1="595.2" x2="648.7" y2="595.2" stroke="#000" stroke-width="1.4" />
<line x1="407.17" y1="595.2" x2="407.17" y2="592.8" stroke="#000" stroke-width="1.1" />
<line x1="407.17" y1="348" x2="407.17" y2="350.4" stroke="#000" stroke-width="1.1" />
<line x1="414.94" y1="595.2" x2="414.94" y2="592.8" stroke="#000" stroke-width="1.1" />
<line x1="414.94" y1="348" x2="414.94" y2="350.4" stroke="#000" stroke-width="1.1" />
<line x1="422.71" y1="595.2" x2="422.71" y2="592.8" stroke="#000" stroke-width="1.1" />
<line x1="422.71" y1="348" x2="422.71" y2="350.4" stroke="#000" stroke-width="1.1" />
<line x1="430.47" y1="595.2" x2="430.47" y2="590.9" stroke="#000" stroke-width="1.1" />
<line x1="430.47" y1="348" x2="430.47" y2="352.3" stroke="#000" stroke-width="1.1" />
<line x1="438.24" y1="595.2" x2="438.24" y2="592.8" stroke="#000" stroke-width="1.1" />
<line x1="438.24" y1="348" x2="438.24" y2="350.4" stroke="#000" stroke-width="1.1" />
<line x1="446.01" y1="595.2" x2="446.01" y2="592.8" stroke="#000" stroke-width="1.1" />
<line x1="446.01" y1="348" x2="446.01" y2="350.4" stroke="#000" stroke-width="1.1" />
<line x1="453.78" y1="595.2" x2="453.78" y2="592.8" stroke="#000" stroke-width="1.1" />
<line x1="453.78" y1="348" x2="453.78" y2="350.4" stroke="#000" stroke-width="1.1" />
<line x1="461.55" y1="595.2" x2="461.55" y2="590.9" stroke="#000" stroke-width="1.1" />
<line x1="461.55" y1="348" x2="461.55" y2="352.3" stroke="#000" stroke-width="1.1" />
<line x1="469.32" y1="595.2" x2="469.32" y2="592.8" stroke="#000" stroke-width="1.1" />
<line x1="469.32" y1="348" x2="469.32" y2="350.4" stroke="#000" stroke-width="1.1" />
<line x1="477.09" y1="595.2" x2="477.09" y2="592.8" stroke="#000" stroke-width="1.1" />
<line x1="477.09" y1="348" x2="477.09" y2="350.4" stroke="#000" stroke-width="1.1" />
<line x1="484.86" y1="595.2" x2="484.86" y2="592.8" stroke="#000" stroke-width="1.1" />
<line x1="484.86" y1="348" x2="484.86" y2="350.4" stroke="#000" stroke-width="1.1" />
<line x1="492.62" y1="595.2" x2="492.62" y2="590.9" stroke="#000" stroke-width="1.1" />
<line x1="492.62" y1="348" x2="492.62" y2="352.3" stroke="#000" stroke-width="1.1" />
<line x1="500.39" y1="595.2" x2="500.39" y2="592.8" stroke="#000" stroke-width="1.1" />
<line x1="500.39" y1="348" x2="500.39" y2="350.4" stroke="#000" stroke-width="1.1" />
<line x1="508.16" y1="595.2" x2="508.16" y2="592.8" stroke="#000" stroke-width="1.1" />
<line x1="508.16" y1="348" x2="508.16" y2="350.4" stroke="#000" stroke-width="1.1" />
<line x1="515.93" y1="595.2" x2="515.93" y2="592.8" stroke="#000" stroke-width="1.1" />
<line x1="515.93" y1="348" x2="515.93" y2="350.4" stroke="#000" stroke-width="1.1" />
<line x1="523.7" y1="595.2" x2="523.7" y2="590.9" stroke="#000" stroke-width="1.1" />
<line x1="523.7" y1="348" x2="523.7" y2="352.3" stroke="#000" stroke-width="1.1" />
<line x1="531.47" y1="595.2" x2="531.47" y2="592.8" stroke="#000" stroke-width="1.1" />
<line x1="531.47" y1="348" x2="531.47" y2="350.4" stroke="#000" stroke-width="1.1" />
<line x1="539.24" y1="595.2" x2="539.24" y2="592.8" stroke="#000" stroke-width="1.1" />
<line x1="539.24" y1="348" x2="539.24" y2="350.4" stroke="#000" stroke-width="1.1" />
<line x1="547.01" y1="595.2" x2="547.01" y2="592.8" stroke="#000" stroke-width="1.1" />
<line x1="547.01" y1="348" x2="547.01" y2="350.4" stroke="#000" stroke-width="1.1" />
<line x1="554.77" y1="595.2" x2="554.77" y2="590.9" stroke="#000" stroke-width="1.1" />
<line x1="554.77" y1="348" x2="554.77" y2="352.3" stroke="#000" stroke-width="1.1" />
<line x1="562.54" y1="595.2" x2="562.54" y2="592.8" stroke="#000" stroke-width="1.1" />
<line x1="562.54" y1="348" x2="562.54" y2="350.4" stroke="#000" stroke-width="1.1" />
<line x1="570.31" y1="595.2" x2="570.31" y2="592.8" stroke="#000" stroke-width="1.1" />
<line x1="570.31" y1="348" x2="570.31" y2="350.4" stroke="#000" stroke-width="1.1" />
<line x1="578.08" y1="595.2" x2="578.08" y2="592.8" stroke="#000" stroke-width="1.1" />
<line x1="578.08" y1="348" x2="578.08" y2="350.4" stroke="#000" stroke-width="1.1" />
<line x1="585.85" y1="595.2" x2="585.85" y2="590.9" stroke="#000" stroke-width="1.1" />
<line x1="585.85" y1="348" x2="585.85" y2="352.3" stroke="#000" stroke-width="1.1" />
<line x1="593.62" y1="595.2" x2="593.62" y2="592.8" stroke="#000" stroke-width="1.1" />
<line x1="593.62" y1="348" x2="593.62" y2="350.4" stroke="#000" stroke-width="1.1" />
<line x1="601.39" y1="595.2" x2="601.39" y2="592.8" stroke="#000" stroke-width="1.1" />
<line x1="601.39" y1="348" x2="601.39" y2="350.4" stroke="#000" stroke-width="1.1" />
<line x1="609.16" y1="595.2" x2="609.16" y2="592.8" stroke="#000" stroke-width="1.1" />
<line x1="609.16" y1="348" x2="609.16" y2="350.4" stroke="#000" stroke-width="1.1" />
<line x1="616.92" y1="595.2" x2="616.92" y2="590.9" stroke="#000" stroke-width="1.1" />
<line x1="616.92" y1="348" x2="616.92" y2="352.3" stroke="#000" stroke-width="1.1" />
<line x1="624.69" y1="595.2" x2="624.69" y2="592.8" stroke="#000" stroke-width="1.1" />
<line x1="624.69" y1="348" x2="624.69" y2="350.4" stroke="#000" stroke-width="1.1" />
<line x1="632.46" y1="595.2" x2="632.46" y2="592.8" stroke="#000" stroke-width="1.1" />
<line x1="632.46" y1="348" x2="632.46" y2="350.4" stroke="#000" stroke-width="1.1" />
<line x1="640.23" y1="595.2" x2="640.23" y2="592.8" stroke="#000" stroke-width="1.1" />
<line x1="640.23" y1="348" x2="640.23" y2="350.4" stroke="#000" stroke-width="1.1" />
<line x1="399.4" y1="585.96" x2="401.8" y2="585.96" stroke="#000" stroke-width="1.1" />
<line x1="399.4" y1="579.64" x2="401.8" y2="579.64" stroke="#000" stroke-width="1.1" />
<line x1="399.4" y1="574.73" x2="401.8" y2="574.73" stroke="#000" stroke-width="1.1" />
<line x1="399.4" y1="570.73" x2="401.8" y2="570.73" stroke="#000" stroke-width="1.1" />
<line x1="399.4" y1="567.34" x2="401.8" y2="567.34" stroke="#000" stroke-width="1.1" />
<line x1="399.4" y1="564.4" x2="401.8" y2="564.4" stroke="#000" stroke-width="1.1" />
<line x1="399.4" y1="561.82" x2="401.8" y2="561.82" stroke="#000" stroke-width="1.1" />
<line x1="399.4" y1="559.5" x2="403.7" y2="559.5" stroke="#000" stroke-width="1.1" />
<line x1="399.4" y1="544.27" x2="401.8" y2="544.27" stroke="#000" stroke-width="1.1" />
<line x1="399.4" y1="535.36" x2="401.8" y2="535.36" stroke="#000" stroke-width="1.1" />
<line x1="399.4" y1="529.04" x2="401.8" y2="529.04" stroke="#000" stroke-width="1.1" />
<line x1="399.4" y1="524.13" x2="401.8" y2="524.13" stroke="#000" stroke-width="1.1" />
<line x1="399.4" y1="520.13" x2="401.8" y2="520.13" stroke="#000" stroke-width="1.1" />
<line x1="399.4" y1="516.74" x2="401.8" y2="516.74" stroke="#000" stroke-width="1.1" />
<line x1="399.4" y1="513.8" x2="401.8" y2="513.8" stroke="#000" stroke-width="1.1" />
<line x1="399.4" y1="511.22" x2="401.8" y2="511.22" stroke="#000" stroke-width="1.1" />
<line x1="399.4" y1="508.9" x2="403.7" y2="508.9" stroke="#000" stroke-width="1.1" />
<line x1="399.4" y1="493.67" x2="401.8" y2="493.67" stroke="#000" stroke-width="1.1" />
<line x1="399.4" y1="484.76" x2="401.8" y2="484.76" stroke="#000" stroke-width="1.1" />
<line x1="399.4" y1="478.44" x2="401.8" y2="478.44" stroke="#000" stroke-width="1.1" />
<line x1="399.4" y1="473.53" x2="401.8" y2="473.53" stroke="#000" stroke-width="1.1" />
<line x1="399.4" y1="469.53" x2="401.8" y2="469.53" stroke="#000" stroke-width="1.1" />
<line x1="399.4" y1="466.14" x2="401.8" y2="466.14" stroke="#000" stroke-width="1.1" />
<line x1="399.4" y1="463.2" x2="401.8" y2="463.2" stroke="#000" stroke-width="1.1" />
<line x1="399.4" y1="460.62" x2="401.8" y2="460.62" stroke="#000" stroke-width="1.1" />
<line x1="399.4" y1="458.3" x2="403.7" y2="458.3" stroke="#000" stroke-width="1.1" />
<line x1="399.4" y1="443.07" x2="401.8" y2="443.07" stroke="#000" stroke-width="1.1" />
<line x1="399.4" y1="434.16" x2="401.8" y2="434.16" stroke="#000" stroke-width="1.1" />
<line x1="399.4" y1="427.84" x2="401.8" y2="427.84" stroke="#000" stroke-width="1.1" />
<line x1="399.4" y1="422.93" x2="401.8" y2="422.93" stroke="#000" stroke-width="1.1" />
<line x1="399.4" y1="418.93" x2="401.8" y2="418.93" stroke="#000" stroke-width="1.1" />
<line x1="399.4" y1="415.54" x2="401.8" y2="415.54" stroke="#000" stroke-width="1.1" />
<line x1="399.4" y1="412.6" x2="401.8" y2="412.6" stroke="#000" stroke-width="1.1" />
<line x1="399.4" y1="410.02" x2="401.8" y2="410.02" stroke="#000" stroke-width="1.1" />
<line x1="399.4" y1="407.7" x2="403.7" y2="407.7" stroke="#000" stroke-width="1.1" />
<line x1="399.4" y1="392.47" x2="401.8" y2="392.47" stroke="#000" stroke-width="1.1" />
<line x1="399.4" y1="383.56" x2="401.8" y2="383.56" stroke="#000" stroke-width="1.1" />
<line x1="399.4" y1="377.24" x2="401.8" y2="377.24" stroke="#000" stroke-width="1.1" />
<line x1="399.4" y1="372.33" x2="401.8" y2="372.33" stroke="#000" stroke-width="1.1" />
<line x1="399.4" y1="368.33" x2="401.8" y2="368.33" stroke="#000" stroke-width="1.1" />
<line x1="399.4" y1="364.94" x2="401.8" y2="364.94" stroke="#000" stroke-width="1.1" />
<line x1="399.4" y1="362" x2="401.8" y2="362" stroke="#000" stroke-width="1.1" />
<line x1="399.4" y1="359.42" x2="401.8" y2="359.42" stroke="#000" stroke-width="1.1" />
<line x1="399.4" y1="357.1" x2="403.7" y2="357.1" stroke="#000" stroke-width="1.1" />
<line x1="648" y1="585.31" x2="645.6" y2="585.31" stroke="#000" stroke-width="1.1" />
<line x1="648" y1="575.42" x2="645.6" y2="575.42" stroke="#000" stroke-width="1.1" />
<line x1="648" y1="565.54" x2="645.6" y2="565.54" stroke="#000" stroke-width="1.1" />
<line x1="648" y1="555.65" x2="645.6" y2="555.65" stroke="#000" stroke-width="1.1" />
<line x1="648" y1="545.76" x2="643.7" y2="545.76" stroke="#000" stroke-width="1.1" />
<line x1="648" y1="535.87" x2="645.6" y2="535.87" stroke="#000" stroke-width="1.1" />
<line x1="648" y1="525.98" x2="645.6" y2="525.98" stroke="#000" stroke-width="1.1" />
<line x1="648" y1="516.1" x2="645.6" y2="516.1" stroke="#000" stroke-width="1.1" />
<line x1="648" y1="506.21" x2="645.6" y2="506.21" stroke="#000" stroke-width="1.1" />
<line x1="648" y1="496.32" x2="643.7" y2="496.32" stroke="#000" stroke-width="1.1" />
<line x1="648" y1="486.43" x2="645.6" y2="486.43" stroke="#000" stroke-width="1.1" />
<line x1="648" y1="476.54" x2="645.6" y2="476.54" stroke="#000" stroke-width="1.1" />
<line x1="648" y1="466.66" x2="645.6" y2="466.66" stroke="#000" stroke-width="1.1" />
<line x1="648" y1="456.77" x2="645.6" y2="456.77" stroke="#000" stroke-width="1.1" />
<line x1="648" y1="446.88" x2="643.7" y2="446.88" stroke="#000" stroke-width="1.1" />
<line x1="648" y1="436.99" x2="645.6" y2="436.99" stroke="#000" stroke-width="1.1" />
<line x1="648" y1="427.1" x2="645.6" y2="427.1" stroke="#000" stroke-width="1.1" />
<line x1="648" y1="417.22" x2="645.6" y2="417.22" stroke="#000" stroke-width="1.1" />
<line x1="648" y1="407.33" x2="645.6" y2="407.33" stroke="#000" stroke-width="1.1" />
<line x1="648" y1="397.44" x2="643.7" y2="397.44" stroke="#000" stroke-width="1.1" />
<line x1="648" y1="387.55" x2="645.6" y2="387.55" stroke="#000" stroke-width="1.1" />
<line x1="648" y1="377.66" x2="645.6" y2="377.66" stroke="#000" stroke-width="1.1" />
<line x1="648" y1="367.78" x2="645.6" y2="367.78" stroke="#000" stroke-width="1.1" />
<line x1="648" y1="357.89" x2="645.6" y2="357.89" stroke="#000" stroke-width="1.1" />
<text x="396.6" y="360.1" font-size="10.3" fill="#1818e8" text-anchor="end" font-family='"Liberation Sans", sans-serif'>10<tspan font-size="7" dy="-4.2">-1</tspan></text>
<text x="396.6" y="410.7" font-size="10.3" fill="#1818e8" text-anchor="end" font-family='"Liberation Sans", sans-serif'>10<tspan font-size="7" dy="-4.2">-2</tspan></text>
<text x="396.6" y="461.3" font-size="10.3" fill="#1818e8" text-anchor="end" font-family='"Liberation Sans", sans-serif'>10<tspan font-size="7" dy="-4.2">-3</tspan></text>
<text x="396.6" y="511.9" font-size="10.3" fill="#1818e8" text-anchor="end" font-family='"Liberation Sans", sans-serif'>10<tspan font-size="7" dy="-4.2">-4</tspan></text>
<text x="396.6" y="562.5" font-size="10.3" fill="#1818e8" text-anchor="end" font-family='"Liberation Sans", sans-serif'>10<tspan font-size="7" dy="-4.2">-5</tspan></text>
<text x="652.6" y="598.7" font-size="10.3" fill="#ff1010" text-anchor="start" font-family='"Liberation Sans", sans-serif' >0</text>
<text x="652.6" y="549.26" font-size="10.3" fill="#ff1010" text-anchor="start" font-family='"Liberation Sans", sans-serif' >0.01</text>
<text x="652.6" y="499.82" font-size="10.3" fill="#ff1010" text-anchor="start" font-family='"Liberation Sans", sans-serif' >0.02</text>
<text x="652.6" y="450.38" font-size="10.3" fill="#ff1010" text-anchor="start" font-family='"Liberation Sans", sans-serif' >0.03</text>
<text x="652.6" y="400.94" font-size="10.3" fill="#ff1010" text-anchor="start" font-family='"Liberation Sans", sans-serif' >0.04</text>
<text x="652.6" y="351.5" font-size="10.3" fill="#ff1010" text-anchor="start" font-family='"Liberation Sans", sans-serif' >0.05</text>
<text x="399.4" y="607.4" font-size="9.8" fill="#000" text-anchor="middle" font-family='"Liberation Sans", sans-serif' >0</text>
<text x="430.47" y="607.4" font-size="9.8" fill="#000" text-anchor="middle" font-family='"Liberation Sans", sans-serif' >4</text>
<text x="461.55" y="607.4" font-size="9.8" fill="#000" text-anchor="middle" font-family='"Liberation Sans", sans-serif' >8</text>
<text x="492.62" y="607.4" font-size="9.8" fill="#000" text-anchor="middle" font-family='"Liberation Sans", sans-serif' >12</text>
<text x="523.7" y="607.4" font-size="9.8" fill="#000" text-anchor="middle" font-family='"Liberation Sans", sans-serif' >16</text>
<text x="554.77" y="607.4" font-size="9.8" fill="#000" text-anchor="middle" font-family='"Liberation Sans", sans-serif' >20</text>
<text x="585.85" y="607.4" font-size="9.8" fill="#000" text-anchor="middle" font-family='"Liberation Sans", sans-serif' >24</text>
<text x="616.92" y="607.4" font-size="9.8" fill="#000" text-anchor="middle" font-family='"Liberation Sans", sans-serif' >28</text>
<text x="648" y="607.4" font-size="9.8" fill="#000" text-anchor="middle" font-family='"Liberation Sans", sans-serif' >32</text>
<text x="355.6" y="362.9" font-size="18.5" fill="#000" text-anchor="start" font-family='"Liberation Sans", sans-serif' >d</text>
<text x="516.9" y="625" font-size="12.7" font-family='"Liberation Sans", sans-serif'><tspan font-style="italic">T</tspan> (K)</text>
<text transform="translate(367.2,503.2) rotate(-90)" font-size="12.9" fill="#1818e8" font-family='"Liberation Sans", sans-serif'><tspan font-style="italic">M</tspan><tspan font-size="9.2" dy="6.6">0</tspan><tspan dy="-6.6"> (&#956;</tspan><tspan font-size="9.2" dy="6.6">B</tspan><tspan dy="-6.6">/f.u.)</tspan></text>
<text transform="translate(679.2,470.4) rotate(90)" font-size="12.5" fill="#ff1010" font-style="italic" font-family='"Liberation Sans", sans-serif'>&#945;</text>
<line x1="432" y1="374.1" x2="409.9" y2="374.1" stroke="#000" stroke-width="1.5" />
<path d="M403.9 374.1 L414.2 370 L410.7 374.1 L414.2 378.2 Z" fill="#000"/>
<line x1="608.7" y1="414.1" x2="631.2" y2="414.1" stroke="#000" stroke-width="1.5" />
<path d="M637.2 414.1 L626.9 410 L630.4 414.1 L626.9 418.2 Z" fill="#000"/>
</svg></body></html>
